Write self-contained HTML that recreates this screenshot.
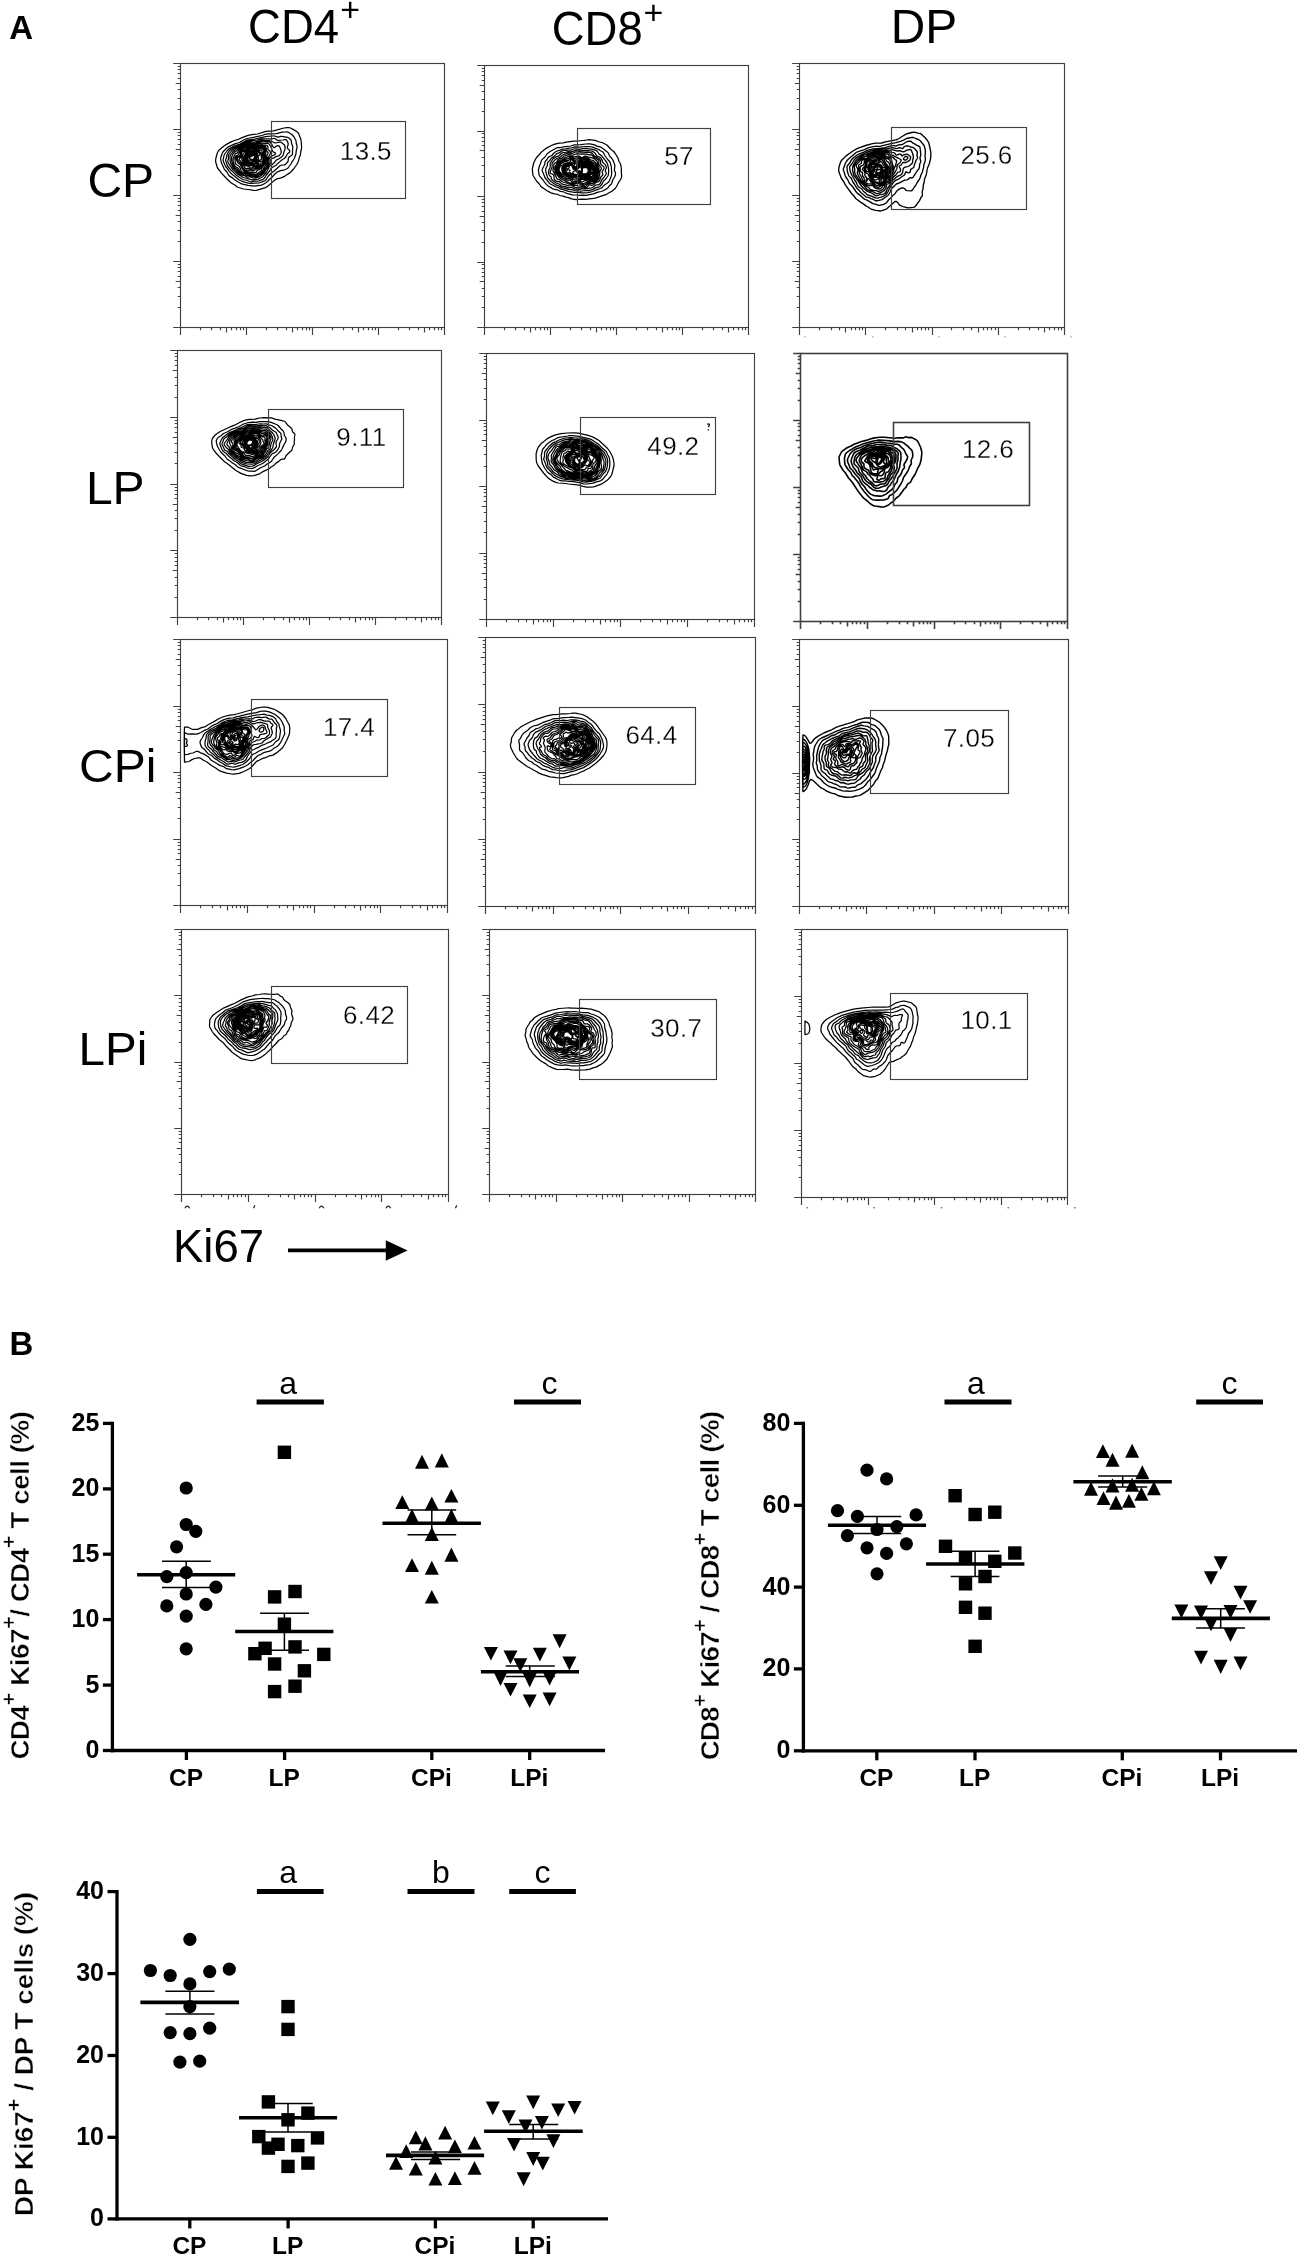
<!DOCTYPE html>
<html><head><meta charset="utf-8"><title>Figure</title>
<style>html,body{margin:0;padding:0;background:#fff}svg{display:block;filter:grayscale(1)}text{font-family:"Liberation Sans",sans-serif;fill:#000}</style>
</head><body>
<svg width="1299" height="2257" viewBox="0 0 1299 2257">
<rect width="1299" height="2257" fill="#fff"/>
<path d="M283.9 128l3.1-0.4 2 0 1.5 0.4 3 1.6 3.5 2.2 1 0.9 0.9 1.3 0.6 2 1.3 3 0.5 4 0.3 4.5 -0.2 1.5 -0.6 2.5 -0.4 3.5 -1.1 2.5 -0.5 2.5 -0.5 1.5 -1.5 3 -3.2 4.5 -2.6 2.8 -2 1.6 -2.6 1.6 -2.4 1.7 -3.5 1.4 -3 0.6 -1 0.4 -3 2 -6.1 5.4 -1.9 1.1 -8.5 2.6 -1.5 0.3 -2-0.1 -5-0.9 -5-0.5 -5-1.5 -1.5-0.7 -2.2-1.8 -3.5-2 -4.8-4.5 -5-5.4 -4-5.1 -0.4-1 -0.6-2.5 -0.7-2 -0.2-1.5 0.2-2.5 1.5-5.5 1.1-2 1.1-1.3 2.5-2.2 3.5-2.6 5.5-3 5-1.9 2.5-0.7 3-1.4 6.5-2.5 4-0.8 5.3-0.6 8.7-2.6 7.5-0.6zM285.2 132l1.8-0.1 1 0.2 4.4 2.9 1.3 1.5 2 3.5 0.3 1 0.3 2.5 0.7 2.5 0.1 1.5 -0.8 3 -0.4 3.5 -1.2 3.5 -0.7 1.5 -1.5 2.1 -1.6 2.9 -2.9 4 -1 0.7 -3.5 1.5 -3 0.5 -3.5 1.4 -2.1 1.9 -3.1 3.5 -2.5 2 -1.8 2.1 -1.5 1.1 -3.5 2 -1 0.4 -7 1 -6.5-0.7 -5.5-1.3 -2-0.8 -2-1.1 -3.5-2.2 -2.5-2.1 -3-1.8 -0.9-1.1 -2.1-3.5 -2-2 -3.2-7 -0.6-3 0-2 1.4-4 0.8-1.5 3.4-3.5 1.7-1.4 4.5-2.3 3-1.2 4-1.1 3.5-2.2 2.5-1.3 1.5-0.5 12-2.3 3-0.7 2.5-1 1.5-0.4 2.5-0.3 8-0.2 5.5-1.4zM272.1 136l1.4-0.1 1 0.1 3.5 1.1 0.5 0 2-0.8 1 0 6 1 1.5 0.7 2 2 0.3 1 0.4 3 0.9 2 0.2 1 -0.2 2 -0.1 5 -0.5 1 -0.5 0.5 -2 1.3 -0.7 0.7 -0.5 1 -0.1 2 -0.2 1 -2.5 2.9 -1 0.5 -3 0.1 -1.9 1 -5.1 4.7 -2.5 1.8 -2.7 2.5 -0.8 1 -2.5 3.7 -0.8 0.8 -1.2 0.7 -3.5 1.3 -1.5 0.4 -8.5 0.5 -2-0.3 -5-1.2 -3.3-1.4 -1.7-1.1 -2-1.7 -4.3-3.2 -3.2-3.4 -1.5-2.3 -1.8-2.3 -2.2-4.8 -0.4-1.7 0.9-4.5 0.4-1 2.9-4 1.4-1.5 3.8-2.3 7.5-2.7 7-3.9 7.7-1.1 10.8-2.4zM273.3 138.5l0.7-0.1 1 0.2 2 1.5 1 0.3 5-0.4 2-0.5 0.6 0 0.9 0.4 1.2 2.1 0.5 1.5 -0.1 1.5 -0.8 2 0.1 1 0.6 0.9 1.5 1.3 0.3 1.3 -0.3 0.7 -2 1.6 -1.5 2.7 -1.5 1.8 -2.7 1.7 -3.3 2.9 -2.5 2.4 -4.7 2.7 -1.3 2.5 -3.6 4.5 -1.5 2.5 -0.9 1.1 -1 0.7 -4 1.5 -2.5 0.3 -2.5 0.1 -3 0.6 -1.5-0.3 -3-1.5 -2.5-0.2 -1-0.3 -1.5-0.7 -5.5-3.8 -3-3.1 -2.5-2.2 -2.9-3.7 -2-5.5 0.1-1 0.6-1.5 0.5-2.5 1-2.5 1.3-2 1.5-1.5 2.2-1.5 7.7-3 6-3.3 1.5-0.6 9-1 4.5-1.2 7-0.1 3 0.3zM260.3 140.5l1.7-0.3 3.5 0.4 3.5 0 4.1 1.4 1.9 1 4.5-0.8 1 0 1 0.3 3 2.4 0.5 1.6 0 3 -1 2.2 -0.8 3.3 -0.6 1 -1.6 1.4 -2.5 1.7 -2.1 0.9 -1.5 2 -2.4 2.4 -3 1.8 -0.5 0.8 -0.7 2 -2.3 4 -3.5 3.8 -1 0.7 -3.5 1.6 -6 0.7 -5.5-1.6 -3.5-0.7 -2-1.5 -3-1.6 -1-0.8 -2.3-2.6 -2.2-1.8 -1.5-2.4 -1.5-1.8 -1.3-2.5 -0.4-1 0.1-1 0.5-1.5 0-3 0.4-1.5 2.6-3.5 2.6-2.2 3.7-1.8 4.3-1.5 5.5-3 1.5-0.4 6.5-0.3 2.5-0.5zM259.1 142l1.4-0.4 1-0.1 3 0.4 3.5-0.1 1.3 0.2 0.9 0.5 1.1 1 1.7 3.2 1 0.9 0.5 0 0.5-0.3 1-0.9 1-0.6 1-0.1 1 0.2 0.5 0.6 1 2 0.8 3.5 -0.2 1 -1.6 2.4 -0.5 0.4 -2.5 0.5 -2.5 1.6 -2 0.6 -1 0.7 -0.3 0.8 0.3 2 -0.2 1 -2.5 2.5 -1 2.5 -1.7 2 -1.1 2.5 -3 2.8 -1.5 1 -3.5 1.4 -1.5 0.2 -2-0.1 -2.7-0.8 -2.3 0 -1-0.2 -2-0.9 -3.5-1.1 -2-1 -1.6-1.3 -1.9-2.4 -2.5-1.9 -2.7-4.7 -0.6-2 -0.2-5 0.5-1.5 2.6-3.5 2.4-2 3-1.8 3.5-1.1 6.5-3.2 7-0.1zM259.1 143l1.4-0.2 3.5 0.7 3.5-0.2 1 0.3 1 0.9 1.3 2 1.1 3 1 2 0.6 0.6 1.5 0.6 0.3 0.3 0.1 0.5 -0.1 0.5 -1 1 -1.8 0.6 -1 0.5 -1.9 1.9 -0.6 1.5 0.1 2.5 -0.2 1 -1.8 2 -0.9 2.5 -1.7 1.8 -0.6 1.7 -0.6 1 -1.8 1.8 -1.5 1 -3.5 1.6 -1.5 0.2 -4.5-0.8 -2.5-0.1 -1-0.3 -2-1.2 -3-0.3 -1.5-0.6 -1.1-0.8 -0.9-1 -1-1.9 -0.5-0.6 -2-1 -1-1 -1.9-4 -0.4-2 -0.1-3.5 0.4-1.5 1.3-2.5 1.2-1.4 2-1.1 2-2 1-0.5 2.5-0.8 2.5-1.3 2.5-0.8 2.5-1.2 2.5-0.1 4 0.2zM258.7 144.5l0.8-0.3 1-0.1 2.5 0.7 3 0.4 1 0.3 0.9 1 0 2.5 0.2 0.5 1.9 1.7 0.5 1.3 -0.4 2 -1.3 2 -0.5 1 -0.7 5 -1.7 2 -1.2 2.5 -1.4 1.5 -0.4 2 -0.4 1 -1 1 -1 0.7 -4 2 -1 0.3 -2.5-0.5 -4.5-0.4 -2.5-1.3 -3.9-0.3 -1.1-0.4 -0.7-0.6 -0.8-1 -0.7-2 -0.7-1 -2.1-1 -1-0.8 -1.5-3.2 -0.4-2 0.1-2.5 0.5-1.5 1.3-2.8 0.5-0.6 2-0.8 1.4-2.3 0.6-0.6 5-2.3 2.5-0.8 3-1.4 2.5-0.1 4 0.2 1-0.3zM259.9 145.5l1.1 0.1 3.5 0.6 1 0.4 0.6 0.9 0.4 3 1.5 2 0.1 0.5 -0.1 0.5 -1 2 0.1 3 -0.7 3 -0.5 1 -2.2 3 -1.8 2 -0.4 1 0 1.5 -0.3 1 -0.7 0.6 -1.5 0.8 -2 1.4 -1.5 0.5 -2-0.5 -2.5 0 -1.5-0.1 -2.5-1.3 -4.3-0.4 -1.1-0.5 -0.6-1 -0.5-2 -1-1.7 -1-1.1 -2-0.9 -1-1.3 -0.3-1 -0.1-2 -0.3-2 0.2-1 0.5-1.1 1-0.9 1.5-0.5 0.6-0.5 0.9-3 0.5-0.6 1-0.6 2-0.8 2.5-0.7 3.5-2 1-0.4 2-0.2 4.5 0.1zM260 146.5l1.5 0.1 2.5 0.7 0.5 0.3 0.6 0.9 0.7 4 -0.2 3 0.5 3 -0.3 1.5 -1.1 2.5 -3.6 4.5 -1.1 2.1 -0.5 0.5 -2 0.6 -0.5 0.5 -0.5 1.3 -0.5 0.4 -0.5 0.1 -2-0.3 -3 0.4 -1-0.3 -1.5-0.8 -3.5-0.4 -1-0.5 -1.9-3.1 -1.1-2.6 -0.8-0.9 -1.7-1.1 -0.7-0.9 -1.3-3.5 0.2-1 0.3-0.5 1-0.6 1.7-0.4 0.7-0.5 0.5-1 0-2 0.6-1.1 1.5-0.7 2.5-0.3 1-0.3 3.5-2.6 2-0.5 5 0zM259.6 147.5l1.5 0 1.9 0.5 1 0.7 0.4 0.8 0.2 2 -0.3 3 0.9 4 -0.5 2 -1 2 -1.9 2 -2.3 3.5 -0.5 0.4 -2.3 0.6 -1.7 1.1 -4 0.8 -1-0.2 -2-0.7 -2.5 0.1 -1-0.5 -1.5-2.1 -0.8-2 -0.7-1.3 -3-2.8 -1.1-2.4 -0.1-1 0.7-0.6 2-0.6 1-0.8 0.6-1.5 0.1-2 0.8-0.8 1-0.2 2-0.1 1.2-0.4 0.8-0.5 1.9-2 1.1-0.5zM255.1 148.5l1.9-0.1 4.5 0.4 1.5 0.5 0.5 0.6 0.2 1.1 -0.5 2.5 0 1 1 4 -0.3 1.5 -0.4 1.3 -1 1.2 -1 0.4 -1.2 0.1 -0.3 0.3 0.3 1.7 -0.3 1 -0.6 1 -0.9 0.6 -5 1.2 -2.5 0.7 -1-0.2 -2-1.2 -1.5 0.6 -1-0.2 -0.5-0.5 -0.7-1.5 -2.2-3.5 -2.3-2.5 -0.5-1 0-0.5 0.3-0.5 2.2-2 1.7-3 0.5-0.5 4-1.6 0.6-0.4 1.3-1.5 0.7-0.5 0.9-0.3 2 0zM254.5 149.5l2-0.2 4.9 1.2 0.6 0.4 0.4 4.6 0.6 3 -0.1 1.5 -0.4 0.8 -0.5 0.4 -2.5 0.2 -0.5 0.1 -0.6 0.5 -0.1 0.5 0 1 0.8 2 -0.1 0.5 -0.5 0.7 -0.7 0.3 -1.3 0.2 -3-0.1 -0.5 0.1 -1.5 0.9 -1 0.1 -0.5-0.4 -1-1.4 -0.5-0.3 -2.5-0.2 -1.5-1 -0.7-0.9 -0.8-2.1 -1.1-1.9 -0.2-1 0.1-0.5 0.6-1 2.1-2.1 1.3-1.9 0.6-0.5 3-1.5 2.1-1.4zM254.1 150.5l1.9-0.3 3 1 1.5 1.2 0.8 1.6 0 3 0.2 1.5 -0.3 1 -0.7 0.4 -2.5 0.8 -0.5 0.3 -0.3 0.5 0 1 0.7 2.5 0 0.5 -0.3 0.5 -1.6 0.4 -1-0.1 -2-0.7 -2 0.4 -2-1 -2.5-0.1 -1-0.4 -0.9-1 -1.3-3.5 -0.2-1 0.4-1 2-2.4 0.9-1.6 0.6-0.6 1-0.6zM253.5 151.5l1.5-0.4 1.5 0.2 2.2 1.2 1.3 1.5 0 0.5 -0.2 0.5 -1.3 1 -0.3 0.5 -0.1 1 0.4 1 -0.1 0.5 -1.4 1 -0.8 1 -0.1 1 0.7 2 -0.1 1 -0.7 0.5 -0.5 0 -2.5-1 -2 0.1 -2.5-0.6 -2-0.2 -0.5-0.2 -0.9-1.1 -0.7-2.5 -0.1-1 0.6-1.5 2-3 0.6-0.7 1-0.5 3-1zM254.2 152l0.8-0.1 1 0.2 1.1 0.9 0.6 1 0 1 -0.7 2 -0.3 1.5 -1.7 3 0 1 0.4 1 -0.1 0.5 -0.3 0.1 -1.5-0.5 -3 0.1 -4-1 -0.9-1.2 -0.4-1.5 0-1 0.5-1.5 1.5-2.5 0.4-0.5 0.9-0.6 3-0.8zM253.6 153l0.9-0.3 1.2 0.3 0.9 1 0.3 1 -0.3 1 -1.2 3 -1.9 3 -1 0.8 -1.5 0.3 -4-1.3 -0.7-0.8 -0.4-2 0.4-1.5 1.2-1.9 1-0.9 3-0.8zM253.2 154l0.8-0.3 1 0 0.6 0.3 0.5 1 -0.1 1 -1 2.5 -1 1.6 -1.5 1.5 -1 0.6 -1 0 -3-1.2 -0.6-1 -0.2-1.5 0.3-1 1-1.5 1-0.7 2.5-0.5zM252.9 155l1.6-0.5 0.5 0.2 0.4 0.8 -1 3 -0.9 1.2 -1.5 0.7 -3-0.2 -0.5 0 -0.5-0.4 -0.3-1.3 0.3-1 0.5-0.7 0.5-0.4 2.5-0.7zM253.1 155.5l0.9-0.3 0.5 0.2 0.2 0.6 -0.5 2 -0.7 1.1 -0.5 0.4 -1 0.1 -2.5-1.1 -0.3-0.5 0.3-0.5z" fill="none" stroke="#000" stroke-width="1.25" stroke-linejoin="round"/>
<rect x="180.5" y="63.5" width="264" height="264" fill="none" stroke="#404040" stroke-width="1.15"/>
<rect x="271.5" y="121.5" width="134" height="77" fill="none" stroke="#404040" stroke-width="1.15"/>
<path d="M180.5 327.5v7.5M200.5 327.5v2.8M211.5 327.5v2.8M220.5 327.5v2.8M226.5 327.5v5M231.5 327.5v2.8M236.5 327.5v2.8M240.5 327.5v2.8M243.5 327.5v2.8M180.5 327.5h-7.3M180.5 307.5h-2.8M180.5 296.5h-2.8M180.5 287.5h-2.8M180.5 281.5h-4.8M180.5 276.5h-2.8M180.5 271.5h-2.8M180.5 267.5h-2.8M180.5 264.5h-2.8M246.5 327.5v7.5M266.5 327.5v2.8M277.5 327.5v2.8M286.5 327.5v2.8M292.5 327.5v5M297.5 327.5v2.8M302.5 327.5v2.8M306.5 327.5v2.8M309.5 327.5v2.8M180.5 261.5h-7.3M180.5 241.5h-2.8M180.5 230.5h-2.8M180.5 221.5h-2.8M180.5 215.5h-4.8M180.5 210.5h-2.8M180.5 205.5h-2.8M180.5 201.5h-2.8M180.5 198.5h-2.8M312.5 327.5v7.5M332.5 327.5v2.8M343.5 327.5v2.8M352.5 327.5v2.8M358.5 327.5v5M363.5 327.5v2.8M368.5 327.5v2.8M372.5 327.5v2.8M375.5 327.5v2.8M180.5 195.5h-7.3M180.5 175.5h-2.8M180.5 164.5h-2.8M180.5 155.5h-2.8M180.5 149.5h-4.8M180.5 144.5h-2.8M180.5 139.5h-2.8M180.5 135.5h-2.8M180.5 132.5h-2.8M378.5 327.5v7.5M398.5 327.5v2.8M409.5 327.5v2.8M418.5 327.5v2.8M424.5 327.5v5M429.5 327.5v2.8M434.5 327.5v2.8M438.5 327.5v2.8M441.5 327.5v2.8M180.5 129.5h-7.3M180.5 109.5h-2.8M180.5 98.5h-2.8M180.5 89.5h-2.8M180.5 83.5h-4.8M180.5 78.5h-2.8M180.5 73.5h-2.8M180.5 69.5h-2.8M180.5 66.5h-2.8M444.5 327.5v7.5M180.5 63.5h-7.3" stroke="#404040" stroke-width="1.15" fill="none"/>
<text x="365.9" y="159.7" font-size="26" font-weight="normal" text-anchor="middle" fill="#111" stroke="#fff" stroke-width="0.3" letter-spacing="0.4">13.5</text>
<path d="M586.6 140l2.4-0.3 6 0.7 4.5 1.6 3 0.7 3.6 1.8 1.3 1 3.2 3.5 3.1 2.5 1.2 1.5 2.6 4.2 0.7 1.3 0.8 3 1.3 2 0.4 1 0.7 4.5 -0.1 3 0.4 4 -0.3 1.5 -0.5 1.5 -2.4 3.7 -2.3 4.3 -1.1 1.5 -2.9 2.5 -5.7 3.3 -10.5 3.5 -2.5 0.6 -4.5 0.4 -3 0.5 -4-0.1 -6 0.5 -4.5-0.8 -3-1.2 -2.5-0.5 -3-1.1 -3-0.6 -3-1.3 -2.5-0.3 -3.5-1 -4-2.2 -2.4-1.7 -2.6-1.6 -1-0.8 -1.7-2.6 -2.8-3 -3.4-5.5 -0.3-1 -0.1-2 -0.4-2.5 0.2-2 1.2-5 2.3-4.7 0.9-1.3 3-3 1.6-2.1 5-3.8 4.9-2.6 2.6-1.1 5-1.3 4.5-0.2 2.5-0.8 8-0.9 4.5-0.2 3.5-0.5 2.5-0.1zM585.7 144l2.8-0.2 1.5 0.1 4.5 1 2.5 1.2 3 0.7 1 0.5 2.5 1.7 4.4 3.5 0.7 1 0.7 2 0.6 1 2 2 1.1 1.8 1.8 4.7 0.1 1 -0.5 3.5 0.1 1 1 2.5 0 1.5 -0.7 2 -2 3.5 -1.2 3.5 -0.6 0.8 -1.8 1.7 -1.2 1.8 -1 0.8 -4.5 2.4 -1.5 0.5 -3 0.6 -4.5 1.8 -5 0.9 -2.5 0.6 -3-0.2 -3 0.1 -2.5-0.3 -5-0.1 -5-1.2 -3.5-1.7 -3.5-0.6 -3.5-1.6 -3.5-0.6 -2-1.3 -2.7-1.4 -1.3-0.9 -3-3.4 -1.9-2.7 -3.1-3.7 -0.5-1.3 -0.6-4.5 1-4 1.1-2.5 1-3.1 1-1.3 2.1-1.6 2.4-3.5 3.2-2.5 6.8-3.8 1-0.2 2.5 0 3-0.6 7-0.9 4-1.2 6.5-0.1zM585.1 146.5l3.9 0 3.5 0.6 6.3 2.4 1.7 1.2 2 1.1 0.8 0.7 1.5 3 2.9 4 1.9 2 0.5 1 1.2 4 0.4 7 -0.4 2.5 -1.8 4.6 -0.9 1.4 -1.8 1.5 -2.8 1.8 -2 2.3 -1.4 0.9 -3.6 1.1 -4.5 1.9 -2.5 0.7 -2 0.4 -4.5 0.2 -2.5 0 -4-0.6 -2.5 0.1 -6-0.9 -3.5-1.3 -4-0.9 -2.5-1.5 -3.5-1.2 -2-1.3 -2.5-1.1 -1-0.7 -4.6-5.9 -1.4-3.8 -1-2.2 -0.3-1 0.2-1.5 2.3-4.5 0.2-2 0.3-1 1.7-2 1.6-2.4 3.3-1.6 2.2-2.5 2.5-1.7 1-0.5 2.5-0.6 2.5-1 3.5-0.4 2.5-0.6 2.5-0.2 4-1.1 4.5 0.3zM573.8 149l1.7-0.2 4 0.6 3-0.8 4.5 0 5.5 0.7 3.5 1.1 1 0.6 0.4 0.5 1.6 2.5 0.5 0.4 1.5 0.9 1 0.9 4.8 6.3 0.9 2 0.9 4.5 0 3.5 -0.4 3 -2.4 3.5 -2.3 1.9 -1.5 3.1 -1.2 1.5 -1 1 -1.3 0.6 -2.5 0.5 -3.5 2 -4 1 -3-0.1 -3.7 0.5 -1.8 0 -5-0.5 -3.5-0.9 -3-0.1 -3-1.1 -4-0.8 -2.5-1.6 -3-1.1 -5-3.4 -3.1-3.5 -0.5-1 -1.4-4.5 -0.3-2 0-1.5 0.6-1.5 1-1.5 0.1-2.5 0.3-1 2.3-2.3 1.5-2.2 3-1.9 2-2.3 2.5-0.9 3.5-2.1 1-0.3 2.5-0.1 2-0.4 3 0.1zM582.9 150.5l2.1 0.2 3-0.2 3.3 0.5 1.2 0.4 1.9 1.1 0.6 0.5 1.1 2 1 1 0.9 0.5 2 0.7 1 0.8 0.8 1.5 1.1 3 2.1 1.9 0.8 1.1 0.5 1.5 0 1 -1 2.5 0 0.5 1 2 -0.1 1 -2.3 3.5 -2 2 -1.5 3.5 -0.9 1.2 -1 0.6 -1.5 0 -1 0.2 -3.4 2.5 -1.1 0.4 -2 0.3 -2.5 0.6 -5-0.2 -2.5 0.8 -1.5 0 -3.5-0.5 -3.5-1.6 -2.5 0.5 -3.5-1.2 -3-0.5 -1-0.5 -2-1.6 -2.8-1 -4-3 -0.9-1.5 -0.1-1.5 -1.2-0.9 -0.8-1.1 -0.6-1.5 -0.1-1.5 0.5-2.5 1-2 0.3-1 -0.2-2 0.1-1 2.8-4.7 3.5-2.1 2.5-0.9 2.5-2.5 1.5-0.8 2 0 3-0.9 3.5 0.2 3.5-1.2 1.5 0 3.5 0.3zM575.5 152l1.5-0.2 3 0.4 2.5-0.2 2.5 0.3 3-0.2 3 0.5 1.4 0.9 1.1 1.6 0.9 0.9 4.5 2.5 1.1 1 0.6 1.5 -0.1 2 0.3 1 0.7 0.9 2.1 1.6 0.4 0.8 0 0.7 -0.3 1 -1.6 3 0.1 0.5 0.7 1.5 -0.2 1 -2.2 2.5 -0.7 2.5 -0.8 1.3 -0.5 0.4 -2.5 0.7 -2 2 -1.5 0.8 -1 0.1 -1.5-0.6 -1 0.2 -1.5 2.1 -1 0.5 -1.5 0.1 -2.5-0.6 -1 0 -2.5 0.8 -1 0.1 -3-0.5 -3.5-1.9 -3 0.3 -3-1 -3-0.6 -1-0.6 -1.5-1.5 -1-0.4 -1.5-0.1 -1-0.4 -1.1-0.7 -1-1 -0.3-1 0-2 -0.5-1.5 -0.6-0.6 -2.4-0.9 -0.5-1 0.3-1.5 1.6-3.5 0.2-1.5 -0.2-2 0.4-1 0.6-0.9 1.5-1.8 1-0.8 1.5-1 3.5-1.5 2-2 5.5-1.8 1-0.1 2.5 0.3 1-0.1zM575.7 154l1.3-0.3 3 0.4 2.5-0.3 4 0.3 2.5 0.8 2-0.2 0.5 0.2 2 1.9 2.1 1.2 2.8 2 0.4 0.5 0.2 1 -0.3 2 0.2 1 2.2 3 0.4 1 -0.4 1 -0.9 1 -0.3 0.5 -0.1 3 -0.6 2 -0.3 2 -0.4 1.1 -0.7 0.9 -4.8 3.3 -1 0.1 -2-0.3 -1.4 0.4 -1.2 1 -1.1 1.5 -0.8 0.4 -0.5 0 -3-0.6 -3.5 0.2 -2-0.5 -2-0.1 -3-1.1 -2.5-0.1 -2.5-1.2 -3.6-1 -0.9-0.5 -2-1.6 -2.5-0.8 -0.5-0.3 -0.5-0.8 -2-4.7 -1.5-2.3 0-1 0.8-3.5 0-2 0.5-1 2.4-1.5 1.1-2 0.5-0.5 1.2-0.6 2.5-0.8 0.5-0.3 1.1-1.3 0.8-0.5 4.1-1.3 1 0 2.5 0.4 1 0zM568 156.5l1.5-0.4 4.5 0.8 5-0.8 1 0.4 1 0.8 1 0.2 2.5-1.2 1-0.2 3 1.1 3 0.4 2 0.7 1.2 0.7 2.1 2 0.4 0.5 0.5 3 1.4 3 -0.4 4.5 -0.7 2.7 -0.2 2.8 -0.7 1.5 -1.1 1 -2 1.2 -1 0.4 -2 0 -1.5 0.3 -2 1.1 -2 1.6 -1 0.3 -4-0.4 -2.5-1.2 -1 0 -2.5 0.9 -1-0.2 -2-0.8 -2-0.3 -7-3.3 -2.6-1.6 -1.1-1 -2.3-2.8 -1.3-2.2 -0.3-1 -0.1-1.5 0.1-1.5 0.3-1 1-2.5 3.2-4 3.1-1 2.5-1.8 2-0.6zM570.3 157.5l1.7 0.2 2.5 0.9 0.5 0.1 3-1.2 1 0 1.5 0.8 1 0.3 1-0.2 2-0.8 1-0.1 3 1.1 2.5 1.4 2 0.4 0.5 0.3 2.5 2.6 0.5 0.9 1.1 3.3 0.3 4 -0.9 3 -0.3 3 -0.5 1 -1.1 1 -1.1 0.6 -1 0.2 -3.5 0.3 -2.5 1.2 -2.5 1.5 -2 0.3 -1.5-0.3 -2-1.1 -1-0.3 -1.5 0.2 -2 0.8 -1-0.1 -1.5-0.8 -1.5-1.6 -0.5-0.2 -2 0 -1.5-0.3 -2.5-1.4 -2-0.8 -1.5-0.9 -3.5-3.6 -0.8-1.2 -0.2-1 -0.1-2 0.5-2 2.4-4 1.2-1.2 5-2.6 3-0.6 1.5-0.9zM584.9 158.5l1.1 0.1 1 0.4 3.1 2 2.2 1 2.7 2.3 0.6 0.7 1.5 5.5 0.1 1 -1.1 2.5 -0.5 3.5 -0.8 1 -0.8 0.6 -2 0.4 -3-0.2 -2.5 1 -2.5 0.7 -1.5 1 -0.5 0.1 -2.5-0.9 -1.5-0.3 -1.5 0.1 -2.5 0.5 -1-0.5 -1.1-1.5 -0.9-0.6 -1.5-0.4 -2 0.1 -1-0.1 -2.5-1.8 -2-0.4 -1-0.5 -3-2.8 -0.8-1 -0.3-1.5 0.2-2.5 1.9-3.6 1-1.2 4-2.5 1-0.4 1-0.2 2.5 0.2 0.5-0.2 1.1-1.1 0.9-0.4 1.5 0.2 1.5 1.1 1 0.4 1-0.1 2-1.3 1 0 2 0.6 1 0zM570.9 160l0.6-0.3 0.5 0.1 2 1.4 2.5 0.9 0.5-0.2 1-1 1-0.6 1-0.1 3 0.3 1.5-0.7 1-0.2 2 0.7 4.3 2.7 3 3.5 1.5 4 0.1 1 -1.2 2.5 -0.4 2.5 -0.4 1 -0.5 0.5 -0.9 0.5 -1 0.1 -2.5-0.4 -2.5 1.1 -1.5 0.3 -3-0.3 -2 0.9 -5.5-0.3 -1-0.4 -1.6-1 -1.9-0.9 -3.5-0.7 -2.5-1.7 -2.5-0.1 -1-0.4 -2.5-2.5 -0.6-1.2 0.1-2.6 1.5-3 1-1.1 4-2.8 1.5-0.2 2 1 1 0.1 0.5-0.2 0.8-0.7zM585.1 161l0.9-0.3 1.5 0.4 3.4 2.4 0.9 1 0.9 1.5 1.5 1.5 0.6 1 0.7 2 0 1 -1.3 3 -0.5 2 -0.3 0.5 -0.7 0.5 -0.7 0.1 -2.5-0.2 -2.5 1.2 -1.5 0.3 -3-0.6 -2.5 0.8 -2.5-0.2 -1.4-0.4 -1.1-0.7 -2.5-0.4 -2.5-1 -2.5-0.8 -3-1.4 -2-0.2 -1-0.3 -1.3-1.2 -0.9-1.5 -0.2-1 0.1-1.5 0.7-1.5 0.6-1 0.5-0.3 2-0.7 1.4-1.5 0.6-0.3 4.5 0.1 1.1-0.3 1.4-0.8 1-0.1 1.5 0.4 0.6 0.5 0.9 1.2 0.5 0 1-0.7 2-2.1 1.5-0.2 2 0.7 0.5 0zM586 161.5l0.5 0 1 0.2 2.3 1.8 0.9 1 1 2 1.8 1.5 1 1.7 0.3 1.3 -0.2 1 -1.5 2.5 -0.6 1.4 -0.5 0.4 -2.5 0.3 -2.5 1.4 -1 0.3 -1 0 -2-0.7 -2.5 0.3 -2.5-0.2 -3-1.2 -2.5-0.3 -2.5-1 -3-0.8 -4-1.7 -0.7-0.7 -0.5-3.5 0.1-1 0.8-1 3.3-2.1 1-0.2 3.5-0.3 3-0.6 0.5 0.2 0.4 0.5 -0.2 2 0.3 0.8 0.5 0.2 1-0.4 1.5-1.9 2.5-2.2 1-0.1 1.5 0.4 1 0.1zM585.4 162.5l0.6-0.3 1 0 1 0.5 0.8 0.8 0.9 1 1.6 3 1.7 1.3 0.5 0.6 0.5 1.6 -0.2 1 -0.8 1.1 -3.1 2.4 -2.4 1.7 -1 0.5 -1 0.1 -2.5-0.8 -2-0.1 -2-0.6 -2 0 -4-1 -3-1.2 -3-0.4 -3-1.8 -0.5-0.5 -0.5-0.9 -0.4-2 0.3-1 1.1-0.9 3-1.7 3-0.3 2.5 0.1 0.5 0.6 0.7 2.2 0.3 0.3 0.5 0.2 1-0.3 1-0.7 1.5-1.9 1-0.7 2-0.7 2.5 0 1-0.5zM585.8 163l0.7-0.2 0.5 0 1.5 1.2 0.6 1 1.5 3 0.4 0.6 1.5 1.2 0.5 1.2 0 0.5 -0.5 0.7 -2 1.1 -1.7 2.2 -1.3 1.1 -1 0.6 -1 0.1 -2-0.8 -2-0.3 -2.5-1.3 -2 0.6 -2.6-0.5 -1.2-0.5 -3.2-2 -2 0.4 -1-0.1 -3-2.1 -0.7-1.2 -0.1-1 0.2-0.5 0.6-0.7 3-1.6 2-0.4 2 0.2 1 0.5 1 2.7 0.5 0.6 0.5 0 2.5-1.6 1.5-1.8 1-0.8 2-0.5 3-0.2zM569.5 169.8l-0.3 0.7 0.3 0.5 0.5-0.5 -0.2-0.5zM585.7 164l0.8-0.4 0.5 0.1 1 0.8 1.2 2 2.1 4.5 -0.2 0.5 -1.1 1.2 -1.5 2.3 -1.5 1.4 -0.5 0.2 -1 0.1 -2-0.7 -2-0.5 -0.8-0.5 -1.7-1.8 -0.5-0.1 -0.5 0.3 -1 1.1 -1 0.1 -2-0.6 -1-1 -0.2-0.5 0.2-0.5 1.4-1 1.2-2 1.4-1.1 1.7-1.9 1.3-0.5 4-0.4 1-0.5zM567 166.5l1.5-0.2 0.7 0.2 0.3 0.5 -2 3 -0.5 0.6 -0.5 0.2 -1-0.2 -1-0.5 -0.7-1.1 0.2-1 1-0.7zM585.3 165.5l1.2-0.5 0.5 0.1 1 0.8 1 1.7 0.8 2.9 0 1 -0.5 1 -1.1 2 -1.2 1.2 -0.5 0.3 -1 0.1 -1.6-0.6 -1.9-0.4 -1-0.6 -1.5-2.4 -1-0.2 -2 0 -0.5-0.2 -0.2-1.2 0.3-1 2.9-2.9 1-0.3 4-0.5zM565.2 168l1.3-0.2 0.5 0.2 0 0.5 -0.5 0.6 -1 0.4 -0.8-0.5 -0.1-0.5zM584.1 166.5l2.4-0.2 1 0.4 1 1.2 0.6 2.1 0 1.5 -0.9 2 -1.2 1.5 -1 0.5 -4-1 -0.5-0.3 -0.5-0.7 -0.5-2.2 -0.5-0.4 -1.5 0 -1-0.2 -0.5-0.7 0.6-1 1.9-1.6 2.5-0.7zM582.4 167.5l1.6-0.4 2-0.1 1 0.3 1 0.9 0.6 1.8 0 1.5 -1.1 2 -1 0.9 -1 0.2 -2.5-0.5 -0.6-0.1 -0.7-0.5 -0.2-1 0.3-2 -0.5-2 0.3-0.5zM584.3 167.5l1.7 0 1 0.3 0.7 0.7 0.5 1.5 0.1 1 -0.3 0.9 -1 1.5 -1 0.5 -3-0.3 -0.5-0.2 -0.4-0.4 -0.1-0.5 0.4-1.5 0-2.5 0.6-0.6z" fill="none" stroke="#000" stroke-width="1.25" stroke-linejoin="round"/>
<rect x="484.5" y="65.5" width="264" height="262" fill="none" stroke="#404040" stroke-width="1.15"/>
<rect x="577.5" y="128.5" width="133" height="76" fill="none" stroke="#404040" stroke-width="1.15"/>
<path d="M484.5 327.5v7.5M504.5 327.5v2.8M515.5 327.5v2.8M524.5 327.5v2.8M530.5 327.5v5M535.5 327.5v2.8M540.5 327.5v2.8M544.5 327.5v2.8M547.5 327.5v2.8M484.5 327.5h-7.3M484.5 307.5h-2.8M484.5 296.5h-2.8M484.5 288.5h-2.8M484.5 281.5h-4.8M484.5 276.5h-2.8M484.5 272.5h-2.8M484.5 268.5h-2.8M484.5 264.5h-2.8M550.5 327.5v7.5M570.5 327.5v2.8M581.5 327.5v2.8M590.5 327.5v2.8M596.5 327.5v5M601.5 327.5v2.8M606.5 327.5v2.8M610.5 327.5v2.8M613.5 327.5v2.8M484.5 262.5h-7.3M484.5 242.5h-2.8M484.5 230.5h-2.8M484.5 222.5h-2.8M484.5 216.5h-4.8M484.5 211.5h-2.8M484.5 206.5h-2.8M484.5 202.5h-2.8M484.5 199.5h-2.8M616.5 327.5v7.5M636.5 327.5v2.8M647.5 327.5v2.8M656.5 327.5v2.8M662.5 327.5v5M667.5 327.5v2.8M672.5 327.5v2.8M676.5 327.5v2.8M679.5 327.5v2.8M484.5 196.5h-7.3M484.5 176.5h-2.8M484.5 165.5h-2.8M484.5 157.5h-2.8M484.5 150.5h-4.8M484.5 145.5h-2.8M484.5 141.5h-2.8M484.5 137.5h-2.8M484.5 133.5h-2.8M682.5 327.5v7.5M702.5 327.5v2.8M713.5 327.5v2.8M722.5 327.5v2.8M728.5 327.5v5M733.5 327.5v2.8M738.5 327.5v2.8M742.5 327.5v2.8M745.5 327.5v2.8M484.5 131.5h-7.3M484.5 111.5h-2.8M484.5 99.5h-2.8M484.5 91.5h-2.8M484.5 85.5h-4.8M484.5 80.5h-2.8M484.5 75.5h-2.8M484.5 71.5h-2.8M484.5 68.5h-2.8M748.5 327.5v7.5M484.5 65.5h-7.3" stroke="#404040" stroke-width="1.15" fill="none"/>
<text x="679.1" y="164.5" font-size="26" font-weight="normal" text-anchor="middle" fill="#111" stroke="#fff" stroke-width="0.3" letter-spacing="0.4">57</text>
<path d="M912 132.5l2-0.3 1 0.1 3 0.9 2.5 0.5 1 0.5 1.7 1.8 1.8 1.5 2.4 3 1.2 2 0.7 2.5 1.3 6 0.3 3 -0.3 4.5 -1.4 5.5 -1.7 4 -1.3 7 -1.5 3.5 -0.6 4 -0.9 3 -0.1 3 -1 3.5 0.4 2.5 -0.3 1.5 -1.2 1.5 -1.5 3.1 -3.9 5.4 -1.1 0.9 -1 0.4 -5.5 0.6 -5-1.2 -3-1.3 -0.9-0.9 -1.1-1.7 -2-1.5 -0.5 0 -1 0.6 -2.5 2.1 -1.5 1.5 -3.5 3.1 -1.5 0.8 -3.5 1.3 -2 0.3 -2-0.4 -2.5-0.2 -5-1.6 -2.5-1.8 -2-1.1 -3-2.3 -2.5-1.5 -4.7-3.6 -1.9-2.5 -2.7-3 -5.7-7.9 -1.9-3.6 -2.4-3.5 -2.4-6.5 -0.1-1.5 0.2-2.5 0.7-2.5 1.2-3.5 1.2-1.6 4.5-4.3 6.4-4.6 4.1-2.3 8.7-3.2 5.8-1.7 4-0.7 4 0.1 2-0.2 5-1.3 9.5-1.8 1.1-0.4 2.7-1.5 3.1-2 3.1-1.8 3.5-1.2zM911.4 137.5l1.1-0.2 1 0.2 2 1 2.5 0.9 1.5 0.8 1 0.8 3.6 4.5 1.1 4 0.2 1.5 -0.1 2.5 -0.3 2.5 0.4 2.5 -0.1 1.5 -0.3 1.5 -1.1 3 -0.3 3 -1 3 -0.3 2 -1.3 2.1 -0.8 2.9 -0.9 2 -2.1 3 -1.6 3 -1.6 2.1 -1.5 2.4 -0.5 0.5 -1 0.4 -4-0.3 -1-0.3 -1.5-1.8 -1-0.5 -1.5-0.1 -1.5 0.5 -1 0.5 -3 2.4 -1.7 2.7 -2.3 1.7 -1.3 1.8 -2.3 2 -2.4 3.2 -1 0.7 -2 0.9 -4 1 -1.5-0.1 -2-0.9 -3-0.7 -5.5-3.2 -3-1.2 -1-0.8 -2-2 -4-3 -1.2-1.4 -3.8-5.5 -2-1.9 -1.5-2.1 -1.4-3 -1.8-2.5 -0.5-1 -1-3.5 -0.8-2 -0.2-1 0.2-1 1.8-5 1.2-2.3 1.4-1.7 8.2-7 1.4-0.7 4.5-1.5 2.5-0.6 3-1.5 4-1.3 3.5-0.6 1-0.1 2 0.3 1.5-0.1 12.5-3.1 4-0.7 4.5-1.3 3-1.2 3-1.6zM907.3 141.5l2.7-0.3 1.3 0.3 1.7 1.7 2 0.9 2 1.4 2 0.6 0.8 0.9 0.3 1 0.7 6.5 -0.1 1 -0.6 2 -0.1 1 0.8 3 -0.3 1 -0.8 1.5 -0.3 3.5 -0.6 1.5 -1.8 2.1 -4 6.2 -1 0.7 -1.5-0.4 -0.5 0 -2 1.8 -1 0.4 -2.5 0.3 -5 2.8 -3.2 1.1 -1.8 1.9 -1.5 1.2 -1.2 1.4 -0.6 1 -0.7 2 -2.1 3.5 -0.9 0.8 -5.5 3.8 -5 1.2 -1.5 0 -2-1.3 -2.5-0.8 -2-1.2 -2.5-0.4 -1-0.5 -1.6-1.6 -2.6-2 -2.1-2.5 -2.7-2.8 -2.1-3.7 -1.5-2 -1.5-3.5 -0.8-1 -1.3-1 -0.6-1 -1.3-4 -0.4-4 0-1 0.5-1 2-2.2 2-3.6 2.2-2.2 3.3-2.5 2.5-1.2 5-2 3-1.4 5.5-1.6 6.5-0.3 5.5-0.9 4-1.2 3.5-0.7 1.5-0.1 2 0.5 2.5-1.3 4-0.3 3.7-2.5zM905.7 146l2.3-0.2 2.5 1.2 3 0.7 1.1 0.8 2.4 3 0.4 1.5 -0.5 2 0.6 2 0 1 -0.5 1 -1 1.5 -0.6 2 -1 2 -0.4 2.5 -0.3 0.5 -2.2 1.3 -0.8 0.7 -0.6 2.5 -0.6 0.7 -1 0.2 -1-0.3 -1-0.7 -0.5-0.1 -0.3 0.2 -1 2.5 -0.7 0.8 -5 3.5 -3 1.3 -2 1.6 -2.4 3.3 -2.1 3.5 -1.4 3 -0.9 1.5 -1.7 2 -2 1.2 -2.5 1 -3.5 0.9 -1 0 -1-0.2 -5.5-2.3 -2.3-0.6 -0.7-0.4 -1.5-1.7 -2-1.4 -1.6-2.5 -2.5-1.5 -1.1-1 -1-1.5 -0.9-2.5 -1.5-2 -1.2-2.5 -2-3 -1.6-4 -0.5-3.5 0.2-1 0.3-0.5 1.3-1.5 2.7-4.5 1.9-2.1 2-1.4 4.5-2.2 3-1.1 2.5-1.3 5-1.5 14.5-1.7 4.5-1 1.5 0.1 3 0.8 1-0.2 2-0.8 3 1 0.5-0.3 0.9-1.3 0.6-0.5zM890.7 150l1.3-0.3 1 0.1 3.5 1.1 1 0.1 2-0.3 2.5 0.8 1.5 0.3 1-0.3 2-1.1 2.5-0.7 1-0.2 1 0.4 0.4 0.6 1.2 3 0.8 3 0 1 -0.6 2 -0.2 3 -0.6 1 -2.9 2.5 -1.6 0.7 -2.5 0.4 -1.3 0.9 -0.5 1 -0.6 3.5 -0.4 1 -1.7 1.6 -3 1.2 -5 4.3 -3.2 5.4 -1.9 2.5 -1.1 3 -1.6 2 -1.2 0.7 -3.5 0.3 -2.5 1.2 -1.5 0.2 -1-0.5 -2-1.5 -2.6-1.4 -2.4-0.8 -1-0.6 -2-1.6 -3.6-3.5 -1.8-2.5 -1.1-2.1 -1.7-1.9 -1.2-2 -1.9-2.5 -1.1-4.5 0.1-3.5 0.3-1 0.6-1.5 1.9-3.4 1-1.3 2.5-2.1 4.5-2.3 2.5-0.8 2.5-1.3 6-1.9 6-0.7 3-0.1 2.5-0.4zM885.1 151.5l1.4-0.2 1.5 0.1 3.5 1 2.5 0.3 1 0.8 1 1.4 0.5 0.2 1-0.2 1.5-0.8 1.3-0.1 0.9 0.5 0.3 1.2 0.5 0.3 1.3-1 3.2-0.9 1 0.1 2.9 2.3 0.2 0.5 0 1 -0.6 1.8 -0.5 0.6 -3.5 2.1 -2.5 0 -0.5 0.1 -0.5 0.4 -1.3 2 -1.9 1 -0.1 0.5 0.1 0.5 0.9 1.5 0.4 1 -0.2 1.5 -0.4 0.6 -0.5 0.3 -1.5 0.3 -0.5 0.3 -1.6 2.5 -2.4 1.9 -2.2 3.1 -1.8 3 -1 0.8 -1.5 0.3 -0.3 0.4 -0.5 2.5 -1.1 2.5 -0.6 0.9 -2 1.4 -5 1.8 -1 0.1 -2-1.3 -6-2.3 -1-0.5 -1.5-1.3 -2-2.6 -3.5-3.5 -5-7.6 -0.5-1.1 -0.4-1.5 0.2-2.5 -0.5-2.5 0-1 0.7-1.5 2-3 3-2.8 3-1.6 1-0.3 2-0.3 1.8-1.5 0.9-0.5 6.3-1.9 2-0.4 4-0.4 2.5 0zM886.8 152.5l1.2 0.2 1 0.4 2 2.1 2.5 0.3 2.5 1.7 2 0.8 2.7 1.5 0.4 0.5 0 0.5 -0.3 1 -1 1.5 -1.8 1.3 -0.6 0.7 -0.5 1.5 0.1 2 -0.2 0.5 -0.6 1 -1.3 2.5 -2.3 3 -3.1 5.5 -1 1.1 -2 0.5 -1 0.8 -1 3.6 -0.9 1.5 -0.9 1 -1.7 1.1 -2.5 0.8 -0.5 0 -1.5-0.8 -3-0.2 -2-0.4 -1.7-1 -1-1.5 -1.8-0.9 -1-0.7 -2.5-2.7 -2.5-2.3 -1-2.4 -1.5-2.5 -1.1-2.5 -0.1-1 0.6-2 0-1 -0.4-1.2 -1.4-2.3 0.2-1 1-1.5 1.7-1.6 2-2.5 1-0.6 1.5-0.5 2.5 0.3 0.6-0.1 0.6-0.5 1.1-2 0.7-0.5 3.5-0.9 4.5-1.3 2.5-0.1 2.5-0.4 2.5 0.1zM905.5 156.5l1-0.1 0.5 0.2 0.5 0.4 0.3 0.5 0.1 0.5 -0.4 0.7 -1 0.9 -1 0.4 -1 0 -0.8-0.5 -0.2-0.5 0.1-0.5 0.6-1zM880.6 154l1.4-0.2 2.5 0.4 2-0.2 1 0.1 0.6 0.4 1.1 1.5 0.8 0.5 3.4 1 1.1 1.6 0.5 0.5 1.5 0.8 0.2 0.6 -1.2 4.6 -1.6 3.4 -0.5 2.5 -2.9 5.5 -2.5 3.5 -2 1.1 -1 0.8 -1.5 3 -2.5 3 -0.5 0.4 -1 0.2 -4-0.7 -1-0.8 -1.5-1.8 -1-0.4 -3 0.2 -1.5-0.3 -1-0.5 -1.9-1.7 -2-2.5 -1-3 -2-3.5 -0.4-2 -0.1-2.5 -0.5-3.5 0.2-1 0.4-0.5 2-1 0.2-0.5 0-1.5 0.2-0.5 1-1 1.4-0.4 2-0.1 1-0.2 1.1-0.8 0.9-1.5 1-0.7 2-0.3 5.5-1.6zM880.5 155l1.5-0.3 1.3 0.3 2.5 1 1.5 1 2.6 1 1.1 0.7 0.6 0.8 0.8 4.5 1 2.5 -1.9 6 -2.6 4.5 -4.5 4.5 -1.9 3.1 -3.5 2.5 -1.5 0.3 -1.5-0.5 -3-2.6 -1.5-0.4 -4-0.3 -1.5-0.6 -1-1 -0.7-1.5 -0.2-2.5 -1.4-2 -0.3-1 0-1 0.3-1 -0.2-0.3 -1.5-0.8 -0.6-0.9 -0.2-1 0-2.5 0.2-1 0.5-0.5 2.1-0.8 0.8-0.7 0.3-1 0.2-2 0.7-0.8 3-1.1 2-1.7 2-0.5 2.5-1 4-0.8zM881 156l1-0.2 1.5 0.4 3 2 2 0.8 1 0.7 0.5 0.8 0.9 2.5 1 3.5 0 1 -1.1 4 -0.8 1.3 -1.5 1.4 -0.5 1.8 -0.6 1 -4 3.5 -1.1 2.5 -0.8 0.9 -1 0.6 -2.5 1 -1 0 -1-0.5 -2.2-1.5 -2.3-1 -0.5-0.3 -2-3 -1-0.7 -0.6 0.5 -0.3 2 -0.6 0.3 -0.3-0.3 -0.2-0.5 0.7-2 0-0.5 -1.8-2.5 0-2.5 -0.2-1 -0.7-1.1 -1.3-0.9 -0.4-0.5 0.4-1 2.6-3 0.3-1 -0.1-2 0.5-1 4-2.2 3-0.7 2.5-1.1 3.5-0.5zM880.6 157.5l1.4-0.5 1.6 0.5 1.8 1.5 1.6 2.4 1.5 1 1 1.5 0.4 1.6 0.6 1.6 0.1 1.4 -0.7 2.5 -0.8 1 -1.6 1 -0.4 1 -0.3 1.5 -0.3 0.7 -3 2.3 -2 0.5 -0.5 0.3 -0.2 0.7 0.5 1.5 -0.2 1 -1.1 0.9 -1 0.3 -1 0 -4-1.3 -1-0.4 -1-0.8 -2.7-4.2 -1.3-3 -1.5-0.8 -1.9-3.2 -0.3-1 0.4-1 2.1-2.5 0.2-1 -0.2-1.5 0.1-0.5 0.4-0.5 2.7-1.4 3.5-0.5 2.5-1 3-0.9zM880.8 158.5l0.7-0.2 1 0 1.2 0.7 2.3 4.7 2.8 3.3 0.4 1 0.1 1 -0.2 1 -0.4 0.5 -1.7 1.3 -0.5 0.6 -0.5 2.1 -0.5 1 -2 1.5 -2.5 0.7 -1.2 0.8 -0.7 1 0 0.5 0.5 1.5 -0.1 0.5 -0.5 0.4 -1 0 -3.5-0.8 -1.5-1.1 -3.1-4.5 -0.3-1 -0.1-2 -0.2-0.5 -0.8-0.7 -1.5-0.5 -0.5-0.3 -0.8-1 -0.2-1 0.6-1 2.5-2.5 0.7-2.5 0.7-0.7 1-0.5 2.5-0.4 4-1.2zM880.2 160l1.3-0.3 1 0.5 2.5 4.4 2.5 2.4 0.4 1 -0.1 1 -0.3 0.6 -1.8 1.9 -0.4 1 -0.4 2 -0.9 1 -1 0.6 -2.5 0.8 -2.5 1.9 -2.2 1.2 -0.8 0.1 -1-0.6 -1.2-1.5 -1.9-2 -0.5-1 0.1-2.5 -0.2-0.5 -2.1-2 -0.4-1 0.4-1 1.4-2 0.9-2.2 0.7-0.8 0.8-0.4 3.5-0.7 2-0.1 0.7-0.3zM879.9 162l1.1-0.4 0.7 0.4 2 3.5 2 1 0.8 0.7 0.3 0.8 -0.2 1 -2.2 2.5 -0.6 1 -0.5 1.5 -0.8 1 -2.5 1.1 -2 1.2 -0.5 0.1 -1.5-0.4 -1.5 0.3 -1-0.2 -1.5-1 -0.7-1.1 -0.1-1 0.2-2 -0.4-0.9 -1-0.8 -0.6-0.8 -0.1-0.5 0.3-1 1.6-3.5 0.8-0.9 1.5-0.3 4.5-0.2 1-0.3zM872.7 164.5l0.8 0 1 0.3 2.5-0.5 3 0.1 1 0.6 1.6 2 0.9 0.4 1.5 0.1 0.5 0.5 0 0.5 -3.5 4.9 -1 0.9 -2.5 1.2 -2.5-0.1 -1.5 0.6 -1 0 -1-0.6 -0.5-0.9 0.1-1 0.3-1.5 -0.2-1 -1.5-1.5 -0.2-0.5 0.1-1 0.9-2.2 0.5-0.9zM876.2 165.5l1.8-0.2 2 0.5 0.9 0.7 2 2.5 0.1 1 -0.4 1 -1 1.5 -0.6 0.7 -1 0.6 -2 0.7 -2.5-0.3 -1.5 0.5 -0.5-0.1 -0.3-0.6 0.3-2.5 -0.5-1.3 -1-1.7 0.1-1 0.4-0.6 0.5-0.3 1.5-0.4zM875.6 166.5l1.4-0.4 1.5 0.2 1.1 0.7 1.9 2 0.3 0.5 0.1 1 -0.4 1 -1 1.2 -1 0.6 -1.5 0.4 -1.5-0.4 -1.1-0.8 -1.4-2.4 -0.5-1.6 0.4-1zM876.4 167l1.1 0.1 0.3 0.4 0 0.5 -0.3 0.5 -1 1 -0.5 0.2 -0.5 0 -0.5-0.3 -0.3-0.4 -0.1-0.5 0.2-0.5 0.5-0.5zM879.3 169.5l0.7 0 0.8 0.5 0.2 0.5 -0.3 1 -0.7 0.7 -1 0.5 -1 0.1 -1-0.3 -0.5-1 0-0.5 0.4-0.5 1.1-0.6z" fill="none" stroke="#000" stroke-width="1.35" stroke-linejoin="round"/>
<rect x="799.5" y="63.5" width="265" height="264" fill="none" stroke="#404040" stroke-width="1.15"/>
<rect x="891.5" y="127.5" width="135" height="82" fill="none" stroke="#404040" stroke-width="1.15"/>
<path d="M799.5 327.5v7.5M819.5 327.5v2.8M831.5 327.5v2.8M839.5 327.5v2.8M845.5 327.5v5M851.5 327.5v2.8M855.5 327.5v2.8M859.5 327.5v2.8M862.5 327.5v2.8M799.5 327.5h-7.3M799.5 307.5h-2.8M799.5 296.5h-2.8M799.5 287.5h-2.8M799.5 281.5h-4.8M799.5 276.5h-2.8M799.5 271.5h-2.8M799.5 267.5h-2.8M799.5 264.5h-2.8M865.5 327.5v7.5M885.5 327.5v2.8M897.5 327.5v2.8M905.5 327.5v2.8M912.5 327.5v5M917.5 327.5v2.8M921.5 327.5v2.8M925.5 327.5v2.8M928.5 327.5v2.8M799.5 261.5h-7.3M799.5 241.5h-2.8M799.5 230.5h-2.8M799.5 221.5h-2.8M799.5 215.5h-4.8M799.5 210.5h-2.8M799.5 205.5h-2.8M799.5 201.5h-2.8M799.5 198.5h-2.8M932.5 327.5v7.5M951.5 327.5v2.8M963.5 327.5v2.8M971.5 327.5v2.8M978.5 327.5v5M983.5 327.5v2.8M987.5 327.5v2.8M991.5 327.5v2.8M995.5 327.5v2.8M799.5 195.5h-7.3M799.5 175.5h-2.8M799.5 164.5h-2.8M799.5 155.5h-2.8M799.5 149.5h-4.8M799.5 144.5h-2.8M799.5 139.5h-2.8M799.5 135.5h-2.8M799.5 132.5h-2.8M998.5 327.5v7.5M1018.5 327.5v2.8M1029.5 327.5v2.8M1038.5 327.5v2.8M1044.5 327.5v5M1049.5 327.5v2.8M1054.5 327.5v2.8M1058.5 327.5v2.8M1061.5 327.5v2.8M799.5 129.5h-7.3M799.5 109.5h-2.8M799.5 98.5h-2.8M799.5 89.5h-2.8M799.5 83.5h-4.8M799.5 78.5h-2.8M799.5 73.5h-2.8M799.5 69.5h-2.8M799.5 66.5h-2.8M1064.5 327.5v7.5M799.5 63.5h-7.3" stroke="#404040" stroke-width="1.15" fill="none"/>
<text x="986.5" y="164" font-size="26" font-weight="normal" text-anchor="middle" fill="#111" stroke="#fff" stroke-width="0.3" letter-spacing="0.4">25.6</text>
<path d="M260 418l4-0.4 7.5 0.3 3.5 1.2 6 1.2 4 1.2 2.5 3.4 2.5 2 1.6 1.6 0.4 0.8 0.3 1.7 0.4 1 1.8 1.5 0.3 0.5 0.1 1 -0.5 2.5 0.1 2.5 -0.4 2 0.2 1.5 -0.1 1 -1.6 2.5 -0.5 2.5 -0.5 1 -2.1 1.7 -3.3 3.3 -1.2 2.7 -0.5 0.6 -0.5 0.3 -2 0.1 -1 0.3 -2.5 2.1 -2.5 1.5 -2 2.2 -2.9 1.7 -2.1 1.7 -6 2.9 -3 2 -4.5 1.6 -2 0.4 -3.5 0.3 -3.5-0.6 -5.5-1.9 -5.1-2.9 -7.4-6 -3.5-2.4 -3.8-3.6 -5.2-5.5 -2-2.6 -1.2-1.9 -0.5-1.5 -0.6-4.5 0.2-2.5 0.8-2 2.8-3.3 1-0.8 3.7-2.4 9.3-4.3 5-2 6.5-3.4 4-1.6 1.5-0.3 3.5-0.6 5-0.2 3-0.8zM260.8 421.5l3.2 0.2 2.5-0.1 4 0.5 6 2.4 1.7 1 2.9 3.5 1.9 1.8 0.8 1.2 0.6 3.5 1.4 2 0.3 1 0.1 1.5 -0.2 1 -0.5 1.2 -1.2 1.8 -2.3 5 -0.9 1.5 -3.1 3.4 -3.6 3.1 -1.2 1.5 -1.6 2.5 -1.1 1.1 -1.3 0.9 -2.2 1 -2.3 2 -3.7 1.5 -6 3.7 -1 0.1 -2-0.2 -3 0.1 -1-0.2 -9-3.3 -1.5-1 -2.4-2.2 -2.6-1.5 -2.5-2 -3-2 -2.1-3 -2.4-2.2 -1.7-1.8 -1.6-2.5 -1.9-3.5 -1-4 0-1.5 0.7-1.5 1.1-1.5 2.9-1.8 2.5-2.2 3.5-1.5 4-2.3 8.3-3.2 4.2-2.5 5-1.5 4.5-0.3 3 0.2 3.5-0.8zM258.8 424l1.7-0.2 3 0.2 3-0.1 2.5 1 2.5 0.6 3.5 2.1 1.5 1.3 2 2.4 2 1.6 0.4 0.6 0.3 3 0.6 2.5 -2 4 -0.6 4 -1.6 3 -2.1 2.3 -1 0.6 -2 0.8 -1 0.6 -2.4 3.7 -1.6 1.8 -4.5 3.4 -2.5 1.3 -3 1.3 -3 1.9 -2 0.6 -1.5 0.2 -3-0.3 -3.5-1.5 -2.5-0.6 -1.5-0.6 -3.2-3 -3.3-1.8 -1.8-1.7 -2.1-1.5 -2.1-2 -1.7-2 -2.8-2 -0.9-1 -0.8-1.5 -1.8-4.5 -0.1-1.5 1.5-3.5 1.1-1.7 5.5-4.2 2-1.2 3.5-1.4 3.5-1.8 5-1.9 3.2-1.8 1.8-0.8 2.5-0.4 5.5 0.3zM258.9 425.5l1.6-0.1 3 0.3 2 0 1.5 0.4 3 1.6 2.5 2.5 3 1.8 0.6 0.5 1.9 4 0.2 1 -0.6 2 -1.1 1.5 -0.4 1 -0.1 1.5 0.5 2.5 -0.2 1 -2.6 3 -3.7 3 -2 3.5 -1.5 1.7 -4.5 3 -5.7 2.8 -2.3 1.7 -1.5 0.5 -4 0.1 -6.5-2.1 -1.5-1 -2.5-2.2 -2.5-1.6 -3.5-2.9 -3-2.7 -1.5-2.3 -0.5-0.4 -1.6-0.6 -0.9-0.8 -1.1-2.7 -1.1-2 -0.3-1 0.2-1 1-2 0.4-1.5 0.9-1.2 2-1.4 2.1-1.9 1.4-1.1 7.5-3.4 5-1.8 4.5-2.5 2-0.5 5 0.4zM248.7 427l1.3 0 3 0.4 7-0.7 3 0.6 2.5 0.1 1.5 0.4 1.5 1 1.5 1.9 2.1 1.8 0.9 1 1 1.5 1.2 3 -0.1 1 -1.8 5.5 -0.4 2.5 -0.4 1 -1.5 2.3 -2.3 2.2 -2.2 3.5 -1.6 1.5 -3.4 2.3 -3 1.4 -5 2.8 -1 0.2 -5.5-0.2 -3.5-1 -2-1 -3-2.7 -3-1.9 -5-4.1 -1-1.3 -1-2.6 -2.3-1.9 -1.5-2 -0.5-1 -0.1-0.5 0.5-1 2.9-3.9 1.3-2.6 1.2-1.2 1.4-0.8 6.6-2.9 4-1.1 5-2.9zM254.2 428.5l5.3-0.5 1 0.2 2 0.8 3 0.1 1 0.4 1.9 2 1.9 1.5 1 1.5 0.9 2 0.5 2 0.1 1 -0.1 1 -1.6 3 -0.8 4.5 -0.3 1 -0.5 0.5 -1.7 1 -1.3 2.8 -2.1 2.7 -1 1 -1.9 1.2 -2.5 1 -3 1.8 -3 1.4 -1 0.1 -6-0.2 -3-1.2 -1.5-0.8 -2.2-2.3 -2.9-1.5 -2.4-2.2 -2.5-1.8 -1.1-1.5 -0.9-3.5 -2.3-2.5 -0.2-0.5 0-1 3.2-6.5 1.3-1.2 6.5-3.1 4.5-1.1 2.5-1.7 2.5-1 1.5-0.4 3.5 0.2zM256.2 429.5l2.3-0.1 1 0.2 2.5 0.9 3 0.1 0.8 0.4 1.2 1.2 1.9 1.3 0.6 0.7 1.1 2.3 0.3 1 0 1.5 -1.1 3 -1.1 5 -0.3 0.5 -1.4 0.9 -0.5 0.6 -0.9 2.5 -1.6 2 -0.8 2 -0.7 0.8 -1 0.6 -3 0.9 -5.5 3.3 -1.5 0.3 -5-0.7 -4-1.3 -1-0.8 -1.5-1.9 -3-1.3 -2-1.7 -2-1.4 -1.2-1.3 -0.6-1.5 0.2-2 -0.2-1 -1.2-2.5 -0.3-1 0-1.5 0.3-1 1.5-2.5 0.9-1 1.4-1 4.7-2.6 4.5-1 3-1.7 3-0.7zM249.8 431l1.2-0.2 7-0.2 1.5 0.3 2.5 1 2.5 0.3 3 1.9 1 0.9 0.9 1.5 0.1 1 -0.2 1 -0.8 2 -0.1 2.5 -0.7 2 -1.9 2.5 -1.3 3.1 -1.6 1.9 -0.5 2 -0.4 0.8 -1 0.7 -3 0.7 -5.5 3.2 -1 0.3 -1-0.1 -3-0.9 -3.5-0.7 -1-0.3 -0.8-0.7 -1.7-2 -6.6-4 -0.9-1.2 -0.4-1.3 0-2.5 0.4-2.5 -0.1-0.5 -1.3-1.5 -0.1-0.5 0-0.5 0.5-1 1.8-2.5 1.2-1 3.2-2 1.8-0.7 4-0.8 2.5-1.1zM250.5 432l4.5-0.5 3 0.2 1 0.2 2.5 1.5 2.5 0.2 1.5 0.7 2.2 1.7 0.3 0.5 0.3 1 -1 3 0.1 2 -0.3 1.5 -3.6 5.5 -1.5 2 -1 3.1 -1 0.6 -2.5 0.4 -4 2.3 -1.5 0.4 -1.5 0.1 -5.5-0.7 -1.5-0.6 -2-2.2 -2-1.4 -2-1.9 -1-0.7 -2-1 -0.6-0.9 -0.3-1.5 0.1-1 0.8-2 0.2-1 -0.1-1 -0.5-1.5 -0.1-1 0.5-1.5 0.9-1 5.1-3 4.5-0.6zM254 432.5l2-0.2 2 0.4 1 0.6 1.5 1.6 0.5 0.3 0.5 0.1 2.5-0.3 1 0.5 1 0.7 0.7 0.8 0.2 1 -0.8 2.5 0.4 2 -0.1 1 -1.2 2 -2.7 3 -1.5 2.5 -1 2.4 -0.5 0.5 -2.5 0.6 -4 2 -2 0 -2 0.5 -4-0.4 -1.1-0.6 -1.4-1.8 -2.5-1.4 -2.5-2.8 -2-1.1 -0.5-0.5 -0.3-0.9 0-0.5 0.9-3.5 -0.2-3 0.2-1 0.9-1.2 2.5-1.1 2-1.8 1.5-0.3 2 0.1 2-0.2 2.5-1.3 1.5-0.5zM253.8 433.5l1.7-0.3 1.5 0.3 1 0.6 3 2.6 1 0.2 1.5-0.2 1 0.4 0.6 0.9 -0.3 2.5 0.6 2 -0.2 1.5 -1.2 1.7 -2.3 1.8 -1.7 2.5 -0.8 2 -0.3 0.5 -0.7 0.5 -2.2 0.9 -2.5 0.2 -4 1.2 -3.5 0.1 -0.7-0.4 -1-1.5 -0.8-0.4 -2-0.5 -1-0.5 -2.5-3.1 -1.8-1.5 -0.2-0.5 0-1 0.6-5.5 0.7-1 2.2-1.1 1.5-1.4 1-0.6 3 0 1.5-0.3 3-1.7zM250.1 435l2.4-0.3 2.5 0.4 1.5-0.1 1 0.3 1.5 1 2 2.1 1.5 1 0.4 0.6 0.2 1.5 0.8 1.5 0.1 0.5 -0.2 0.5 -0.3 0.5 -2.5 2 -1.9 2 -0.6 1 -0.5 2.1 -0.9 0.9 -1.1 0.5 -1 0.2 -3-0.4 -2.5 0.6 -1.5 0 -1-0.2 -2-1.1 -3.3-0.6 -1.2-1 -3.5-5 0-1 0.5-3 0.5-1.1 2-1.1 2-1.6 1-0.3 2-0.1 1.5-0.3 1-0.5 1.5-1.1zM249.3 436l1.2-0.4 1.5 0 1 0.2 2 1.3 0.5 0.1 1.5-0.3 1 0.1 1 0.8 1.6 2.7 0.2 1.5 -0.1 2 -0.3 0.5 -1.6 2 -1.7 1.5 -0.2 0.5 0.2 2.5 -0.2 0.5 -0.9 0.7 -1 0.2 -2.5-0.5 -1 0 -3 0.5 -1.4-0.4 -2.6-2 -0.4-1.5 -0.6-0.5 -2-0.5 -0.3-0.5 -0.2-2.1 -0.5-0.7 -1.5-1.2 -0.2-1 0.2-0.6 3-2.5 1-0.5 4-0.9zM249.7 436.5l1.3-0.3 1 0.2 1 0.4 2 1.5 0.5 0.1 2 0 0.7 0.6 0.9 1.5 0.3 1.5 -0.3 1 -0.6 0.8 -1.1 2.2 -1.7 1.5 -0.1 1 0.4 2 -0.1 0.5 -0.6 0.5 -0.8 0.1 -2.5-0.5 -3.5 0.4 -1-0.4 -2.1-3.1 -0.9-0.8 -1.8-1.2 -1.1-2 -1.1-1.5 -0.1-0.5 0.2-0.5 2.3-2 1.1-0.5 3-0.9zM250.2 437l1.3 0 1 0.3 2.5 2 1.5 0.7 0.5 0.5 0.5 1 -0.1 1.5 -0.7 2 -1.4 1.5 -0.6 1 0.1 2.5 -0.4 0.5 -4.9 0.2 -1-0.2 -0.6-0.5 -1.3-2 -3.1-2.5 -1-2 -0.2-1 1.9-2.5zM249.3 438l1.7-0.5 1.5 0.5 3.3 3 0.5 1 0 1 -0.3 1.2 -1.7 2.3 -0.8 2.5 -0.5 0.5 -2.5 0.4 -1.5-0.2 -1.5-2 -3-2.2 -0.7-1 0-1 1.4-3 0.5-0.5zM249.4 438.5l1.6-0.4 1.5 0.5 1.4 1.4 1.3 2 0 0.5 -0.2 1 -1.4 2 -0.8 2.5 -0.8 0.9 -1 0.3 -1-0.1 -0.5-0.2 -1.1-1.4 -2.9-1.9 -0.7-1.1 0.1-1 1-2.5 0.4-0.5zM249.6 439l1.4-0.3 1 0.2 0.5 0.4 1 1.2 0.6 1.5 -0.2 1 -1.6 2.5 -0.5 2 -0.3 0.4 -0.5 0.3 -0.8-0.2 -1.2-1.3 -2.5-1.2 -0.8-1 0-1 1-2.5 1.3-1.1zM250 439.5l1.5 0 1 0.7 0.7 1.3 0 0.5 -0.3 1 -1.4 1.9 -1 0.7 -1.5 0.1 -1.5-0.4 -1-0.8 -0.1-0.5 0.4-2 0.6-1 0.6-0.5 1-0.6zM250 440l1 0 1 0.5 0.6 1 0 0.5 -0.2 1 -0.9 1.2 -1 0.7 -1.5 0.3 -1-0.2 -0.8-0.5 -0.3-0.5 0-1 0.3-1 0.7-1 0.6-0.5z" fill="none" stroke="#000" stroke-width="1.25" stroke-linejoin="round"/>
<rect x="177.5" y="350.5" width="264" height="267" fill="none" stroke="#404040" stroke-width="1.15"/>
<rect x="268.5" y="409.5" width="135" height="78" fill="none" stroke="#404040" stroke-width="1.15"/>
<path d="M177.5 617.5v7.5M197.5 617.5v2.8M208.5 617.5v2.8M217.5 617.5v2.8M223.5 617.5v5M228.5 617.5v2.8M233.5 617.5v2.8M237.5 617.5v2.8M240.5 617.5v2.8M177.5 617.5h-7.3M177.5 597.5h-2.8M177.5 585.5h-2.8M177.5 577.5h-2.8M177.5 570.5h-4.8M177.5 565.5h-2.8M177.5 561.5h-2.8M177.5 557.5h-2.8M177.5 553.5h-2.8M243.5 617.5v7.5M263.5 617.5v2.8M274.5 617.5v2.8M283.5 617.5v2.8M289.5 617.5v5M294.5 617.5v2.8M299.5 617.5v2.8M303.5 617.5v2.8M306.5 617.5v2.8M177.5 550.5h-7.3M177.5 530.5h-2.8M177.5 518.5h-2.8M177.5 510.5h-2.8M177.5 504.5h-4.8M177.5 498.5h-2.8M177.5 494.5h-2.8M177.5 490.5h-2.8M177.5 487.5h-2.8M309.5 617.5v7.5M329.5 617.5v2.8M340.5 617.5v2.8M349.5 617.5v2.8M355.5 617.5v5M360.5 617.5v2.8M365.5 617.5v2.8M369.5 617.5v2.8M372.5 617.5v2.8M177.5 484.5h-7.3M177.5 463.5h-2.8M177.5 452.5h-2.8M177.5 443.5h-2.8M177.5 437.5h-4.8M177.5 432.5h-2.8M177.5 427.5h-2.8M177.5 423.5h-2.8M177.5 420.5h-2.8M375.5 617.5v7.5M395.5 617.5v2.8M406.5 617.5v2.8M415.5 617.5v2.8M421.5 617.5v5M426.5 617.5v2.8M431.5 617.5v2.8M435.5 617.5v2.8M438.5 617.5v2.8M177.5 417.5h-7.3M177.5 397.5h-2.8M177.5 385.5h-2.8M177.5 377.5h-2.8M177.5 370.5h-4.8M177.5 365.5h-2.8M177.5 360.5h-2.8M177.5 356.5h-2.8M177.5 353.5h-2.8M441.5 617.5v7.5M177.5 350.5h-7.3" stroke="#404040" stroke-width="1.15" fill="none"/>
<text x="361.5" y="445.6" font-size="26" font-weight="normal" text-anchor="middle" fill="#111" stroke="#fff" stroke-width="0.3" letter-spacing="0.4">9.11</text>
<path d="M567.6 433l6.4-0.2 4.5 0.4 9.5 2.1 3 1 3 1.3 5 2.9 8.6 8 2.2 3 2.4 4.5 1.2 3.5 0.7 4.5 -0.2 2 -1.2 5 -1.1 4 -1.3 2 -2.8 3.1 -5.5 3.7 -7 2.6 -1.5 0.4 -3.5 0.4 -3.5 0 -3.5-0.8 -4-1.2 -10-1.2 -3.5-0.5 -7-0.5 -2.5-0.6 -3-1.2 -4.5-2.8 -4.9-5.4 -5.3-7 -1.3-2.5 -0.6-2 -0.2-2 -0.1-5.5 0.6-2.5 1.1-3.5 0.6-1 3.1-3.8 2.5-1.8 2.8-2.4 2.2-1.4 5-2.2 2.5-0.8 4.5-1zM567.8 436l1.7-0.3 3 0 6.5 0.6 11.5 2.8 1.7 0.9 2.8 2 3.5 2.1 3.5 3.6 4.2 3.8 1.4 3 1.4 2.5 0.5 1.5 0.4 4 -0.3 5 -0.7 2.5 -1.9 4 -1 1.4 -1.6 1.6 -1.5 2 -0.9 0.9 -1.5 0.9 -4 1 -3.5 1.4 -5.5 0.8 -4-0.2 -4-1.2 -6-0.9 -4-0.2 -4.5-0.7 -3.5 0 -3-1 -4.5-2.4 -1.2-0.9 -1.8-2.1 -2.5-1.3 -1.1-1.1 -2.8-4 -2-4 -0.5-1.5 -0.4-2.5 -0.5-4.5 1.1-5 0.6-1.5 2.1-2.4 1.5-2 5.5-4.1 3-1.2 2.5-1.5 1.5-0.5zM565.1 438l5.9-0.4 3.5 0.3 4 0.1 6.5 1.4 4.5 1.3 1 0.5 3.5 2.6 2.5 1.3 1.5 1.1 5.7 5.8 0.8 1 1.9 3.5 1 2.5 0.3 2 -0.3 4.5 -0.7 3.5 -0.7 1.7 -0.5 0.8 -2 2 -3.2 4.5 -0.8 0.5 -2 0.7 -4 1.7 -7 1.3 -3.5-0.3 -4.5-1.4 -8-0.6 -8-1 -3.5-1.2 -4-2.1 -4.3-4.1 -1.2-1.5 -2-1.7 -1.1-1.8 -0.9-2.9 -1.7-4.1 0-1 0.7-2.5 0-3 0.7-2 2.2-2.5 1.4-2 4.2-3.7 3-1.2 3-1.6zM567.2 439.5l3.3-0.4 3.5 0.5 3.5-0.3 8 1.5 4 1.5 4 2.8 3 1.6 2.1 1.8 5 6.5 1.1 2.5 1.1 3 0.2 1 -0.9 6 -0.6 2 -2 2.5 -2 3 -1.4 1.5 -3.1 2 -2 0.9 -2 0.5 -5.5 0.9 -3.5-0.4 -4-1.2 -6.5-0.3 -4-0.7 -2.5-0.1 -5.5-1.7 -4.4-2.4 -3.2-2.5 -0.9-1 -1.2-2 -2.3-1.8 -0.7-1.2 -0.4-3.5 -1.1-3.5 0.6-5.5 0.9-2 1.7-2.3 3-3.2 1.5-1.2 3.5-1.4 2.7-1.4 2.8-1.1 2.5-0.7zM567.3 441l2.7-0.4 3 0.5 4-0.5 8.5 1.3 2.5 1.1 4 2.4 4.1 2.6 1.4 1.2 1.8 2.8 2.4 3 0.6 1 0.8 3.5 0.8 1.5 0.2 1 -0.4 4.5 -0.7 2.5 -1.5 1.9 -2 2.1 -1.3 2 -1.4 1.5 -1.3 0.9 -1.3 0.6 -3.4 1 -2.3 0.3 -5.5-0.3 -3-0.8 -2-0.3 -4 0 -2.5-0.2 -3.5-0.8 -2.5-0.3 -3.7-1.1 -2.8-1.7 -2.2-2.3 -2.3-1.3 -0.8-0.7 -1.7-2.8 -2-1.7 -0.4-1 -0.6-3 -1.1-3 0.1-1.5 1-3 1-1.4 2-2.1 1.8-3 1.6-1.5 1.6-0.6 2.5-0.3 2.5-2 1-0.5zM568.2 442l1.3 0 2.5 0.5 3-0.7 1.5-0.2 2.5 0.6 3 0.2 4 0.9 5 2.7 2.4 2 2.1 1.2 0.9 0.8 1.6 2.8 2.1 2.2 0.8 1.5 0.3 4.5 -0.2 2.5 0.4 2 0.1 1 -0.1 1.5 -0.4 1 -0.8 1 -1.8 1.5 -1.5 2.5 -0.9 1 -5 2.8 -2 0.6 -1 0 -2.5-0.5 -2.5 0 -6-1.3 -3 0.2 -2.5-0.2 -4-1.3 -3-0.1 -2-0.6 -7.1-6.1 -0.6-1 -0.9-2.5 -2-2 -0.8-1.5 0-1 0.4-2 -0.3-2.5 0.7-2 2.2-3.5 1.2-2.5 0.8-1 0.9-0.5 2-0.2 1-0.3 3-2.3 1-0.6zM575.9 442.5l1.1 0.2 2 0.9 2.5-0.1 2 0.8 2.5 0.3 4.5 2.4 2 1.8 2.5 1.6 0.5 0.5 1.5 3.1 2 1.7 0.5 0.8 0.4 1.5 0 2.5 -0.5 6 -0.5 2 -1.4 1.9 -1 2.1 -0.8 1 -0.7 0.4 -2 0.6 -2.2 2 -1.3 0.7 -1 0.2 -2.5-0.5 -3 0 -6-1.5 -5 0.2 -1.5-0.3 -3-1.2 -2.5 0.1 -1.5-0.3 -0.7-0.4 -1.4-1.5 -1.9-1.4 -3-3 -0.6-1.1 -0.8-2.5 -1.5-1.5 -0.7-1 -0.1-1 0.3-3.5 0.4-1.6 1.9-3.9 2.4-3 2.7-1.5 3-2.2 1.5-0.8 3-0.7 1 0 1.5 0.5 1-0.1 3-1zM574.8 443.5l1.3 0 1.9 1.4 1 0.4 2.5-0.1 2 0.4 2 0.1 1.5 0.6 3 1.8 2.3 1.9 2.2 1.5 1.5 3 2.1 2 0.7 1 0.2 1 0.1 1.5 -0.5 4.5 -0.6 2.5 -1.4 2.5 -0.7 2 -0.9 1.2 -3 1 -1.8 1.8 -0.7 0.5 -1 0.2 -2.5-0.3 -2.5 0.1 -4-0.8 -2.5-0.7 -1.5-0.2 -3 0.3 -5-1.5 -2.5 0 -1-0.2 -2-1.8 -2-1.4 -1-1.7 -1.6-1.5 -0.9-2.5 -2.1-2.5 -0.3-1.5 0.4-2.5 1.5-2.8 0.8-2.2 2.3-3 3.9-3.1 2-1.1 2.5-0.6 3 0.4zM573.6 445l0.9-0.3 1-0.1 2.5 1.6 2 0.6 4.5-0.2 1.5 0.3 1 0.6 1.8 2 2.2 0.9 2 1.2 1 0.9 1 2 2.7 3 0.4 1 0.1 1 -0.1 3 -0.4 1.5 -1.1 3 -1.2 2 -0.5 2 -0.8 1 -2.6 0.9 -2.5 2 -1 0.2 -4-0.2 -4-0.5 -4-0.9 -3.5 0 -5-1.4 -2.5-0.2 -0.8-0.4 -1.2-1.1 -1.5-0.9 -0.4-0.5 -0.4-2 -0.2-0.4 -1.5-1.3 -3.5-4.5 -0.2-0.8 0.1-1 1-2.5 2.3-4.5 0.8-1 4.5-3.9 1.5-0.8 1.5-0.3 1 0 1.5 0.4 1-0.1zM574 446l1.5-0.1 3 1.4 2 0.5 4-0.3 1 0.2 1 0.9 1 2.4 0.5 0.5 1 0.2 1.5-0.1 1 0.3 1 0.6 0.5 0.5 1.4 2 2.2 2.5 0.5 1 0.2 1 -0.3 3 -0.5 1 -1.6 2 -1.4 5 -0.3 0.5 -2.2 1.1 -2 1.5 -1.5 0.3 -2.5-0.1 -2-0.4 -3 0.1 -3-0.5 -4-0.4 -3-0.7 -4.5-1.8 -1-1.5 -1-0.8 -1.3-1.8 -3-3 -2.2-3.4 -0.1-1.1 0.4-1.5 1.8-2 0.7-2 0.7-1.1 4.4-3.9 0.9-0.5 1.2-0.3 3 0.3zM574.3 447l0.7-0.1 1 0.1 2.5 1 2 0.5 3.5 0 1 0.2 0.8 0.8 0.6 1.5 0.6 1 1.5 0.9 2 0 1 0.4 3.2 3.2 1.1 1.5 0.3 1.5 -0.5 2 -0.6 0.8 -1.5 1.1 -0.6 1.1 -0.2 1 0.1 2 -0.3 1.5 -0.7 1 -1.8 1.1 -1.5 1.2 -1 0.4 -1 0 -3.5-0.7 -3 0.5 -4-0.4 -2-0.4 -1.2-0.7 -0.8-1.2 -0.5-0.2 -1 0.1 -0.5-0.2 -1.5-1.1 -4-2.2 -2.6-2.2 -1.3-1.5 -0.5-1.5 0.3-2 -0.1-1.5 0.8-2 0.3-2 0.5-1 1.1-0.9 2-1 1.5-1.6 1-0.2 2 0.4 3-1.5zM574.5 448l1.5-0.1 4.5 1.4 3.5 0.3 0.7 0.4 1.3 2 1.5 1.4 1.5 0.9 3 1.1 1 0.7 0.9 0.9 0.3 1 -0.1 0.5 -1.2 1 -0.4 2.5 -1.4 2.5 -0.1 1 0.4 1.5 -0.2 1 -0.7 0.5 -2-0.1 -0.5 0.2 -0.2 1.9 -0.3 0.5 -0.5 0.3 -1 0 -2.5-0.5 -1.5-0.1 -5 0.7 -1.5-0.2 -1.1-0.7 -0.8-1.5 -0.6-0.6 -2.5-0.7 -2.5-1.5 -2.5-1.1 -1.5-1 -1-1.1 -0.2-1 0.5-2 -0.5-2.5 0.9-2 0-1.5 0.3-0.5 2-0.6 1.5-1.8 0.5 0 1.5 0.6 1-0.2 0.5-0.5 0.7-1.5 0.5-0.5zM575.4 449l1.6 0.1 3.5 1.4 2.5 0 1 0.5 3.9 4 1.2 2 0.5 2 1.6 2 0.1 1 -1.1 2 -0.7 2.2 -0.5 0.4 -1.8 0.4 -0.7 0.4 -1 1.4 -0.5 0.5 -1 0.2 -3.5-0.2 -3 1 -1.5 0 -0.6-0.3 -1.1-1.5 -0.8-0.7 -2.5-0.8 -1-0.6 -2.2-1.9 -1.9-2.5 -0.5-2 -0.8-2 0.1-1 0.8-1.4 2.5-2.4 2.5-0.7 1-0.8 1.5-1.8zM575 450.5l2 0 3 1.4 3-0.1 1 0.5 2.1 1.7 0.7 1 0.7 1.5 0 2.5 0.3 1 0.7 0.7 1 0.5 0.5 0.7 -0.1 0.6 -1.4 2.8 -1 0.3 -2-0.6 -0.5 0.1 -3 2.3 -2.5 0.7 -1.5 0.9 -1 0.3 -1-0.3 -2.5-2 -2.5-1 -2.2-2 -1.1-1.5 -0.8-1.5 -1-3 0.1-1 0.7-1 1.8-1.9 2.5-1.1 2.5-2.1zM573.2 452l0.8-0.3 1 0.2 1.5 1.3 0.5 0.1 1.5-0.4 4.5-0.1 2 1.2 0.9 1 0.5 1.5 0 2 0.3 2 -0.1 1 -0.7 1 -4.4 3.9 -4 1.4 -1 0.1 -2.5-1.4 -2.5-2.2 -2-1 -1-1.1 -0.8-1.2 -0.8-2.5 0-1 0.2-0.5 1.9-2.2 2.5-1.3zM573.2 453l0.8-0.3 0.5 0.2 1.1 1.1 0.9 0.4 2.5-0.6 3-0.2 1 0.1 1 0.5 0.9 0.8 0.4 1 0.1 2 0.5 2 -0.1 1 -0.3 0.5 -3.5 3.4 -1.5 1 -1.5 0.4 -1.5 0.1 -2-0.2 -1-0.4 -0.7-0.8 -1.8-2.8 -0.5-0.2 -1.5 0 -1-0.5 -1-1.4 -0.4-1.6 0.1-1 1.3-1.7 1-0.8 2-1zM572.4 455l1.1-0.5 0.5 0 1.1 0.5 1.4 0.2 3-0.6 3.5 0.2 0.5 0.3 0.6 0.9 1 4 -0.2 1 -1.9 2 -2.5 2 -0.9 0.5 -1.6 0.2 -2.5-0.5 -0.9-0.7 -0.7-1 -1.4-3.4 -0.5-0.1 -1.5 0.8 -0.5 0.1 -1-0.4 -0.6-1 -0.1-1.5 0.7-1.2 1.5-1.2zM575.8 456l3.7-0.4 2 0.5 1 0.4 0.5 0.6 1.2 2.4 0 1 -0.2 0.5 -1.5 1.3 -1.5 0.8 -1.2 1.4 -0.8 0.5 -1.5 0.1 -2-0.8 -0.8-0.8 -0.6-1 -0.7-3 -0.9-1.8 -0.5-0.1 -0.5 0.4 -1 1.4 -0.5 0.3 -0.6-0.2 -0.3-1 0.4-0.8 1-0.7 1-0.2 1.5 0.1zM575.5 457l1-0.2 3 0 1.1 0.2 0.7 0.5 0.2 0.5 -0.1 0.5 -0.5 0.5 -1.2 0.5 -0.4 0.5 0.2 0.5 0.7 1 0 0.5 -1.1 2 -0.6 0.4 -1 0.1 -1.5-0.6 -1-0.9 -0.5-1 -0.3-1.5 -0.1-2 0.4-0.8zM575.1 458l0.9-0.4 0.5 0 1 0.6 0.5 1.8 1.3 2 -0.2 1 -0.6 0.8 -0.5 0.2 -1-0.1 -1-0.5 -0.9-0.9 -0.4-1 -0.2-2 0.2-1z" fill="none" stroke="#000" stroke-width="1.25" stroke-linejoin="round"/>
<rect x="486.5" y="353.5" width="268" height="266" fill="none" stroke="#404040" stroke-width="1.15"/>
<rect x="580.5" y="417.5" width="135" height="77" fill="none" stroke="#404040" stroke-width="1.15"/>
<path d="M486.5 619.5v7.5M506.5 619.5v2.8M518.5 619.5v2.8M526.5 619.5v2.8M533.5 619.5v5M538.5 619.5v2.8M543.5 619.5v2.8M547.5 619.5v2.8M550.5 619.5v2.8M486.5 619.5h-7.3M486.5 599.5h-2.8M486.5 587.5h-2.8M486.5 579.5h-2.8M486.5 573.5h-4.8M486.5 567.5h-2.8M486.5 563.5h-2.8M486.5 559.5h-2.8M486.5 556.5h-2.8M553.5 619.5v7.5M573.5 619.5v2.8M585.5 619.5v2.8M593.5 619.5v2.8M600.5 619.5v5M605.5 619.5v2.8M610.5 619.5v2.8M614.5 619.5v2.8M617.5 619.5v2.8M486.5 553.5h-7.3M486.5 532.5h-2.8M486.5 521.5h-2.8M486.5 512.5h-2.8M486.5 506.5h-4.8M486.5 501.5h-2.8M486.5 496.5h-2.8M486.5 492.5h-2.8M486.5 489.5h-2.8M620.5 619.5v7.5M640.5 619.5v2.8M652.5 619.5v2.8M660.5 619.5v2.8M667.5 619.5v5M672.5 619.5v2.8M677.5 619.5v2.8M681.5 619.5v2.8M684.5 619.5v2.8M486.5 486.5h-7.3M486.5 466.5h-2.8M486.5 454.5h-2.8M486.5 446.5h-2.8M486.5 440.5h-4.8M486.5 434.5h-2.8M486.5 430.5h-2.8M486.5 426.5h-2.8M486.5 423.5h-2.8M687.5 619.5v7.5M707.5 619.5v2.8M719.5 619.5v2.8M727.5 619.5v2.8M734.5 619.5v5M739.5 619.5v2.8M744.5 619.5v2.8M748.5 619.5v2.8M751.5 619.5v2.8M486.5 420.5h-7.3M486.5 399.5h-2.8M486.5 388.5h-2.8M486.5 379.5h-2.8M486.5 373.5h-4.8M486.5 368.5h-2.8M486.5 363.5h-2.8M486.5 359.5h-2.8M486.5 356.5h-2.8M754.5 619.5v7.5M486.5 353.5h-7.3" stroke="#404040" stroke-width="1.15" fill="none"/>
<text x="673.4" y="455" font-size="26" font-weight="normal" text-anchor="middle" fill="#111" stroke="#fff" stroke-width="0.3" letter-spacing="0.4">49.2</text>
<path d="M905.4 437l1.1-0.1 2 0.7 2.5-0.2 1 0.2 4 2.1 1 0.8 1.1 1.5 2.6 5.5 1.2 5 -0.8 7.5 -1.3 4.5 -2.3 4.2 -2.2 5.3 -3.3 5 -1.3 3 -0.7 0.6 -2.5 1.6 -1.5 3.2 -2 1.8 -4.6 6.3 -1 1 -2.2 1.5 -2.9 3.5 -2.3 1.4 -2.5 2.1 -3.3 1.5 -1.7 0.5 -2.5-0.1 -6.3-0.9 -1.7-0.5 -3.1-2 -2.6-2.5 -3.3-2.6 -1-1 -4.7-5.9 -5.9-9 -1.6-2 -2.3-2.5 -3-5 -2.3-2.5 -3-5 -0.4-1 -0.4-2.5 -0.3-4 0-1 0.6-1.5 1.5-3 0.8-1.1 3.9-2.9 1.6-1 3.5-1.4 3-1.8 3.5-1.3 4-1.5 4.5-1.1 5-1.7 2.5-0.6 6-0.9 5 0 10 1 3.5-0.5 5.5 0.2zM876.6 440.5l2.4-0.5 4 0.2 7 0.7 4 0.7 4.5-0.2 2.5 0.3 3 1.4 2 1.8 2.3 1.6 1.1 1.5 1.6 1.4 0.9 1.1 0.4 1 0.3 1.5 0.2 2 -0.2 2 -1.6 3.5 0.4 2.5 -0.2 1 -1.6 2.5 -0.8 2.5 -1.2 2.5 -4.1 6 -0.9 3 -1.6 3.2 -4 6.2 -1 1.2 -3.9 3.4 -2.4 1 -0.4 0.5 -0.8 1.9 -0.5 0.6 -1.5 0.8 -3 0.6 -6.5 0.2 -4-0.3 -1.5-0.7 -3-2.6 -4.4-5 -3.6-4.9 -1.5-3 -0.7-1.1 -3.8-4.8 -2.3-2.2 -1.4-3 -2.7-3 -2.9-4.5 -0.4-1.5 -0.4-5 0.9-4 0.5-1 0.5-0.5 2.7-2.2 3-1.6 3-2 5-1.9 2.5-1.2 11-3.1zM876.7 442.5l2.8-0.4 3 0.1 3.7 0.8 4.3 0.2 3.5 0.9 3 0.2 1.5 0.4 1.2 0.8 1.3 1.6 2.5 2 1.1 1.9 1.4 3 1.3 2 0.3 1 -0.2 1.5 -1.9 3.5 -1.3 2 -0.2 1 0.5 2.5 -0.2 0.5 -1.8 2 -0.8 2.5 -1.6 3 -2.2 2.5 -0.8 4 -2.2 2.5 -1.3 3 -1.8 2 -5.8 4.6 -3.5 1.7 -1 0.3 -2 0 -5-0.5 -2-0.5 -2-1 -3-3 -1.3-1.6 -1.5-2.5 -2.7-2.9 -1.6-2.6 -1.2-3 -0.7-1 -3-3 -2.9-4 -2.5-2.5 -1.3-3.5 -0.9-2 -0.4-1.5 0-1.4 0.3-1.1 2.2-4.5 1.2-1.5 3.3-2.7 1-0.5 5-1.7 3-1.6 3.5-1.3 3-0.8zM879.3 444.5l2.7-0.3 4.5 0.9 3 0.1 1.6 0.3 2.9 1.9 3 1.4 2 1.5 1.1 1.2 0.5 1 0.2 1 0.2 4.5 -0.1 1.5 -0.7 3 -0.5 4.5 -1.6 4.5 -1.9 3 -0.9 2.5 -1.8 3.5 -2.2 2.5 -1 2 -2.3 2.3 -1.5 2.8 -1.2 0.9 -1.8 0.5 -1.5-0.1 -2-0.6 -3 0.2 -4-1.2 -1.6-1.3 -1.9-1.2 -1.6-1.8 -2.9-2.1 -1.9-1.9 -0.6-0.9 -0.9-3.1 -0.6-1 -3.5-3.2 -2-3.3 -2.4-3 -1.4-3.5 -0.6-2.5 0.2-1.5 2.2-5.5 0.7-1 1.3-1 1.5-0.7 3-1 3.5-2.1 5-2.2 4.3-0.5 3.2-0.7zM879.1 446.5l1.4-0.3 1 0 7.5 1 1.5 0.5 3.5 1.8 3 2 1 1 0.3 1 -0.4 2.5 0.2 2.5 -0.2 1.5 -1 3.5 0.3 3.5 -0.5 2 -0.9 2 -1.6 2.5 -1.2 2.4 -2 3.1 -1.8 2 -1.4 3 -1 1 -1.3 0.7 -3.5 1.1 -3 1.2 -2.5 0.4 -1-0.2 -1.5-0.8 -1.5-1.4 -1.5-1.8 -3-1.7 -1.5-1.2 -1.2-1.3 -1-1.5 -1.2-2.5 -2.5-2.5 -1.2-1.5 -0.4-1 -0.6-2.5 -0.4-0.7 -3.4-3.3 -0.6-1.5 0-1.5 0.8-4 0.6-1.5 0.6-0.8 2-1.7 2.5-1.3 3.5-2.5 2-0.8 4.5-1.4 5-0.8zM875.2 448l5.8-0.2 4 0.6 3.5 0.1 1.5 0.4 3.5 2.3 1.9 1.8 0.5 1.5 0.1 3.5 -0.2 2 -0.6 2 -0.7 1.2 -1.1 1.3 0 0.5 1 2.5 -0.1 1 -0.7 2.5 -0.6 1.2 -2.5 2.7 -1.5 3.6 -1.9 2 -1.4 2.5 -0.7 0.6 -1 0.4 -3 0 -4 1.7 -1 0.2 -1-0.3 -1-0.6 -1.7-2 -2.1-1.5 -3.2-3 -1.6-3 -2.2-2 -0.7-1 -2-5.4 -2.3-2.6 -0.7-1.5 -1.1-1.5 -0.3-1 0.2-1.5 0.5-1 2.9-3.5 4.3-3.2 1.5-0.7 3-0.6zM874.1 449.5l1.9-0.4 4 0 5.5 0.8 2.5-0.2 1 0.2 0.9 0.6 1.1 1.8 2.1 1.2 0.9 1 0.4 4 -0.1 1.5 -0.5 1.5 -1.8 2 -0.5 1 0 0.5 0.7 1.5 0.2 1 -1.2 3.5 -2.9 4 -1 3 -3.8 3.5 -2 0.3 -2 0.5 -2.5-0.4 -2 0.1 -1-0.4 -0.5-0.6 -0.5-1.5 -0.5-0.9 -1.2-1.1 -1.6-2 -1.7-1.5 -1.3-2 -0.7-0.6 -2-1 -0.5-0.4 -0.8-1.5 -1.2-3.5 -1.5-2.3 -0.6-1.2 -0.1-1 0.3-1.5 1.6-3.5 0.9-1 4.3-2.5 5.1-1.2zM876.7 450.5l2.8-0.2 6 0.9 2.5 0.1 0.5 0.3 1 1.5 2.1 1.9 1.2 4 -0.2 1.5 -1.8 3 -0.6 1.5 0.1 1 0.3 1 -0.1 1 -2 3.6 -0.7 0.4 -1.3 0.3 -0.7 0.7 -0.5 1.5 0 2 -0.3 1 -0.5 0.6 -1 0.5 -2 0 -0.5 0.2 -1.4 1.2 -0.6 0.2 -1-0.1 -1-0.6 -0.1-0.5 0-0.5 0.7-1.5 0-0.5 -0.2-0.5 -0.4-0.4 -0.5-0.1 -2 0.1 -3.5-1.4 -1.4-1.2 -0.9-2.5 -0.4-0.5 -2.3-1 -1.4-1 -0.7-1.5 0.1-2.5 -0.4-0.5 -1.9-1.5 -0.5-1 0.3-1.8 1-1.7 2-1.7 2-1.1 1.5-1.5 1.5-0.6 3-0.1 2-1.4zM877.5 452l1-0.4 1 0 4.5 0.7 3 1 1 0.6 1.9 1.6 1.1 3 0 1 -0.7 3 -1.4 2.5 -0.8 2 -0.6 0.5 -1.6 0.5 -0.9 0.6 -0.4 0.9 -0.4 2.5 -0.8 2 -0.9 1.1 -1.5 0.7 -1 0 -0.5-0.2 -1.3-1.1 -1.2-0.5 -1-0.2 -1.5 0.1 -1-0.2 -1.5-0.7 -0.5-0.4 -0.4-0.6 -1-5.5 -0.7-2 -0.9-1.2 -2-1 -1.2-0.8 -0.5-0.5 -0.1-0.5 0.8-0.8 2.3-3.7 1.2-1.4 1-0.4 2.5-0.2 2-0.8 1.5-0.3zM878.3 453.5l1.2-0.4 3 0.2 1.5 0.4 1.4 0.8 2.6 3 0.2 0.5 0.2 2 0.7 2 -0.3 1 -1.8 3 -3 2 -1.8 3 -1.7 0.8 -0.9 1.2 -0.6 0.1 -1-0.3 -0.5-0.6 0.2-0.7 0.6-1 0-0.5 -0.4-0.5 -0.9-0.4 -1 0 -2.5 0.9 -0.4-0.5 -2.3-5.5 -0.8-1 -2-1.6 -0.3-0.4 -0.3-1 0.4-1.5 0.8-1.5 0.7-1 0.6-0.5 2.6-0.3 2-0.6 2-0.2zM879.2 454.5l1.8-0.2 1.5 0 1 0.3 1 0.7 1.8 2.7 0.2 1 -0.3 1.5 0.7 2 -0.7 2.5 -0.7 0.9 -3.5 2.5 -1.5 0.5 -5.3-1.4 -1.2-0.7 -1-1.3 -0.7-2 -0.9-1 -1.9-1.6 -0.5-0.7 -0.1-0.7 0.5-2 0.6-0.7 0.5-0.4 4-0.1 1.5-0.4zM879.2 455.5l2.8-0.1 1 0.2 1 0.9 0.5 1.5 0 1 -1 2 -0.2 1 0.2 0.5 1.4 1 0.2 0.5 -0.1 0.7 -0.5 0.8 -0.5 0.3 -3 1.3 -1.2-0.1 -2.1-1 -2.2-3.2 -2.5-1.5 -2-2.3 -0.1-0.5 0.2-0.5 0.4-0.2 1 0.1 1.5 0.5 1-0.1 2-1.8 1-0.6zM878.7 456.5l1.3-0.2 2 0.5 0.7 0.7 0.3 1 -0.3 1.5 -1 1.5 -0.7 1.5 -1.1 1 -1.4 0.4 -0.8-0.4 -0.7-0.8 -0.8-1.7 -0.2-1 0.2-1 0.7-1.5 0.9-1zM878.8 457.5l1.2-0.1 1 0.3 0.5 0.5 0.2 0.8 -0.2 0.8 -1 1.2 -0.6 1.5 -0.4 0.5 -1 0.3 -0.5-0.2 -0.4-0.6 -0.3-1 0.6-3 0.3-0.5z" fill="none" stroke="#000" stroke-width="1.6" stroke-linejoin="round"/>
<rect x="800.5" y="353.5" width="267" height="268" fill="none" stroke="#404040" stroke-width="1.6"/>
<rect x="893.5" y="422.5" width="136" height="83" fill="none" stroke="#404040" stroke-width="1.6"/>
<path d="M800.5 621.5v7.5M820.5 621.5v2.8M832.5 621.5v2.8M840.5 621.5v2.8M847.5 621.5v5M852.5 621.5v2.8M856.5 621.5v2.8M860.5 621.5v2.8M864.5 621.5v2.8M800.5 621.5h-7.3M800.5 601.5h-2.8M800.5 589.5h-2.8M800.5 581.5h-2.8M800.5 574.5h-4.8M800.5 569.5h-2.8M800.5 564.5h-2.8M800.5 560.5h-2.8M800.5 557.5h-2.8M867.5 621.5v7.5M887.5 621.5v2.8M899.5 621.5v2.8M907.5 621.5v2.8M913.5 621.5v5M919.5 621.5v2.8M923.5 621.5v2.8M927.5 621.5v2.8M930.5 621.5v2.8M800.5 554.5h-7.3M800.5 534.5h-2.8M800.5 522.5h-2.8M800.5 514.5h-2.8M800.5 507.5h-4.8M800.5 502.5h-2.8M800.5 497.5h-2.8M800.5 493.5h-2.8M800.5 490.5h-2.8M934.5 621.5v7.5M954.5 621.5v2.8M965.5 621.5v2.8M974.5 621.5v2.8M980.5 621.5v5M985.5 621.5v2.8M990.5 621.5v2.8M994.5 621.5v2.8M997.5 621.5v2.8M800.5 487.5h-7.3M800.5 467.5h-2.8M800.5 455.5h-2.8M800.5 447.5h-2.8M800.5 440.5h-4.8M800.5 435.5h-2.8M800.5 430.5h-2.8M800.5 426.5h-2.8M800.5 423.5h-2.8M1000.5 621.5v7.5M1020.5 621.5v2.8M1032.5 621.5v2.8M1040.5 621.5v2.8M1047.5 621.5v5M1052.5 621.5v2.8M1057.5 621.5v2.8M1061.5 621.5v2.8M1064.5 621.5v2.8M800.5 420.5h-7.3M800.5 400.5h-2.8M800.5 388.5h-2.8M800.5 380.5h-2.8M800.5 373.5h-4.8M800.5 368.5h-2.8M800.5 363.5h-2.8M800.5 359.5h-2.8M800.5 356.5h-2.8M1067.5 621.5v7.5M800.5 353.5h-7.3" stroke="#404040" stroke-width="1.6" fill="none"/>
<text x="988.1" y="457.5" font-size="26" font-weight="normal" text-anchor="middle" fill="#111" stroke="#fff" stroke-width="0.3" letter-spacing="0.4">12.6</text>
<path d="M263.2 707l1.8 0 2.5 0.4 5.5 1.4 2.7 1.2 5.3 3.4 2 1.6 2.8 3.5 1.5 3 1.5 2.5 0.6 1.5 0.4 3 -0.4 5.5 -2.7 6.5 -2.4 4.5 -1.6 2.5 -1.2 1.2 -5 4.2 -3.5 2.2 -4.5 1.1 -3 1.4 -3.5 1.1 -3 1.6 -2 0.8 -1 0.8 -1.5 1.9 -3 3.2 -1.8 1.5 -4.2 2.2 -4.5 2 -2 0.7 -1.5 0.2 -4.5 0.5 -1.5-0.1 -5-0.8 -6-2.1 -1.5-0.7 -3-2.2 -4.5-2.7 -4.6-3.5 -3.4-1.8 -3-2 -1-0.4 -1.5 0 -3.5 0.7 -3 1.4 -2.5 1.6 -4.5 0.7 -0.3-18.7 0.1-11.5 0.2-4.9 2.5-0.1 1 0.2 3.7 1.8 1.3 0.4 4.5-0.1 4-1.6 4-1.1 3-2.1 5.5-2.9 5.1-3.1 4.9-2 6-1.4 4-0.5 3-0.6 12-3.5 3.5-0.7 2.5-1.2 1.5-0.5zM262 711l3.5 0.1 4.5 1 5.5 2.6 3.9 3.3 2.5 3.5 2.1 5 0.3 1 -0.1 2.5 0.5 3 0 1 -4.2 8.7 -1.5 2 -1.3 1.3 -1.4 1 -2.3 1.1 -2 1.8 -1.5 0.9 -7 1.9 -2.5 1.6 -3 1.2 -2.7 2.5 -2.3 2.7 -2 1.4 -3.5 2.9 -3.5 1.8 -5 1.8 -5 1.2 -2.5-0.1 -5-1 -3-2.1 -3-1 -3-1.5 -2.3-1.6 -2.2-1.2 -1.9-1.3 -1-1 -1.1-1.5 -1.1-1 -4.4-2.6 -3-1.1 -2.5-1.4 -1.5-0.1 -3.5 1.7 -3 0.5 -2 0.8 -3.5 0.3 -0.2-11.1 0.2-11 2 1.1 2 0.5 3.5-0.2 3.5 0.3 1.5-0.1 3.9-1.6 3.6-2.2 3.3-1.3 4.7-3.4 4.6-2.1 3.4-2.1 4-2 5-1.2 3.5-0.2 3-1.1 3-0.5 3.5-1.1 7.5-1.6 6.5-1.1 3-1zM261.2 714.5l2.8-0.3 3 0.9 2.5 0.3 4 1.5 2 1.8 1.7 3.3 1.3 1.6 0.5 0.9 0.6 3 0.8 2.5 0.1 1 -1 7 -0.5 1 -1 1.3 -2.7 1.7 -1.7 2.5 -1.1 0.8 -7.5 3.4 -2 0.6 -4 1.7 -3.5 2.2 -2.5 1.1 -2.2 2.2 -1.1 2 -0.9 1 -2.8 2.8 -3.3 2.2 -5.7 1.9 -3.5 0.7 -1.5-0.1 -5.5-1.1 -1-0.5 -2.6-1.9 -3-1.5 -2.9-2.2 -2.5-1.4 -2.8-2.9 -3.7-1.8 -4-4.7 -2-1.6 -0.7-0.9 -1.2-3.5 0-1.5 0.7-1.5 1.8-2.5 0.9-2.5 1.5-2 1-0.9 2.1-1.1 2.4-1.7 8.8-4.8 3.7-2.3 1.5-0.7 4.5-1.4 3.5-0.3 3.5-1 3-0.5 2.5-0.7 6.5-0.8 5.5-1.3zM184.5 738.5l1 0.1 0.7 0.4 0.5 0.5 0.4 1 -0.6 2.5 0.3 1 0.6 1 0 0.5 -0.4 0.5 -1 0.5 -1.5-0.3zM255.2 717.5l3.8-0.3 3 0.4 3-0.6 1.5 0.4 2.5 1.5 2.5 0.2 1 0.7 2.5 3.5 1.5 1.5 0.4 0.7 0 1 -0.6 2 0.2 2.5 -0.4 2.5 0.1 2.5 -0.1 1 -0.5 1 -0.6 0.7 -2.8 1.8 -1.7 1.4 -2.5 0.8 -2.5 1.3 -5 1.9 -1.5 1.2 -3 1.2 -2 1.2 -2 0.6 -4.3 5.9 -1.7 3.5 -1.5 1.6 -3 1.3 -3 0.5 -3 1.3 -1 0 -1.8-0.7 -1.2-0.2 -3 0.8 -1.5 0 -1-0.6 -2-1.7 -2.5-1.3 -5.5-3.4 -2.5-2.7 -3.3-2.4 -0.9-1.5 -2.3-2.1 -1-1.4 -0.8-1.5 -0.3-1.5 0.3-3 0.9-3 0.3-3 0.9-1.5 3.9-3 4.8-2.2 2.3-1.8 2.2-1.1 3-2.1 1-0.4 2.5-0.5 2.5-1 6-1.1 3-0.2 3-1 3 0.1 3-0.3 5 0 0.5-0.1 1.5-1.1zM257.8 720l1.7-0.5 1 0.1 4 1.6 4-0.1 1 0.3 0.5 0.5 1 1.3 1.5 1.1 0.4 0.7 -0.1 0.5 -0.3 0.5 -1.1 1 -0.3 1 1 3 0.2 1.5 -0.1 1 -1.7 3.5 -2 0.8 -2 1.5 -2.2 1.2 -2.5 2.5 -1.3 0.5 -4.5 0.9 -2 0.2 -1 0.4 -0.7 1 -1.8 1.8 -1.2 3.2 -1.3 2 -3.5 4 -1.3 2 -0.7 0.5 -4 1 -3.5 1.3 -1 0.1 -3-0.4 -2.5 0.4 -1-0.1 -6.5-4.2 -2.5-0.9 -1.2-0.7 -2.5-3 -1.8-1.7 -1.5-2.1 -3-2.5 -0.6-0.7 -0.3-1.5 0.6-5 -0.1-3.5 0.7-1.5 3.5-3 1.7-0.9 2.7-1.1 2.3-2 2.5-1.2 2.5-1.9 1-0.3 2-0.3 3.4-1.3 3.6-0.8 1.5-0.2 3.5 0.1 2.5-1.1 1-0.1 2.5 0.6 3-0.5 1.5 0 1.5 0.3 2.5 0.9 1-0.2zM241.1 722l1.4-0.1 2 0.7 1 0.1 1-0.1 1.5-0.6 1.5-0.1 1.4 0.6 1.6 1.2 1 0.2 1-0.1 1.8-0.8 1.2-0.3 3.5-0.3 5.8 1.6 0.5 0.5 0.3 0.5 0.1 2 0.3 1 1.4 2.5 0.2 2 -0.2 1.5 -0.7 1 -3.3 3 -0.9 0.3 -2.5 0.2 -2 1.3 -3.5 0.4 -2 1.3 -2.6 1 -0.5 0.5 -2.2 4 -0.9 2.5 -0.6 1 -5.5 6.5 -1.2 0.9 -2.5 1.2 -4.5 1.2 -1.5 0 -2.5-0.6 -3-0.1 -1-0.5 -4.5-3 -3-1.6 -0.5-0.5 -1.3-2.5 -2.1-1 -0.6-0.5 -1-2.1 -2.5-2.9 -0.7-1.5 -0.2-1.5 0.6-3.5 -0.2-2.5 0.7-1 3.7-3 3.1-1.8 2.2-1.7 2.8-1.5 2-1.5 2.5-0.5 3-1.2 3.5-1 2.5-0.2 3 0zM236.2 723.5l4.8-0.2 2.5 0.7 2.5 0.3 1-0.1 1.5-0.6 1 0.1 3.1 2.3 2.9 3.6 0.5 0.1 1-0.5 2.5-3.1 2-0.9 2 0 0.7 0.3 0.7 1 0.7 2.5 1.2 2.5 0.1 1 -0.3 0.5 -0.6 0.3 -3 0.8 -2.6 0.4 -0.6 0.5 -0.8 2 -1 0.6 -1.3-0.1 -1.7-1 -0.5 0 -0.5 0.4 -0.3 0.6 -0.3 1.5 -0.4 0.7 -2.5 0.7 -0.5 0.3 -0.3 0.8 -0.1 2 -0.3 1 -2.3 4.3 -3.5 4.3 -1.9 2.9 -1.1 1 -1.5 0.6 -3 0.5 -2.5 0.7 -1-0.1 -2.5-1 -2 0.6 -1 0 -1-0.5 -5.5-3.8 -1-1 -0.9-2 -0.6-0.9 -2.7-1.6 -1.3-2.3 -1.5-1.7 -0.9-1.5 -0.3-1 0.2-1.3 2.1-5.2 2.3-3 1.2-1 3.4-2.3 2.5-1.2 2.1-1.5 4.9-1.7zM236.1 724.5l1.9-0.3 2 0.1 3 1.3 5.5 0.1 1 0.3 0.5 0.3 0.6 0.7 0.6 2 0.1 1 -0.3 3 0.1 0.5 0.8 1.5 0 1 -0.9 1.4 -2 1.5 -1.1 1.1 -0.2 1 0.6 2.5 -0.3 1.5 -3 4.5 -2.5 2.9 -1.5 2.6 -0.5 0.6 -0.9 0.4 -0.6 0.1 -1.5-0.6 -1 0 -2 1.5 -1 0.3 -1-0.2 -1.5-1.1 -1-0.4 -0.5 0.1 -1.5 1.2 -1 0.1 -4.5-2.9 -3.3-4.6 -2.7-1.8 -0.9-1.2 -1.4-2.5 -0.6-2 0.5-2 0.4-3 2.5-4 3.5-2.6 3-1 2.3-1.9 3.2-1.5 1.5-0.4 3.5-0.4zM261.4 727.5l1.1-0.4 0.5 0 0.5 0.4 0.3 1 0 1 -0.2 1 -0.4 0.5 -1.2 0.9 -1 0.3 -0.8-0.2 -0.7-0.5 -0.4-1 0.3-1 0.3-0.5zM236.8 725.5l1.2-0.2 1.5 0.2 3.5 1.5 3 0 1.5 0.3 1 0.6 1.1 1.6 0.4 1.5 -0.2 1.5 -1.4 4.5 -2 3.5 0 1 0.8 2 -0.1 1 -0.5 1 -1.6 1.8 -1.3 2.2 -3.2 3.3 -0.5 0.3 -1.5-0.2 -1 0.3 -2.5 1.2 -1.5 1.2 -0.5-0.1 -0.6-0.5 -0.9-2 -0.5 0 -2 0.4 -2 1.1 -0.5 0 -2.5-1 -0.5-0.4 -1.1-1.6 -2.1-2.5 -2.8-2 -0.5-0.5 -0.5-1.5 0.4-2 -1.3-4.5 0.2-1.5 2.2-2.9 2.5-2.1 1-0.5 1.5-0.3 1-0.5 4.8-3.7 1.7-0.6 3.5-0.2zM233.6 727l2.4-0.3 3.5 0.1 3.5 1.3 3.5 0.3 1 0.4 0.7 0.7 0.7 1 0.1 1 -0.4 1.5 -1.2 2 -0.7 2.5 -1.3 3 -0.1 1.5 0.5 2 -0.4 1 -1.4 1.7 -1 1.9 -1 1 -2 1.1 -2 0.8 -2 1.2 -1 0.2 -0.5-0.2 -1.5-1.2 -1-0.4 -3.5 0.3 -0.9-0.4 -1.6-1.3 -0.5-0.2 -1.5 0.3 -1-0.1 -2.1-1.7 -1.6-1 -0.8-1 0.2-3 -1.3-4.5 0.1-0.6 0.4-0.4 1.1-0.7 0.8-1.8 0.7-0.9 1-0.6 1.8-0.5 0.7-0.4 2-2 2-1 1-1.5 0.5-0.5 1.5-0.5zM231 728l4.5-0.5 4.5 0.4 3.5 1.6 3 0.3 1 0.7 0.4 1 -0.3 1 -1.1 1.5 -0.4 1 -0.7 3.5 -1.3 3.5 -0.4 3 -1.2 2.7 -0.6 0.8 -0.9 0.6 -3 1.1 -1.9 1.3 -0.6 0.2 -0.7-0.2 -1.3-1 -1-0.4 -3-0.1 -1-0.3 -2.5-1.6 -2.5-1 -2-0.4 -1-0.4 -0.5-0.5 -0.3-0.8 -0.2-4.5 1.3-2 0.4-3 0.3-0.5 0.8-0.5 2.7-1 1.5-1.9 2.3-1.1 1.2-2zM234.1 728.5l1.4-0.1 2 0.4 2-0.1 1.5 0.5 1.4 1.3 0.3 2.5 0.4 0.5 1.4 0.8 0.3 0.7 -0.3 4 -1.8 4 -0.1 2.5 -0.6 1.5 -0.7 1 -0.8 0.5 -5 1.4 -2-0.7 -4-0.5 -1.5-0.5 -1.7-1.2 -1.8-2 -0.5-0.3 -0.5-0.1 -2 0.3 -0.5-0.3 -0.3-0.6 -0.1-1 0.1-1.5 1.2-2.5 0.1-2.5 0.5-1 0.7-0.5 2.9-1 1.1-1.5 2.4-1.5 1.4-1.7 0.8-0.3zM233.9 729.5l1.6-0.1 2.5 0.8 2-0.3 1 0.5 0.5 1.1 -0.2 2 0.2 1.2 0.5 0.7 1 0.7 0.7 1.4 0.1 1 -0.1 1 -2 3 -0.2 1 0.2 2 -0.3 1 -0.7 1 -1.2 0.6 -2 0.3 -3-0.5 -2.5 0 -3.5-0.4 -1.5-1 -2-2.5 -1-0.7 -1.7-0.8 -0.1-0.5 0.7-3 0-2 0.4-1 0.7-0.5 2.8-1 0.6-0.5 0.8-1 2.2-1.5 1.1-1 1-0.6zM232.7 731l1.3-0.5 1 0 2.5 1 2 0.3 0.4 0.2 0.2 1 0.1 2.5 0.2 1 0.6 0.6 1.5 0.7 0.4 0.7 0 0.5 -0.4 0.9 -1.3 1.1 -0.3 0.5 -0.4 4.6 -0.7 0.9 -0.8 0.5 -1.5 0.1 -3-0.8 -3.5-0.1 -1.5 0.2 -1-0.2 -1-0.7 -1.1-2 -1.7-1.5 -0.7-1 -0.3-1 0-3 0.3-1 1-0.6 2.5-0.6 0.6 0.2 0.9 1.5 0.5 0.3 0.5-0.1 0.5-1.2 -0.6-2 0.1-0.5 0.3-0.5zM233.3 732l1.2-0.3 1.5 0.3 2.5 1 0.7 1 0.3 3 0.9 2 -0.4 1.5 -0.1 2.5 -0.2 1.5 -0.7 1.5 -0.7 0.5 -1.3 0 -2-0.6 -4-0.2 -2 0.2 -0.6-0.4 -0.8-2 -1.6-1.5 -0.9-1.5 -0.4-2.5 0.3-1.1 1-0.5 1-0.1 0.5 0.3 1 1.9 1 0.3 1-0.3 0.5-0.5 0.2-0.5 0.8-3.4 0.8-1.6zM235.4 733.5l1.1-0.1 1 0.2 0.7 0.4 0.3 0.5 0.2 5.5 0.4 2 -0.1 1.5 -0.5 0.8 -1 0.5 -1.5-0.7 -0.5 0.1 -1.5 0.6 -1 0.1 -2-0.3 -1-0.3 -2.2-2.8 -0.1-1 1-0.5 2.8-0.6 0.5-0.5 0.2-1.9 0.3-0.8 2.2-2.2zM236.3 735l0.7-0.2 0.4 0.2 0.2 0.5 -0.2 2.5 -0.3 1.5 -0.6 1 -0.5 0.3 -1 0.2 -0.5-0.1 -0.6-0.4 -0.4-0.7 -0.4-1.3 -0.1-1 0.7-1zM230 741l1-0.1 1.1 0.6 0.9 1 0.1 0.5 -0.1 0.5 -1 0.2 -1.3-0.7 -0.8-1 -0.2-0.5zM234.3 737.5l0.7-0.4 0.5 0.1 0.4 0.3 0.1 1.3 -0.5 0.8 -0.5 0 -0.5-0.3 -0.4-1.3z" fill="none" stroke="#000" stroke-width="1.25" stroke-linejoin="round"/>
<rect x="180.5" y="639.5" width="267" height="266" fill="none" stroke="#404040" stroke-width="1.15"/>
<rect x="251.5" y="699.5" width="136" height="77" fill="none" stroke="#404040" stroke-width="1.15"/>
<path d="M180.5 905.5v7.5M200.5 905.5v2.8M212.5 905.5v2.8M220.5 905.5v2.8M227.5 905.5v5M232.5 905.5v2.8M236.5 905.5v2.8M240.5 905.5v2.8M244.5 905.5v2.8M180.5 905.5h-7.3M180.5 885.5h-2.8M180.5 873.5h-2.8M180.5 865.5h-2.8M180.5 859.5h-4.8M180.5 853.5h-2.8M180.5 849.5h-2.8M180.5 845.5h-2.8M180.5 842.5h-2.8M247.5 905.5v7.5M267.5 905.5v2.8M279.5 905.5v2.8M287.5 905.5v2.8M293.5 905.5v5M299.5 905.5v2.8M303.5 905.5v2.8M307.5 905.5v2.8M310.5 905.5v2.8M180.5 839.5h-7.3M180.5 818.5h-2.8M180.5 807.5h-2.8M180.5 798.5h-2.8M180.5 792.5h-4.8M180.5 787.5h-2.8M180.5 782.5h-2.8M180.5 778.5h-2.8M180.5 775.5h-2.8M314.5 905.5v7.5M334.5 905.5v2.8M345.5 905.5v2.8M354.5 905.5v2.8M360.5 905.5v5M365.5 905.5v2.8M370.5 905.5v2.8M374.5 905.5v2.8M377.5 905.5v2.8M180.5 772.5h-7.3M180.5 752.5h-2.8M180.5 740.5h-2.8M180.5 732.5h-2.8M180.5 726.5h-4.8M180.5 720.5h-2.8M180.5 716.5h-2.8M180.5 712.5h-2.8M180.5 709.5h-2.8M380.5 905.5v7.5M400.5 905.5v2.8M412.5 905.5v2.8M420.5 905.5v2.8M427.5 905.5v5M432.5 905.5v2.8M437.5 905.5v2.8M441.5 905.5v2.8M444.5 905.5v2.8M180.5 706.5h-7.3M180.5 685.5h-2.8M180.5 674.5h-2.8M180.5 665.5h-2.8M180.5 659.5h-4.8M180.5 654.5h-2.8M180.5 649.5h-2.8M180.5 645.5h-2.8M180.5 642.5h-2.8M447.5 905.5v7.5M180.5 639.5h-7.3" stroke="#404040" stroke-width="1.15" fill="none"/>
<text x="349.1" y="736.1" font-size="26" font-weight="normal" text-anchor="middle" fill="#111" stroke="#fff" stroke-width="0.3" letter-spacing="0.4">17.4</text>
<path d="M570.6 713.5l1.9-0.3 3 0 6.5 1.3 2 0.7 4 2.2 5 3.8 3 2.9 9.6 13.4 1.1 3 0.3 2.5 -0.2 4 -0.4 2.5 -0.4 1.5 -1.2 2.5 -1.3 2 -3.6 4 -4.4 4.1 -6.5 4.6 -2.8 1.3 -2.2 1.3 -3.1 1.2 -4.1 2 -2.3 0.6 -3 0.5 -3 1.2 -5.5 1.3 -1.5 0.2 -5.5-0.2 -3-0.5 -3-0.2 -3-1.1 -5-1.4 -3-1.3 -3-1.9 -2.6-1.2 -2.4-1.5 -3.5-1.8 -4.5-3.1 -5.3-4.1 -1-1 -3.6-6 -1.9-4 -0.5-1.5 -0.3-2 0.1-1 0.8-2 0.1-3 0.4-1.5 2.9-5 2.1-2.5 1.7-1.1 2.5-2.2 9-4.7 7-2.9 10-3.2 6-1.3 5-0.2 4-0.6 3.5 0.1zM568.6 717.5l2.9-0.4 9.5 1.3 1.5 0.4 3.5 1.5 2.5 2.1 2.3 1.6 1.2 1.2 2 3 2.5 3 3.1 2.8 2.2 4.5 1.1 3.5 0.7 4 -0.2 1.5 -1.2 3 -2.8 4.5 -3.5 4 -1.4 1.3 -5 3.6 -6 3.7 -9 3.3 -10.5 2.8 -1.5 0 -7-0.7 -4-1.2 -3-0.5 -3-1.4 -3-0.7 -1-0.4 -5.4-3.8 -2.1-1 -2.2-2 -2.4-1 -1.4-1 -2.4-2.5 -1.1-2 -2.2-3 -2.3-1.8 -0.3-0.7 -0.2-1 0-4.5 -0.7-3 0.2-1.5 1.5-1.7 1.3-2.8 1.4-2 4.8-3.5 2.5-2.5 3-1.5 4-0.9 5-2.4 7.5-2.5 3-1.4 1.5-0.2 3.5 0 5.5-1zM569.4 720l1.6-0.2 4 0.1 3 0.4 2.5 0.8 3 0.5 1.5 0.7 6 5.1 3.5 5.1 4 4.4 1 1.6 0.9 2.5 0.3 2 -0.6 6.5 -0.5 1.5 -1.3 2 -4 5 -5.3 4.2 -6 3.1 -9 3.6 -3.5 1 -4 0.3 -2.5 0.9 -1 0.1 -3.5-0.7 -6.5-0.8 -1.5-0.5 -3-1.9 -3.5-1 -1.5-0.6 -1.5-0.9 -2-1.9 -3.6-1.4 -2.4-2.2 -2.1-1.3 -1.3-1.5 -1.6-1.4 -1.5-2.3 -1.8-1.8 -0.5-1 -0.2-3 -0.9-2.5 0-1 2.9-5.5 2-2.5 1-2.5 1-1 2-1.1 2.5-2 3.5-0.9 5.5-3.3 3.5-0.9 3.3-1.3 3.2-1.6 1.5-0.3 4.5-0.1 3-0.4 4 0.4zM571 721.5l3-0.3 2 0.2 1.5 0.6 1.5 1 0.5 0.2 3-0.1 2.5 1.1 1.5 1.2 1.5 1.7 3 2.7 1.3 1.7 1.4 2.5 1.8 2.5 2.5 2.5 0.5 1.5 0.1 2 -0.5 5 0 2.5 -0.6 1.5 -2.6 3.5 -3.4 3.3 -4.5 3.2 -4 1.9 -3 1.1 -2 1 -2.8 1 -2.2 1.2 -3 0.5 -1 0 -4.5-0.7 -1 0 -2 0.8 -6-0.2 -2-0.4 -6.5-3.5 -3.1-1.2 -2.4-1.7 -2.6-1.3 -1.9-1.2 -1.8-2.3 -1.5-1.5 -3.9-5 -0.5-1 -1.2-4 0.1-1 1.3-3.5 2.5-2.5 0.6-1 0.6-2 1.3-1.8 1-0.8 5-2.5 5.1-3.4 5.9-1.8 3-1.8 1-0.3 2 0.1 7-0.6 3 0.2zM571.5 723l1.5-0.3 1.5 0 1.5 0.5 1.5 1.4 1 0.5 1 0 2-0.4 1 0.1 1.5 0.5 1.5 0.9 2 2.5 2.2 1.8 1 1 0.8 1.5 1.6 4 0.9 1 1.8 1.5 0.4 0.5 0.3 1 0.3 4 -0.3 3.5 -0.6 2 -1.9 3.5 -2.2 1.5 -1.8 1.7 -2.5 1.9 -1.5 0.9 -2.1 1 -1.9 1.2 -4.5 2 -3 0.7 -2.5 1.3 -2 0.3 -5-0.4 -3-0.6 -4.5 0.7 -2 0 -1-0.6 -1.5-1.4 -3-0.7 -6-3.8 -3-1.2 -1-0.6 -1.3-1.4 -1.9-3 -0.2-0.5 -0.2-1.5 -0.4-0.9 -1.8-1.1 -0.6-2 -0.2-1.5 0.1-4.5 0.7-2 0.8-1.4 2.5-1.5 1.5-2.6 1.5-1.4 4-3 4.4-2.1 7.6-2.8 2-0.2 2.5 0.1 4-0.7 3.5 0 1-0.2zM571.5 724.5l1-0.4 1 0 1 0.3 1.5 1.4 1 0.6 2 0.2 2-0.4 1 0.1 1.5 0.4 1 0.5 2.1 2.3 2.8 2.5 0.9 1.5 1.7 4.4 1.7 1.6 0.8 1 1 4 0 2 -0.3 1.5 -1 2 -5 6 -3.7 2.8 -2.5 1.3 -2.5 1.7 -3 1.1 -2.6 0.6 -3.4 1.4 -2 0.3 -4.5-0.2 -3-0.8 -3.5 0.3 -1.5-0.1 -0.8-0.4 -1.7-1.5 -3.5-0.6 -1.5-0.6 -1.8-1.3 -2.2-2.3 -2-1 -2.5-1.9 -0.6-0.8 -0.7-2.5 -2-3 -1.3-3.5 -0.3-1.5 0.3-1.5 0.5-1 1.6-1.8 2-3.7 1.3-1.5 2.7-2 3-0.8 3-2.6 2-1 3-0.4 2.5-1 3-0.2 3.5-0.8 5 0 1-0.2zM572.1 725.5l0.9-0.2 0.5 0.1 2 1.6 1.5 0.7 2 0.2 2.5-0.4 1.5 0.5 1 0.6 4.6 3.9 1.1 2 1.2 3.5 2.2 2.5 0.9 2.5 0.4 1.5 0 1.5 -0.2 1.5 -1 2 -2.6 2.5 -1.2 2 -1.4 1.6 -3 2.3 -2.5 1.3 -1.6 1.3 -1.4 0.7 -4 1 -4.5 1.6 -1 0.1 -2-0.3 -2.5 0.3 -3-0.7 -4-0.2 -1-0.4 -2.5-1.8 -1-0.3 -2 0.1 -1-0.3 -2.5-1.5 -2.5-2.8 -2-1 -1.3-1 -1.2-2.5 -1.5-2 -0.4-1 -0.1-0.5 0.2-0.5 0.3-0.2 1.1-0.3 0.4-0.5 -0.5-0.9 -1.5-1.6 -0.2-1 1.1-1.5 0.2-2.5 0.4-1.1 2.5-3.4 1.5-1 2 0 1-0.3 3.5-3.2 1.9-1 3.1-0.2 2.5-1.3 5-1.2 6 0 1-0.2zM567.4 727l3.1 0.4 2.5-0.7 0.5 0.1 2 1.4 3 1.3 0.5 0.1 1.5-0.4 1 0 2.5 1.1 2 1.2 1.5 1.2 1 1.3 1.5 4.5 2.1 2.5 1.2 3 0.2 2 -0.3 1.5 -0.7 1.2 -1 1 -2 1.5 -1.2 2.3 -0.7 1 -1.4 1.5 -1.2 0.9 -1 0.5 -2 0.6 -2 1.8 -1.7 0.7 -5.3 1.3 -1.5 0.1 -2.5-0.3 -2.5 0.8 -1 0.1 -2.5-0.4 -2.5-0.2 -1.5-0.4 -1.5-0.8 -3-1.9 -1-0.1 -1 0.1 -1-0.2 -3-2 -1.5-2.2 -1.5-1.5 -0.5-0.8 -0.2-1.6 0.4-2.5 -0.1-1 -1.6-3.5 0.1-1 0.7-1.5 0.2-1 -0.3-0.5 -1-1 0.4-1 1-1 0.9-0.3 2 0.1 1-0.3 1-0.7 2.5-2.8 1-0.5 4-1.2 3-2.3 4-1.4zM563.9 728l1.1-0.2 2.5 0 1 0.1 2 0.6 2-0.3 1 0.1 2.5 1.3 2.5 1.7 0.5 0.1 2.5-0.4 2.5 0.4 1.8 1.1 1.6 1.5 0.5 1 1.3 4 1.5 2 1.7 3.5 0.2 1.5 -0.3 1 -0.8 1.2 -1 0.9 -1.8 0.9 -0.5 0.5 -1 2.5 -1 1.5 -0.9 1 -1.3 0.7 -3 0.3 -0.7 0.5 -1.4 1.5 -2.4 1.1 -1 0.1 -2-0.2 -3.5 0.5 -4 1 -3.5-0.3 -1-0.3 -2-1.1 -2.4-0.8 -0.6-0.5 -0.8-1.5 -2.5-3 -1.2-0.8 -3-1.2 -1.2-1 -0.4-1 -0.2-3 0.1-0.5 0.2-0.2 0.5 0.1 1 0.6 1-0.2 0.7-0.8 0.2-1 -0.4-0.6 -1.9-0.9 -0.9-1 -0.7-1.5 0.2-1 0.8-0.8 2.5-1.1 1.1-2.1 1-1 0.9-0.5 2.9-1 1.9-1 2.7-2.4zM563.9 729l1.1-0.4 2 0 1.5 0.3 2.5 0.8 3 0.1 1.5 0.7 2.5 2.1 1 0 2.5-0.5 2 0.2 1.3 0.7 1.5 1.5 0.7 1.2 1.5 3.8 1.3 2 1.6 3.5 0.1 1 -0.4 1 -0.4 0.5 -2.7 1.8 -0.5 0.5 -1.3 2.7 -1.6 2 -0.6 0.3 -3.5 0.7 -3 1.1 -3 0.6 -3 1.6 -4.5 0.8 -1 0.1 -2.5-0.6 -1-0.5 -2-1.3 -1.5-1.3 -2.9-1.5 -1.9-2 -2.2-1.2 -1.8-1.3 -0.4-0.5 0-0.5 1.7-2.6 0.4-1.4 0-1 -0.4-1 -1.7-1 -0.5-0.5 -0.3-0.5 0.1-0.5 0.6-0.5 1.3-0.5 0.8-0.5 0.7-1 0.7-1.5 0.9-1 0.9-0.5 2-0.7 2.5-1.4zM564.8 730l0.7-0.3 1.5 0 5 1.6 2.5 0.2 1 0.6 1.2 1.4 0.8 0.6 1-0.1 2-0.8 1.5-0.2 1.5 0.4 1.2 1.1 1.3 1.8 2.8 5.2 1.3 4 -0.2 1 -2.9 2.8 -1.2 2.2 -1.3 1.5 -1.5 0.9 -5 1.6 -4.5 0.7 -1.5 1.3 -1 0.4 -2 0.2 -2 0.4 -1 0 -2.5-0.9 -1.6-1.1 -1.9-1.7 -2.5-0.8 -1-1 -0.5-1.5 -0.5-0.8 -2.5-0.7 -0.4-0.5 -0.2-1 0.4-4.5 -0.2-2.5 0.1-0.5 1.3-1.3 2.5-0.6 1.5-0.9 0.5-0.1 1.5 0.3 1-0.3 0.5-0.8 0.1-0.8 -0.6-1 -0.8-0.5 0-0.5 1.3-1.6 2.2-1.4zM565.5 732.5l0.5-0.3 0.5 0 1 0.8 0.5 0.2 2-0.8 4 0.7 1 0.6 1.5 1.3 1 0.2 1 0 2.5-1.2 1 0 1 0.5 0.8 1 0.6 2 2.1 1.7 0.9 1.3 0.5 1 0.4 1.5 0 2.5 -0.3 1 -2.8 4.5 -0.7 0.8 -2 1.4 -5 1.6 -1.5 0.3 -3-0.1 -2 0.8 -1.5-0.3 -2 1.4 -1 0.3 -1.5-0.2 -1.5-0.7 -1-0.8 -1.5-1.8 -0.5-0.3 -2-0.2 -0.5-0.2 -0.5-0.7 -1-2.4 -0.5-0.6 -1.5-0.8 -0.7-1 -0.2-1.5 0.4-2.6 0.5-1.1 1-0.8 2-0.6 2.5-0.4 1.5-0.7 0.7-0.8 1.1-2 0.1-1 -0.3-1.5 0.2-0.5zM570.4 734.5l1.1-0.5 2 0.2 2.5 1.5 1.5 0.3 1.5 0 2-0.9 1 0.3 0.4 0.6 0.5 2 0.6 0.8 0.9 0.7 1.6 0.6 0.8 0.9 0.4 1 0 1 -1.3 5 -1.3 2.5 -1.6 1.6 -1.5 0.6 -1.5 0.2 -1.3-0.4 -0.9-1 -0.8 0 -0.1 0.5 0.6 1 -0.2 0.5 -0.8 0.4 -7 0.6 -2.5 1.4 -1 0.1 -2.2-1 -1.8-2 -1-0.8 -2-0.2 -0.5-0.2 -0.6-0.8 -0.9-2.3 -1.5-1.5 -0.2-0.7 0.2-0.7 1.1-0.8 0.4-1.5 0.5-0.8 1-0.4 2-0.3 2-1 0.5-0.5 1.5-2.3 0.5-0.3 2-0.4 1.2-0.5 0.6-0.5zM571.3 735.5l0.7-0.4 1-0.1 1 0.4 2 1.1 2.5 0.4 2 0 0.5 0.2 2.3 2.9 2.5 1.5 0.2 0.5 -0.6 2 -0.2 3 -1.3 3 -0.8 1 -1.1 0.7 -1.5 0.1 -0.5-0.1 -1.6-1.2 -0.9-0.2 -1 0 -0.5 0.2 -0.4 0.5 -0.5 1.5 -0.6 0.6 -2.5 0.5 -2.5 0.3 -2 0.7 -1 0.1 -0.5-0.4 -0.9-1.3 -2.1-0.9 -1.5-1.7 -0.5-0.2 -1.5 0.4 -0.5-0.1 -0.5-0.5 -0.3-1.5 1-2 -0.4-2 0.1-0.5 0.6-0.5 4.5-1.4 1.5-2.7 3.6-1.9zM571.6 736.5l0.9-0.4 0.5 0 2 1.1 5.2 1.3 0.8 0.6 2.5 2.9 0.2 0.5 0.5 2 0.1 1.5 -0.2 1 -1 2.5 -0.8 1 -1.3 0.5 -0.5-0.1 -2-1.1 -1-0.2 -1.5 0.1 -1 0.4 -0.8 1.9 -0.7 0.6 -1.5 0.4 -4.5 0.6 -0.5-0.1 -1.5-1.6 -1.9-0.9 -0.3-0.5 -0.2-2 -1.8-1 -0.4-0.5 -0.4-1.5 0.3-1 1.2-0.6 2-0.2 1-1.2 0.6-1.5 0.6-1 3.5-2zM571.9 737.5l0.6-0.2 0.5 0.1 1.5 0.8 1.5 0.4 1.5 1 1.5 0.3 1 0.5 1.5 1.3 0.9 1.3 0.7 2 0.1 1 -1.2 3 -0.5 0.7 -0.5 0.2 -0.5-0.1 -1.5-0.7 -1-0.1 -3 0.1 -1.1 0.4 -0.4 0.5 0 1 -0.2 0.5 -0.5 0.5 -1.8 0.5 -3 0.3 -0.7-0.3 -1.3-1.4 -0.9-0.6 -0.3-0.5 0.1-0.5 1.1-1.2 0.3-0.8 -0.2-0.5 -1.3-1 -0.2-0.5 0.1-0.5 1.5-3.5 0.7-1 1.4-1zM570 746.5l-0.4 0.5 0.4 0.4 0.4-0.4zM570.7 739l1.3-0.3 0.5 0.1 2.5 0.9 1.5 1.2 2.5 0.2 1.4 0.9 0.9 1 0.4 1.5 -0.2 1.4 -1 1.4 -0.5 0.5 -3 0.5 -3.5 0 -0.7-0.3 -0.6-0.5 -0.8-2 -0.9-0.6 -1 0.1 -2 1.2 -1-0.3 -0.5-0.4 -0.3-0.5 0.1-1 1.2-2.4 2-1.7zM567.6 748.5l0.9-0.3 1 0.6 1.4 1.7 0.2 0.5 -0.1 0.5 -1 0.5 -1 0.1 -0.7-0.1 -0.8-0.5 -0.7-1 -0.1-0.5 0.3-0.8zM570.7 740l0.8 0 1.5 0.9 1.5 0.4 1.5 0.9 2-0.2 1 0.1 1.1 0.9 0.3 1 -0.2 0.5 -2.3 2.5 -0.9 0.5 -1.5 0.1 -1.5-0.4 -0.3-0.2 -0.1-0.5 1-1.5 -0.1-1.3 -0.5-0.7 -0.5-0.3 -0.5 0.1 -1.5 0.6 -1-0.3 -0.5-0.4 -0.4-0.7 -0.1-1 0.5-0.6zM567.1 743l0.4-0.3 0.5 0 0.6 0.3 0.2 0.5 -0.4 1 -0.9 0.6 -0.5 0 -0.5-0.6 0.1-0.5zM568.1 750l0.4-0.4 0.5 0.2 0.5 0.7 -0.2 0.5 -0.8 0 -0.4-0.5zM577.4 743.5l0.6 0.1 0.3 0.4 -0.1 0.5 -1.2 1.7 -0.5 0.3 -0.5-0.1 -0.3-0.4 0.3-1.3 0.5-0.7z" fill="none" stroke="#000" stroke-width="1.25" stroke-linejoin="round"/>
<rect x="485.5" y="637.5" width="270" height="269" fill="none" stroke="#404040" stroke-width="1.15"/>
<rect x="559.5" y="707.5" width="136" height="77" fill="none" stroke="#404040" stroke-width="1.15"/>
<path d="M485.5 906.5v7.5M505.5 906.5v2.8M517.5 906.5v2.8M526.5 906.5v2.8M532.5 906.5v5M538.5 906.5v2.8M542.5 906.5v2.8M546.5 906.5v2.8M549.5 906.5v2.8M485.5 906.5h-7.3M485.5 886.5h-2.8M485.5 874.5h-2.8M485.5 866.5h-2.8M485.5 859.5h-4.8M485.5 854.5h-2.8M485.5 849.5h-2.8M485.5 845.5h-2.8M485.5 842.5h-2.8M553.5 906.5v7.5M573.5 906.5v2.8M585.5 906.5v2.8M593.5 906.5v2.8M600.5 906.5v5M605.5 906.5v2.8M610.5 906.5v2.8M613.5 906.5v2.8M617.5 906.5v2.8M485.5 839.5h-7.3M485.5 819.5h-2.8M485.5 807.5h-2.8M485.5 798.5h-2.8M485.5 792.5h-4.8M485.5 786.5h-2.8M485.5 782.5h-2.8M485.5 778.5h-2.8M485.5 775.5h-2.8M620.5 906.5v7.5M640.5 906.5v2.8M652.5 906.5v2.8M661.5 906.5v2.8M667.5 906.5v5M673.5 906.5v2.8M677.5 906.5v2.8M681.5 906.5v2.8M684.5 906.5v2.8M485.5 772.5h-7.3M485.5 751.5h-2.8M485.5 739.5h-2.8M485.5 731.5h-2.8M485.5 724.5h-4.8M485.5 719.5h-2.8M485.5 715.5h-2.8M485.5 711.5h-2.8M485.5 707.5h-2.8M688.5 906.5v7.5M708.5 906.5v2.8M720.5 906.5v2.8M728.5 906.5v2.8M735.5 906.5v5M740.5 906.5v2.8M745.5 906.5v2.8M748.5 906.5v2.8M752.5 906.5v2.8M485.5 704.5h-7.3M485.5 684.5h-2.8M485.5 672.5h-2.8M485.5 664.5h-2.8M485.5 657.5h-4.8M485.5 652.5h-2.8M485.5 647.5h-2.8M485.5 644.5h-2.8M485.5 640.5h-2.8M755.5 906.5v7.5M485.5 637.5h-7.3" stroke="#404040" stroke-width="1.15" fill="none"/>
<text x="651.5" y="743.7" font-size="26" font-weight="normal" text-anchor="middle" fill="#111" stroke="#fff" stroke-width="0.3" letter-spacing="0.4">64.4</text>
<path d="M865.2 718l1.8-0.1 3.5 0.1 2 0.3 1.5 0.7 4 2.3 2.3 1.7 3.7 3.8 2.2 3.2 1.8 3.7 0.7 2.3 0.1 8.5 -0.7 2.5 -0.7 3.5 -1.7 5.5 -1.1 5 -1.4 3.5 -0.7 3 -1.6 3 -2.9 7.5 -0.7 1 -1.9 2 -1.4 2.6 -1 1.4 -5 5.3 -7 4.6 -2 0.7 -3.1 0.4 -3.4 1 -7 0.2 -7-1.4 -3.1-1.8 -3.9-0.9 -5.1-2.1 -2.4-1.8 -2-0.8 -1.5-1 -7.5-6.9 -1-0.7 -1-0.3 -0.5 0.2 -0.5 0.5 -0.5 0.9 -1.4 3.9 -1.9 4 -1.7 1.9 -1.5 0.7 -0.3-7.6 -0.2-21 0.2-21 0.3-7 1.5 0.4 1 0.8 2.5 3.8 1.5 2.7 0.5 0.5 0.5 0.1 1-0.7 2.8-3.6 1.2-1.1 3.5-2.3 4.8-2.6 8.2-3.4 4-2.2 3.5-1.3 11.5-3.4 3.5-1.3 3-1.5 5-1.3zM861.7 722.5l1.8-0.4 5 0.4 1.1 0.5 1.9 1.6 2.5 0.5 1.5 0.8 3.2 3.1 1.2 1.5 0.6 1.5 0.8 3 1.7 3.5 -0.3 8 -0.8 4 -0.4 3.5 -1.5 3.2 -0.5 3.8 -3.2 7.5 -0.9 3 -0.8 2 -4.3 6 -2.8 2.6 -2 2.9 -1.5 1.5 -1 0.8 -3.5 1.9 -4.5 1.4 -5 0.8 -2.5-0.4 -2.5 0.1 -2.5-0.2 -5-1.7 -2.5-1.2 -3.5-0.8 -3.5-1.4 -4-2.8 -3-3.5 -3-2.1 -1-0.9 -0.8-1.5 -2.8-7 -0.4-1.6 -0.2-2.4 0.7-4 0.1-2 -0.4-4 0.5-2 0.4-3.5 1-3 3.1-5 1.7-1.5 1.6-1 7-3 2.5-1.4 2.5-0.9 3-1.6 3-1 3-1.4 2.5-0.8 3-0.5 5.5-2 3.2-0.9zM803 739l0.5 0.1 1 0.7 1.5 1.7 0.9 1.5 0.9 2.5 0.9 3 0.5 3.5 0.5 7 -0.4 9 0.2 3.5 -1.1 7 -1.6 5 -0.8 1.7 -1.5 1.5 -1.5 0.6 -0.4-12.3 0-12 0.1-16zM860.1 725.5l0.9-0.2 1 0 2 0.6 3.5 0.5 6.5 3.5 1 0.8 1 1.3 0.6 1.5 0.7 2.5 1.2 2 0.2 1.5 -0.3 6.5 0.7 3.5 0 1 -0.4 1 -2.1 3.5 -0.6 1.5 -0.3 1.5 0.1 3 -1.4 3.5 -1 3 -3.2 5 -1.8 3.5 -2.7 3.5 -4.7 4.1 -3 1.2 -1 0.7 -1.5 1.4 -1 0.4 -3 0.1 -2.5 0.6 -1 0.1 -1-0.2 -2-0.9 -4.5-0.1 -1-0.4 -3-2 -3-0.9 -2-0.9 -3-0.9 -1.1-0.8 -1.8-2 -4.1-3.5 -1.5-2.4 -1.8-2.1 -0.8-2 -0.2-3.5 -1-2.5 0.7-3 -0.3-4 1.3-6.5 1.4-4 2-3.5 1.2-1.3 2.5-1.6 3.5-1.5 3-1.9 3.5-0.9 2.9-1.8 4.6-1.9 7-1.5 4.5-2zM803 742.5l0-0.2 1 0.4 1 0.9 1 1.5 1.1 2.4 1.1 5 0.3 6.5 -0.3 8.5 0.1 5 -0.8 5 -1 2.8 -1.5 2.8 -1 1 -1 0.2 -0.3-10.3 -0.1-11zM858.6 728.5l1.9-0.2 4.5 0.7 1 0.3 3 1.9 2.7 2.8 1.4 2.5 1.6 2 0.7 1.5 0.3 1.5 -0.1 3.5 0.6 3.5 0 1.5 -0.9 2 -2.4 3.5 -0.6 3.5 0.1 2.5 -0.2 1 -2.7 6 -1 1.3 -2.1 1.7 -1.9 3.2 -3 2.3 -1.8 2.5 -2.2 1.2 -2 1.9 -1.5 0.6 -3 0.3 -2.5 0.7 -1-0.1 -2-0.6 -2.5-1 -2.5 0.2 -2.7-1.7 -3.3-0.8 -2-1.1 -1.5-0.1 -1-0.4 -1.4-1.6 -1.9-1.5 -1.5-2 -2.2-1.4 -1-0.9 -0.5-0.7 -0.5-1 0.1-4 -1.6-4.5 -0.4-6 1.3-4.5 1-2 0.6-2 0.8-1.5 1.2-1.5 1.6-1 1.9-1.7 2-0.9 2.5-1.4 4-1.6 3.2-0.9 2.3-2 1-0.6 7.5-1.8 5.5-2.3zM803 746.5l0-0.5 1 0.2 0.5 0.3 0.9 1 0.6 1.2 1 2.8 0.3 1.5 0.4 5.5 -0.3 14 -0.1 1.5 -0.9 3 -0.9 1.5 -1 0.7 -1.5 0.2 -0.3-15.9zM857 731l2-0.1 2.4 0.6 1.6 0.8 3 0 1.5 0.4 1 1 2 3.6 2 2.2 0.3 1 -0.8 2.5 0.2 2.5 0 2.5 0.4 2.5 -0.3 1 -2.1 4 -0.3 1 -0.3 2 0.4 3 -0.2 1.5 -2.3 5 -2.5 2.2 -2 2.4 -3 1.7 -1.4 1.2 -1 1 -1.1 2 -1 0.9 -1.5 0.5 -3 0 -3 0.8 -1-0.1 -2.5-0.7 -2.5 0.2 -1.5-0.2 -1.7-0.9 -2.3-2.5 -1.1-0.5 -3.4-0.7 -2.5-1.3 -0.8-1 -1-2 -0.7-0.9 -2-0.7 -0.6-0.4 -0.3-0.5 -0.3-5 -0.3-0.8 -1.3-1.7 -0.4-1.5 0.5-4 0.5-2 0.2-2 1.3-2.5 -0.1-2 0.3-1 0.3-0.5 0.7-0.4 2.5-0.5 1.2-0.6 1.4-1 1.6-2 0.8-0.6 4-2 3-0.9 4-2.7 7-1.5zM803 749.5l0-0.5 0.5 0.1 1 0.5 1 1.2 0.7 1.2 0.3 1 0.4 2 0.3 4 -0.3 9 -0.3 5.5 -0.4 1 -0.7 1 -1 0.8 -1.5 0.4 -0.3-13.2zM856.4 733.5l1.6-0.3 1 0.1 1 0.4 3 2 1 0.2 2-0.3 0.5 0.2 0.5 0.6 0.9 3.6 0.3 3 0.9 2.5 0 2 0.7 2.5 -0.3 1.5 -1.8 2.5 -0.4 1 0 1 0.5 4 -0.1 1.5 -1.4 2.5 -1 3 -1 1 -2.3 1.3 -1 1.7 -3.5 3.5 -1.5 0.7 -2 0.7 -2 1.2 -3 0.8 -1.5 0 -2.5-0.6 -1 0.2 -1.5 0.6 -1.5 0 -0.5-0.3 -1.6-1.8 -1.9-1.7 -1-0.4 -2-0.1 -1.6-0.8 -1.4-1.5 -1.1-2.5 -0.4-0.5 -2.3-1.5 -0.7-1 -0.2-1 0.1-2 -1.2-3 -0.2-3 0.3-1.5 1.2-2 -0.3-3 0.7-3 0.4-0.5 4.2-2.5 2.5-2.8 2.5-1 7-4 1.5-0.5 3.5-0.9 3-0.4 2.5-0.8zM803 751.5l0.5 0 1 0.6 1 1.1 0.4 0.8 0.6 2.3 0.2 3.2 -0.2 8 -0.7 5.5 -0.3 0.8 -0.5 0.6 -1 0.5 -1 0.2 -0.2-12.1zM858 735.5l1.5-0.1 1 0.3 1 0.7 3.1 2.6 0.6 1 0.5 1.5 0.2 1 -0.2 1.5 1.2 2.5 0.9 3.5 -0.1 1 -1.5 2.5 -0.5 1.5 -0.2 2 0.2 3 -0.3 1 -2.1 2.5 -0.6 2.5 -0.7 0.5 -2 0.9 -0.6 0.6 -0.7 3 -1 1.5 -0.7 0.6 -1 0.2 -2-0.5 -0.5 0 -0.5 0.3 -1.7 1.9 -1.3 0.5 -5-0.8 -2.5 0.4 -1-0.2 -2-1.2 -2-1.9 -1-0.4 -2-0.3 -1.4-1.6 -4.1-3 -0.5-0.6 -0.2-0.9 0.5-2.5 -1.1-2 -0.3-1 0.5-2 0.1-1.5 0.4-2 -0.2-3 1.1-3 0.7-1 0.7-0.5 6.4-4.5 2.9-1.6 2.5-1.7 3-0.4 3.5-1.3 5.5-0.7zM803 754.5l0-0.4 1.5 0.2 0.5 0.3 0.5 0.7 0.5 1.7 0.2 2.5 -0.1 2.5 0.1 3 -0.2 3 -0.8 2.5 -0.4 2 -0.3 0.6 -0.5 0.4 -0.5 0.1 -0.5-0.2 0-0.4 -0.2-10zM859.7 738l0.8 0 0.5 0.3 2.6 2.2 0.4 1 -0.1 0.5 -0.8 1.5 0 1 2.3 2.5 0.3 1 0.2 1.5 -0.3 1 -0.6 1 -0.5 2.7 -2.2 4.3 -0.7 3 -1.5 2 -0.8 2 -1.5 1.5 -1.1 2 -0.2 0.2 -2 0.4 -1 0.4 -1 0.8 -1.5 1.8 -0.5 0.4 -0.5 0.1 -2-1.1 -1-0.2 -1.5 0.2 -1-0.2 -2.5-2.1 -1-0.4 -2.5-0.3 -1.5-1.1 -1-0.4 -2-0.1 -1-0.2 -1.9-1.2 -0.4-0.5 0-0.5 1.1-1.5 0.2-1 -1.1-2.5 -0.1-0.5 0.2-1 0.9-2 0-0.5 -1.2-2 -0.6-2 0.9-3 0.5-0.9 1.5-0.9 2-1.6 1.5-1 2-2.1 3.5-1.6 2.6-0.4 3.4-1.2 2.5-0.2 2-0.6 2.5 0.8 1 0.1zM803 756l0-0.2 0.5-0.1 1 0.2 0.5 0.5 0.4 1.1 0.3 2 -0.1 2.5 0.2 3 -0.3 2.6 -0.5 1.4 -1 1.2 -0.5 0.4 -0.5 0 -0.1-7.6zM852.2 741l0.8-0.4 3.5 0.4 2.5-0.3 1 0.2 0.5 0.6 -0.9 1.5 0 0.5 1.4 3.8 0.5 0.2 -0.5 1 0 1 0.4 1.5 0.8 2 -0.1 0.5 -0.8 1.5 -0.8 2.1 -0.5 0.5 -2 0.6 -0.8 0.8 -0.4 1 0.1 2 -0.3 1 -2.6 2.6 -0.5 0.2 -1.9 0.2 -0.6 0.5 -0.9 3 -0.6 0.6 -1.5-0.1 -1.6-0.5 -0.7-0.5 -0.7-1 -1-0.7 -2-0.5 -2 0.6 -1-0.1 -3.5-1.9 -0.5-0.4 -0.3-1 0.1-1 0.6-1.5 0-0.5 -0.4-0.7 -1.5-0.7 -0.3-0.6 0.2-0.5 0.7-1 0.3-1 -0.3-1 -1.1-1 -0.8-1 -0.1-1.5 0.4-0.9 0.6-0.6 2.1-1.5 0.8-2 1.8-1.5 1.7-1.8 1-0.7 1.5-0.6 4.5-1 5 0.9 0.5-0.2zM803 757.5l0.5-0.2 0.5 0.1 0.5 0.3 0.5 1.1 0.2 1.2 -0.1 2.5 0.3 2.5 -0.4 2.1 -0.5 1.1 -0.5 0.5 -1 0.3zM854.5 743l1-0.4 1 0.1 1 0.5 0.5 0.7 0.5 1.1 0.2 1 -0.7 2.5 0 1 0.2 0.5 1.3 1 0.5 1 0 0.5 -1.7 3 -2.6 3.5 -0.8 3 -1.7 1.5 -3 1 -1.7 2 -0.5 0.3 -0.5-0.1 -3-1.2 -2-1.1 -1 0.1 -2 1.1 -1-0.2 -0.5-0.5 -0.3-0.9 0.2-1.5 -0.2-1 -1.5-2.5 -0.4-1 0.1-1 0.4-1.5 -0.1-1 -2.2-1.1 -0.2-0.9 0.2-0.5 0.5-0.2 1.5-0.2 0.5-0.3 0.9-1.3 0.4-2 0.5-1 1.2-1.4 1.5-1 1-0.2 0.6 0.1 1.9 2 0.5-0.1 0.5-0.8 0.5-1.4 0.5-0.4 2.5-0.3 1 0.2 1.5 0.8 1 0zM803 759.5l0-0.3 0.5 0.1 0.5 0.3 0.1 0.4 0.2 2.5 0.5 2 -0.3 1.6 -0.5 0.7 -0.5 0.1 -0.5-0.2zM854.8 744.5l0.7-0.4 1 0.2 0.7 0.7 0.3 1 -0.4 1 -1.1 1.4 -0.6 1.6 -1.3 2.5 0 0.5 0.4 1 1.6 1.5 0 0.5 -0.4 1 -0.7 0.7 -0.5 0.2 -1 0 -1.5-0.5 -1 0.2 -0.5 0.5 -0.2 0.9 0.4 2 -0.1 1 -0.6 0.5 -2 0.6 -1.5 1 -1 0 -2-1.1 -2.3-1 -0.4-0.5 -1.3-2.8 -0.9-0.7 -0.2-0.5 0.3-5.5 0.4-1.5 0.3-2.5 0.5-1 1.1-0.8 1 0.1 0.9 1.2 0.6 1.5 0.5 0.6 0.5 0.1 0.5-0.1 0.5-0.6 1.5-3.1 1-1.1 0.5-0.2 1 0 2.5 1.2 1 0.1 0.5-0.1zM848.5 746l0.5-0.2 1 0.2 2.5 1.5 1 1 0.4 1 -0.2 0.5 -1 1.5 -0.2 1 1 3 -0.5 0.3 -2 0.4 -1.5 0.6 -0.6 0.7 -0.9 2.4 -0.4 0.6 -2.1 1 -1 0.1 -1.5-0.7 -1.3-1.4 -1.9-4 0.1-2.5 1.1-3.5 0.5-0.4 1.5 1.4 1 0.4 1-0.1 1-0.7 2-3.5zM848.9 748l0.6-0.2 0.5 0 1 0.5 0.6 0.7 0.1 1 -0.4 2 0.1 2.5 -0.6 0.5 -0.8 0.3 -2 0 -1 0.3 -0.6 0.4 -0.9 1.6 -0.5 0.2 -1 0 -1-0.3 -1.5-1.5 -0.6-1 0-1.5 0.5-1 0.6-0.6 0.5-0.2 2.5 0.1 0.8-0.3 0.5-0.5 1.2-1.7zM848.7 749.5l0.8-0.1 0.3 0.1 0.4 0.5 0.1 0.5 -0.2 2.5 -0.1 0.5 -0.5 0.4 -2.5 0.3 -2 0.9 -1 0.2 -0.8-0.3 -0.6-0.5 -0.2-0.5 0.1-0.5 0.5-0.5 0.5-0.2 2-0.1 1-0.4 1.5-2.3z" fill="none" stroke="#000" stroke-width="1.4" stroke-linejoin="round"/>
<rect x="799.5" y="639.5" width="269" height="267" fill="none" stroke="#404040" stroke-width="1.15"/>
<rect x="870.5" y="710.5" width="138" height="83" fill="none" stroke="#404040" stroke-width="1.15"/>
<path d="M799.5 906.5v7.5M819.5 906.5v2.8M831.5 906.5v2.8M839.5 906.5v2.8M846.5 906.5v5M851.5 906.5v2.8M856.5 906.5v2.8M860.5 906.5v2.8M863.5 906.5v2.8M799.5 906.5h-7.3M799.5 886.5h-2.8M799.5 874.5h-2.8M799.5 866.5h-2.8M799.5 859.5h-4.8M799.5 854.5h-2.8M799.5 850.5h-2.8M799.5 846.5h-2.8M799.5 842.5h-2.8M866.5 906.5v7.5M886.5 906.5v2.8M898.5 906.5v2.8M907.5 906.5v2.8M913.5 906.5v5M919.5 906.5v2.8M923.5 906.5v2.8M927.5 906.5v2.8M930.5 906.5v2.8M799.5 839.5h-7.3M799.5 819.5h-2.8M799.5 807.5h-2.8M799.5 799.5h-2.8M799.5 793.5h-4.8M799.5 787.5h-2.8M799.5 783.5h-2.8M799.5 779.5h-2.8M799.5 776.5h-2.8M934.5 906.5v7.5M954.5 906.5v2.8M966.5 906.5v2.8M974.5 906.5v2.8M981.5 906.5v5M986.5 906.5v2.8M990.5 906.5v2.8M994.5 906.5v2.8M998.5 906.5v2.8M799.5 773.5h-7.3M799.5 752.5h-2.8M799.5 741.5h-2.8M799.5 732.5h-2.8M799.5 726.5h-4.8M799.5 721.5h-2.8M799.5 716.5h-2.8M799.5 712.5h-2.8M799.5 709.5h-2.8M1001.5 906.5v7.5M1021.5 906.5v2.8M1033.5 906.5v2.8M1041.5 906.5v2.8M1048.5 906.5v5M1053.5 906.5v2.8M1058.5 906.5v2.8M1061.5 906.5v2.8M1065.5 906.5v2.8M799.5 706.5h-7.3M799.5 686.5h-2.8M799.5 674.5h-2.8M799.5 666.5h-2.8M799.5 659.5h-4.8M799.5 654.5h-2.8M799.5 649.5h-2.8M799.5 645.5h-2.8M799.5 642.5h-2.8M1068.5 906.5v7.5M799.5 639.5h-7.3" stroke="#404040" stroke-width="1.15" fill="none"/>
<text x="969.1" y="747" font-size="26" font-weight="normal" text-anchor="middle" fill="#111" stroke="#fff" stroke-width="0.3" letter-spacing="0.4">7.05</text>
<path d="M262 994l3.5-0.2 3 0.3 5.5 0.2 3.5-0.3 1 0.4 1.5 1.5 2.3 1.1 0.5 0.5 0.7 1.5 0.8 1 1.2 1.1 2.9 1.9 1.6 2 0.5 2.5 1.5 3 -0.4 3 0.1 1 0.2 1 1.1 2.5 -0.1 1.5 -1.6 3 -0.6 3.5 -1 1.5 -0.9 2.5 -1.6 2 -0.8 2 -0.4 0.5 -2.3 1.5 -1.7 2.5 -3.5 2 -3.3 4 -2.3 2 -2 2.5 -5.9 5.6 -5 3.3 -3.1 1.1 -2.4 1.1 -1.5 0.4 -1.5 0.2 -1.5-0.2 -8-1.6 -2.5-1.3 -3.5-2.7 -3.6-2.4 -6.9-7 -2.5-3.1 -2.5-1.8 -1.2-1.1 -5.7-6 -1.4-2 -2.5-4.5 -0.2-1.5 0.3-5.5 0.4-1 1.7-2.5 1.3-1.5 5.3-3.8 5.5-3.4 8-3.4 2.5-0.9 7-3.9 6.5-2.7 4-0.9 3.5-1.1 4-0.4zM260.9 998.5l1.6-0.1 2.5 0.3 3 0 5.5 0.8 1.3 0.5 2.2 1.5 2 1.1 4.2 4.4 1.7 3 0.5 1.5 0.1 2.5 1 3 0.1 1 -0.1 1.1 -1.6 2.9 -0.4 2 -0.4 1 -2.6 3 -2.3 4 -0.9 1 -3.3 2.9 -2 3.6 -1.5 1.8 -2.5 2.4 -4.4 5.3 -2.1 1.2 -1.5 1.3 -4 2.6 -3 1.1 -1.5 0.2 -3.5 0.1 -6-1.4 -5.8-3.1 -1.5-1 -3.2-3.6 -4-3.3 -4-4.9 -3.5-2.8 -2.6-2.9 -1.4-2.1 -1.4-1.4 -0.8-1.5 -0.4-3 0.2-1.5 0.8-3.5 0.6-1.1 3.5-3.7 2.5-1.5 3.1-2.7 1.4-0.7 5-1.8 3.5-1.5 3.5-1.7 4-2.6 7.5-2.5 6-0.8zM259.8 1001.5l2.2-0.2 6.5 1.4 4 0 1 0.5 1.2 1.3 2.3 1.6 2.3 2.9 1.7 3 0.1 1.5 -0.4 4 0.1 3 -0.5 3.5 -0.3 0.8 -0.5 0.7 -2 1.8 -2.3 4.2 -1.7 2.1 -2 1.9 -1.1 2 -2.1 2 -2.1 2.5 -1.7 1.4 -1.8 2.1 -2.7 2.5 -2 1.4 -3.5 1.8 -3 0.6 -2.5 0.8 -1.5 0 -3-1.2 -2.5-1.3 -2.5-0.6 -1.5-0.9 -2.3-2.6 -2.7-2.3 -2-2.3 -2-1.6 -3.3-3.8 -4.7-4.2 -1-1.3 -1.3-3 -0.5-4 0.1-2 1.5-3.5 1.1-1.5 2.1-1.5 2.1-2 3.4-2.1 8-2.7 4.3-2.2 2.7-1.7 1.5-0.6 4.5-1.2 3.5-0.3 3.5-0.6zM255.9 1003.5l3.1-0.3 2.5 0.1 4 1 3 1 2 0.4 1 0.3 0.6 0.5 1.4 1.9 1.6 1.1 2.3 4 0.2 1 0.2 5 -0.2 1 -1.6 3.5 -1.7 5 -0.8 1.5 -1.5 1.7 -2.5 1.4 -1 0.9 -2.7 3.5 -1 2 -0.4 0.5 -1.9 1.5 -1.9 3 -1.1 1 -4 2.5 -2.5 0.6 -4 0.6 -2.5-1 -5.5-1.1 -1-0.3 -1-0.8 -2.5-2.7 -2.5-1.7 -2.5-3 -2.9-3.1 -2.4-2 -1.9-2.5 -2.1-2 -1.2-2.7 -0.6-3.3 -0.1-1.5 0.7-2.3 1-1.8 3.7-3.4 3.8-2.3 5-2.1 3-0.7 2.5-1.6 5-2.4 4.5-1.2zM251.8 1005l1.7-0.3 3 0.1 3-0.2 3 1.2 3 0.6 4 1.6 1.7 2 2.3 1.7 1 1.3 0.4 1 -0.1 2.5 0.3 1.5 -0.7 5.5 -1.6 5 -0.5 1 -1 1 -2.9 2 -1.1 1 -6 7.5 -1.8 2.6 -1 0.8 -1.5 0.8 -1.5 1.4 -1 0.5 -1 0.2 -3-0.2 -3-0.6 -3.5 0 -2.5-0.8 -1.5-0.9 -2.5-2.7 -2-0.9 -1-0.7 -4.5-5.6 -2.7-2.4 -4-5.5 -0.5-1 -0.1-1 0.4-2 1-2 1.1-3 3.8-3.6 3-1.4 2.5-1.7 4-1 2-1.5 1-0.5 5.5-1.9zM251.9 1006l2.1-0.3 2.5 0.6 2.5-0.4 1 0.3 2 1.1 3.5 0.7 1.8 1 2.7 2.5 2.2 1.5 0.4 0.5 0.3 1 -0.3 3.5 -0.6 2 0.2 2.5 -0.1 1 -0.6 2 -1.2 2 -1 2.5 -0.9 1 -2.7 2 -1.6 2.5 -5.1 6.4 -1 0.8 -2.5 1.1 -2 1.7 -1.5 0.2 -2-0.2 -2.5-0.5 -3-0.2 -1.5-0.4 -1.9-0.9 -1.4-1.5 -1.2-0.9 -2.8-1.6 -3.2-3.6 -1.8-2.4 -3.1-3 -0.4-1 -0.5-2 -1.2-1.2 -0.3-0.8 0.6-1.5 0.3-2.5 0.4-1.5 0.6-1 2.3-3 0.6-0.6 3-1.4 2.5-1.7 3.5-1 2.5-1.7 3.5-0.7zM252.4 1007l1.6-0.2 2.5 0.8 2.5-0.4 2.5 1.1 3.9 1.2 1.2 1 2.2 3.5 1.7 1.5 0.3 1 -1.6 5.5 0.1 3 -1.1 2.5 -0.7 2.3 -1 0.6 -1.5 0.3 -0.5 0.4 -0.6 0.9 -0.9 3 -2 2 -1.5 2.4 -1.5 1.6 -1 0.8 -2.5 1 -1.8 1.2 -1.2 0.3 -1.4-0.3 -2.1-1.3 -1-0.4 -1 0.1 -1.5 0.5 -1-0.1 -0.5-0.3 -1.3-1.5 -3.2-1.5 -1.3-1 -1.3-1.5 -2.4-2 -0.6-1 -0.9-2.5 -0.5-0.7 -0.5-0.4 -1.5-0.7 -0.5-0.7 -0.3-2.5 -1-2 -0.3-1.5 0.1-1 1.5-2 1.1-3 1-1 3.3-1.5 2.1-1.3 2.5-0.8 3-1.6 3-0.8zM252.4 1008.5l1.1-0.3 3 0.5 2.5-0.2 5 1.8 1.3 1.2 1.4 2.5 1.8 2 0.3 1 -0.8 3.5 -1.8 2 -0.2 0.5 0.1 0.5 1.2 1.5 0 1 -0.8 1.1 -0.5 0.1 -2 0 -0.5 0.5 -0.6 2.3 -1.1 2 0 2 -0.1 0.5 -0.4 0.5 -1.8 1.3 -1.3 2.2 -1.7 2.1 -1 0.6 -3.5 1 -0.9-0.2 -1.6-1 -1-0.3 -4.5-0.5 -3.3-1.2 -1.5-1 -1.7-1.9 -2.5-1.4 -0.8-1.2 -0.5-2.5 -4.2-5.9 -0.7-1.6 0.1-1 1.8-2.5 0.8-2.5 1-1 2.5-1 2.4-1.5 2.1-0.6 7-3.1zM253.6 1010l1.4-0.2 4 0 3.5 1.3 0.7 0.4 0.7 1 1.2 3.5 -0.7 1.5 0.7 2.5 -0.3 1 -1.5 2 -1.1 6.5 -0.6 1 -1.3 1.5 -0.5 2 -1.4 1.5 -1.2 2 -1.2 0.9 -1 0.1 -1.3-0.5 -1.2-0.1 -3.5 1 -2 0.3 -2.5 0 -1.5-0.3 -1.5-0.7 -0.9-0.7 -0.7-1 -0.9-1.7 -0.5-0.3 -2-0.4 -0.7-0.6 -0.7-2.5 -1.8-2.5 -0.5-1 -0.3-2.1 -1.1-2.4 0.4-2 1-2.5 0.7-0.8 2-0.9 2-1.5 2-0.6 2-1.1 2-0.7 2.3-1.4 1.2-0.5 3-0.7 2.5-0.1zM256.3 1011l1.2-0.1 1 0.3 3.5 2 0.8 1.3 0 3 0.8 2.5 -0.3 1 -0.8 1.3 -0.2 0.7 -0.6 5.5 -0.3 1 -0.8 1 -1.7 1.5 -2.2 3.5 -0.7 0.8 -1 0.3 -8 1.4 -2.5 0.2 -1.5-0.5 -1.4-1.2 -1.2-2.5 -0.9-1.3 -0.5-0.3 -1.5-0.4 -3.3-4 -0.5-1 -0.8-4.5 0.1-1.3 0.5-1.2 0.7-1 1.8-1.1 1.7-1.4 1.8-0.7 2-1.1 3-1.1 2.5-1.6 3-0.8 4 0.5zM248.5 1012.5l1.5-0.4 1 0 3 1.1 1-0.2 2-0.8 1 0.1 0.5 0.2 2.5 1.8 0.6 0.7 0.3 2.5 0.8 2.5 -1 2.5 -0.5 3.5 -0.1 2.5 -0.6 1.2 -2.8 2.3 -1.9 2.5 -0.8 0.7 -3 1 -4.5 0.7 -1.7-0.4 -2.8-1.3 -1-1 -1.5-2.7 -1.5-1.7 -1-0.6 -1.5-0.3 -1.2-0.9 -0.6-1 -0.3-1 -0.3-4 0.2-1 0.6-1 3.1-2.5 2-0.8 2-1.2 4.1-1.5zM249.1 1013.5l1.4-0.5 3 1.1 1-0.1 2.5-0.7 1 0.1 0.5 0.3 2 1.8 0.5 2 0.9 2.5 -0.8 2.5 -0.5 3.5 -0.1 2.5 -0.5 0.9 -3.4 2.6 -1.6 1.9 -0.8 0.6 -1.7 0.6 -4.5 0.8 -1.1-0.4 -1.4-1.6 -0.5-0.2 -2-0.4 -0.5-0.3 -1.5-2.5 -1.8-2 -0.7-0.3 -1.5-0.4 -1-0.5 -0.7-1.3 0-3.5 0.1-1 0.5-1 2.1-1.8 2.5-1.1 1.3-1.1 1.2-0.6 2-0.6 2.5-0.4zM250.2 1014.5l0.8-0.1 2 0.5 3.5-0.7 1 0.1 0.5 0.2 1 1 0.7 2 1.3 1.9 0.1 1.1 -1.3 5.5 0 2 -0.4 1 -3.5 2.5 -2 2 -0.9 0.4 -2.5 0.3 -2 0.6 -1-0.3 -1.5-1.7 -2-0.4 -1-0.5 -2-2.8 -1-1.1 -1-0.5 -1.6-0.5 -0.7-0.5 -0.4-1 0-3.5 0.4-1 0.8-0.8 3.5-1.7 2.4-2 1.6-0.5 3 0zM254.1 1015.5l1.9-0.4 0.5 0.1 0.7 0.3 0.2 0.5 0.2 1.5 0.3 0.5 2 1.5 0.3 1 -0.5 3 -0.7 1.2 -1 0.4 -2-0.4 -1 0.1 -0.7 0.7 -0.3 0.9 0 1.5 0.5 0.4 1.5 0.1 1.5-0.2 0.5 0.3 -0.9 1 -2.9 1.5 -1.7 1.4 -1.5 0.4 -2 0.2 -0.5-0.2 -0.8-0.8 -0.7-0.4 -2 0 -1-0.3 -1-0.8 -2.4-3 -2.6-1.4 -0.5-0.6 -0.4-3 0.4-1.2 1-0.7 3.7-1.6 1.8-2 1.5-0.4 2.5 0.4 1-0.3 1.5-0.9zM252.2 1016.5l2.3-0.3 1 0.1 0.3 0.2 0.3 1.5 0.4 0.8 1.8 1.2 0.3 0.5 -0.1 0.6 -0.8 1.9 -0.7 0.2 -2-0.1 -1 0.5 -0.8 0.9 -0.5 1 -0.6 4 -0.4 1 -0.7 0.7 -1 0.1 -3-1 -2 0.1 -0.5-0.2 -1.5-1.2 -2-2.2 -2.2-1.8 -0.7-2 0-1 0.4-0.5 2.5-1.2 2.3-0.3 0.7-1.9 0.5-0.6 1-0.3 2 0.6 1 0.1zM252.4 1017.5l1.1-0.3 1 0.2 0.3 0.6 0.4 2 -0.4 1 -1.3 1.3 -1.7 2.7 -0.3 3.5 -0.5 1 -0.5 0.5 -0.5 0.1 -1-0.1 -5-1.5 -1.3-1 -2.7-3 -0.7-1 -0.2-1 0.2-0.5 0.7-0.5 1.5-0.5 2 0.3 0.8-0.3 0.3-0.5 0.3-2 0.6-0.4 1.5 0.6 1 0.1 3-0.3zM248.8 1019.5l1.2 0 2.5 0.7 0.3 0.3 -0.5 2 -1.4 2.5 -0.1 1 0.1 1.5 -0.3 1 -0.4 0.5 -0.7 0.3 -1.5-0.3 -4-1.6 -1-0.9 -1-1.5 -1.5-1.5 -0.2-0.5 0-0.5 0.7-0.6 1-0.1 1.5 0.4 1-0.2 1.2-0.5 1.6-1.5zM248.2 1020.5l0.8-0.3 1 0.2 1 0.6 0.5 1 -0.2 1 -1.3 2.5 0 2.1 -0.5 0.7 -0.5 0.2 -1.5-0.4 -1.5-1 -1.5-0.7 -0.9-0.9 -0.6-1.5 0.1-0.5 0.4-0.2 3-1.2zM248.1 1021.5l0.9-0.5 0.5 0 0.7 0.5 0.4 1 -0.3 1 -1.2 2 -0.2 1.5 -0.4 0.4 -1-0.4 -1-1.3 -1.2-0.7 -0.4-0.5 0.3-0.5 1.3-0.5zM248.4 1022l0.6-0.3 0.5 0.1 0.5 0.7 -0.4 1 -0.6 0.8 -0.5 0.4 -0.5 0 -0.4-0.7 0.1-0.5 0.3-1z" fill="none" stroke="#000" stroke-width="1.25" stroke-linejoin="round"/>
<rect x="181.5" y="929.5" width="267" height="265" fill="none" stroke="#404040" stroke-width="1.15"/>
<rect x="271.5" y="986.5" width="136" height="77" fill="none" stroke="#404040" stroke-width="1.15"/>
<path d="M181.5 1194.5v7.5M201.5 1194.5v2.8M213.5 1194.5v2.8M221.5 1194.5v2.8M228.5 1194.5v5M233.5 1194.5v2.8M237.5 1194.5v2.8M241.5 1194.5v2.8M245.5 1194.5v2.8M181.5 1194.5h-7.3M181.5 1174.5h-2.8M181.5 1162.5h-2.8M181.5 1154.5h-2.8M181.5 1148.5h-4.8M181.5 1142.5h-2.8M181.5 1138.5h-2.8M181.5 1134.5h-2.8M181.5 1131.5h-2.8M248.5 1194.5v7.5M268.5 1194.5v2.8M280.5 1194.5v2.8M288.5 1194.5v2.8M294.5 1194.5v5M300.5 1194.5v2.8M304.5 1194.5v2.8M308.5 1194.5v2.8M311.5 1194.5v2.8M181.5 1128.5h-7.3M181.5 1108.5h-2.8M181.5 1096.5h-2.8M181.5 1088.5h-2.8M181.5 1081.5h-4.8M181.5 1076.5h-2.8M181.5 1072.5h-2.8M181.5 1068.5h-2.8M181.5 1065.5h-2.8M315.5 1194.5v7.5M335.5 1194.5v2.8M346.5 1194.5v2.8M355.5 1194.5v2.8M361.5 1194.5v5M366.5 1194.5v2.8M371.5 1194.5v2.8M375.5 1194.5v2.8M378.5 1194.5v2.8M181.5 1062.5h-7.3M181.5 1042.5h-2.8M181.5 1030.5h-2.8M181.5 1022.5h-2.8M181.5 1015.5h-4.8M181.5 1010.5h-2.8M181.5 1006.5h-2.8M181.5 1002.5h-2.8M181.5 998.5h-2.8M381.5 1194.5v7.5M401.5 1194.5v2.8M413.5 1194.5v2.8M421.5 1194.5v2.8M428.5 1194.5v5M433.5 1194.5v2.8M438.5 1194.5v2.8M442.5 1194.5v2.8M445.5 1194.5v2.8M181.5 995.5h-7.3M181.5 975.5h-2.8M181.5 964.5h-2.8M181.5 955.5h-2.8M181.5 949.5h-4.8M181.5 944.5h-2.8M181.5 939.5h-2.8M181.5 935.5h-2.8M181.5 932.5h-2.8M448.5 1194.5v7.5M181.5 929.5h-7.3" stroke="#404040" stroke-width="1.15" fill="none"/>
<text x="369.1" y="1023.6" font-size="26" font-weight="normal" text-anchor="middle" fill="#111" stroke="#fff" stroke-width="0.3" letter-spacing="0.4">6.42</text>
<path d="M567 1008l1.5-0.1 3 0.2 2.5-0.1 4 0.3 3.5-0.1 9.5 0.9 7 2.2 1.4 0.7 4.1 2.9 2.1 2.1 0.9 1.2 2.4 4.3 0.5 2.5 1.6 3.5 1 4.5 0.1 1.5 -0.3 2.5 0.6 3.5 -0.4 3 0.4 2 0.1 1 -2.2 6 -3.3 6.5 -4 4 -1.5 1.1 -5.5 3 -3 0.8 -3 1.2 -4.5 0.7 -9 0.3 -5-0.3 -4-0.7 -4.5 0.4 -6.5-0.2 -4-1.4 -3.5-1.6 -1.3-0.8 -1.7-1.6 -5.2-2.9 -4-3.5 -3.8-3.9 -3.8-5.6 -0.7-1.5 -0.6-2.5 -1.2-2.5 -0.6-3 -0.9-2.5 -0.1-1 0.7-2.5 0.1-2.5 0.4-1.5 0.8-1.5 1.7-2.5 1-2 0.8-1 1.9-1.5 1.6-2 1.4-1.1 3-1.7 8.5-3.6 5.4-1.6 3.6-0.7 3-0.8zM562.7 1012l4.8-0.3 3 0.1 4-0.3 7.5 1 3 0 3 0.2 3.1 1.3 3.4 1 4.2 2 1.3 1 2.8 3 1.6 3 0.2 1 0.1 2.5 1.3 4.5 0.3 3 0.6 3 -0.2 4.5 -0.9 2.5 -0.9 4 -0.2 3 -0.4 1.5 -0.7 1 -2.9 3 -4.7 4.2 -2 1.1 -4 1.8 -3 0.2 -3.5 0.8 -3-0.1 -3.5 0.5 -3-0.1 -2.5 0.1 -6-1.1 -3.5 0.5 -4.5-0.5 -3-0.8 -3-1.5 -4.5-2.6 -2.5-2.1 -2.2-1.4 -1.3-1.3 -3.5-5 -2-2.1 -2.5-5.1 -0.7-3.5 -1.8-2.8 -0.4-1.2 0.1-1 0.9-2.5 0.5-2.5 2.5-4.5 3.9-4 3.5-3 1-0.5 8.5-2.7 4.5-1.7zM563.7 1014l3.3-0.3 3 0.5 2.5-0.4 5.5 0 4.5 1 5 0.6 5.5 1.8 3.1 1.8 1.2 1 3 3.5 1 2 1.8 6.5 0.1 4 0.3 2.5 -0.2 4 -1.1 4.5 -0.2 3.5 -0.2 1 -0.8 0.9 -1.9 1.6 -3.2 4 -1.4 1.3 -2.5 1.4 -2 0.9 -6.5 1.3 -2.5 0 -4 0.6 -3-0.4 -2 0 -2-0.2 -2.5 0.1 -3-0.5 -2.5 0.5 -2 0 -4.5-1.3 -4-2.4 -2-0.9 -5.3-3.9 -2.7-2.8 -1.5-2.7 -1.8-2.5 -0.6-1 -0.8-2.5 -1.2-2.5 -0.4-3 -0.8-2 -0.1-1 0.2-1.5 1.8-5.5 0.5-1 1.7-2 4.5-4.5 1-0.6 3-1.1 4.5-1.1 3.5-1.7 1.5-0.6 4.5-0.4zM572 1015.5l6-0.1 10.5 2.3 3.5 1.2 1.5 1.1 2.6 3 1.9 1.7 0.6 0.8 1 2 0.3 1.5 0 2.5 1.1 5.5 -0.5 3 0.3 3 -1.4 3.5 -0.2 3.5 -6.2 7.3 -2.5 1.7 -1 0.5 -4.5 0.8 -4 0 -3 1.1 -1 0.2 -2-0.3 -2.5 0.2 -5-0.3 -3.5-1 -2 0.6 -1.5 0.1 -4-1 -2-0.9 -2.5-2.1 -2-1 -4-2.9 -3-3.1 -1.5-3.4 -1.5-1.4 -0.7-1.1 -1.4-5 -0.2-2.5 0-3.5 1.1-2.5 0.3-1.5 0.4-1 3.9-5 1.1-1 2.5-1.7 4-0.9 5-2.5 1-0.4 3.5 0 4-1 2 0 3 0.3zM573.4 1017l3.1 0 2.5 0.5 3 0.1 6.5 1.7 3 1.7 1.2 2 3 3.5 1.8 3.8 1 5.7 -0.1 1 -0.6 2 0.2 3 -0.9 2.5 -0.1 3 -0.3 1.5 -0.7 0.9 -2.5 2.3 -1.4 2.8 -0.8 1 -2.1 1.5 -1.5 0.5 -2.7 0.5 -3-0.1 -3.5 0.9 -2.5 0.2 -3 0.6 -1-0.1 -3.5-0.7 -2.1-0.8 -1.4-0.3 -2-0.1 -2.5 0.6 -1 0.1 -2.9-0.8 -1.6-0.9 -2-2 -3-1.3 -2-1.6 -3.2-3.7 -1.4-3 -2.4-2.5 -0.9-2 -0.8-3.5 0.1-1.5 0.6-3 1.5-2.5 1.7-3.5 2.3-2 1.7-2.5 0.8-0.6 3-0.6 2-1.2 2-0.6 2-1 3 0.2 3.5-1.2 3.5 0zM569.4 1018.5l5.6-0.3 1.5 0.2 2.5 0.8 3-0.3 3 1.3 2 0.2 1 0.3 1.2 0.8 0.9 1 1.4 2.4 2 2.5 0.8 2.1 1.4 2 0.5 1.5 0 2.5 -1.2 2.3 -0.1 0.7 0.7 3 -0.5 3 0 2.5 -0.2 0.5 -0.4 0.4 -2 0 -0.5 0.3 -0.3 0.8 -0.7 4.5 -0.5 1 -1 0.9 -1.5 0.6 -2.5 0.7 -3.5 0.3 -3 0.8 -3.5 0 -2.5 0.8 -1-0.1 -5.5-1.8 -2 0 -2.5-0.3 -2 0.6 -1.5 0 -1.7-1 -2.8-2.6 -3-1.1 -2-1.5 -2.8-3.3 -1.4-3 -2.3-2 -0.8-1 -0.4-1.5 -0.1-2.5 0.7-4 1.3-3.5 0.8-1.5 0.5-0.5 2-1.1 2-3.3 1-0.5 2.5-0.5 2-1.1 2-0.1 3.5-0.6 4-1.9 1.5-0.2zM572.2 1019.5l3.3-0.1 3.5 1.2 3-0.1 1 0.7 0.8 1.8 0.7 0.8 0.5 0.1 2.5 0 1.5 0.9 1 1 1.3 1.7 0.4 1 -0.1 1 -0.9 1.5 0.1 0.5 0.7 0.6 1.9 0.9 0.6 1 0.1 1 -0.1 1 -1 2.5 0.1 1 0.8 1.5 0.2 1 -0.5 2 -0.6 1.1 -2 1.5 -0.5 0.8 -0.3 1.1 -0.2 2.9 -0.7 1.6 -0.8 0.7 -3.5 1.4 -3 0.5 -2.5 0.6 -5.5 0.1 -2.5-0.3 -2.5 0.1 -2-0.7 -2.5-0.2 -2.5-1 -1 0.2 -1.5 0.8 -1-0.2 -0.7-0.5 -1.8-2 -0.8-0.5 -1.2-0.5 -2.5-0.7 -1.5-1 -2.8-3.3 -0.3-1 -0.1-2 -0.3-0.5 -2.1-1 -0.9-1 -0.2-1 0.6-3 1.7-3 0.3-1 0-0.5 -1.2-1.5 0.1-1 0.7-0.6 1.5-0.4 0.7-0.5 1.3-3 0.5-0.6 0.7-0.4 2.3-0.3 2-0.8 2 0 1-0.2 7-3.4 1.5-0.2zM564.4 1021l1.6-0.4 2.5 0.1 3.5-0.2 5 0.7 3.5 1.1 1.7 2.2 1.8 1.3 1.5 0.5 2.5 0.1 1 0.6 0.4 0.5 0.4 1 -0.7 2 0 1 0.6 1 2.6 2 0.4 1 -0.1 1 -1 1.5 -0.2 1 0.1 0.6 1 1.6 0.2 0.8 -0.2 1 -2.5 2.4 -1.3 4.1 -0.7 0.8 -3.4 1.2 -2.2 1.5 -1.4 0.6 -2.5 0.4 -2 0.9 -1.5 0 -3.5-0.6 -2 0.1 -2-0.3 -2-0.1 -4-1.7 -2.5 0.1 -4.5-2.3 -3-0.9 -1.3-1.2 -1.1-1.5 -0.5-1 -0.2-2.5 -1.7-3 -0.7-3.5 0.3-1.5 1.4-2 0.6-2 1.3-2 0.7-2 0.3-0.5 0.9-0.5 1.5-0.2 2-0.9 2.5-0.4 2-1.1 3-1.1zM566 1022l2.5-0.1 3.5-0.4 2.5 0.6 2 0 1.5 0.4 1.5 0.9 2 2.1 4.5 2.5 1.1 1 1.2 3.5 0.7 0.8 1.6 1.2 0.6 1 0 0.5 -1.1 1.5 -0.2 0.5 0 1.5 0.4 2 -0.1 0.5 -1.8 2 -0.2 1 0 1.5 -0.2 1 -0.5 0.9 -0.5 0.5 -1 0.4 -2.5 0.6 -1-0.1 -1.5-0.5 -0.5 0.1 -0.5 0.6 -0.3 1.5 -0.6 0.5 -1.6 0.7 -1.5 0.9 -1.5 0.2 -2.5-0.5 -2.5-1.3 -3 0.9 -1.5-0.1 -3.5-1.8 -2.5-0.3 -2-0.7 -3-1.6 -2-0.8 -0.5-0.5 -1.7-5.1 -1.6-2.5 -0.7-1.7 -0.3-1.3 0.3-1.2 2.1-2.3 2.5-4.5 0.8-1 2.1-1.4 2.5-0.7 2.5-1.3 3.5-0.7zM569.7 1023l2.3-0.2 2 0.6 2.5 0 1 0.3 2.9 2.3 3.6 1.9 1 0.8 0.7 0.8 1.2 2 0.9 2.5 -0.3 2.3 0.9 2.2 0 1 -0.5 2 -1 3 -0.2 2 -0.2 0.7 -1 0.7 -2 0.4 -2.5-0.4 -1 0.1 -3.5 2.5 -1.2 1.5 -0.9 0.5 -0.9 0.1 -1-0.3 -0.5-0.3 -1.2-1.5 -0.8-0.3 -1 0.2 -2 1.2 -1.5 0.3 -1.5-0.6 -2.5-1.6 -3-0.3 -2-0.9 -1.8-1.5 -0.3-0.5 -0.4-2 -1.5-1.1 -0.7-0.9 -0.7-3 -2.1-1.9 -0.4-1.1 0.4-1 1.5-1.6 2-4 2.8-2.9 5.2-2.2 2-0.1 3.2 0.3 2.3-1.5zM568.7 1024.5l1.3-0.2 1.5 0.2 2.5 1 3 0.2 1.5 0.8 3.6 1.5 1.5 1 1.9 1.8 1.1 1.7 0.2 1.5 -0.4 2.5 0.7 2.5 -0.4 1 -0.7 0.9 -3 2.1 -0.5 1 -0.3 2 -0.5 0.5 -2.2 0.7 -2 1.3 -3.5 1.9 -0.5 0 -0.5-0.3 -1.5-1.3 -1-0.2 -1.5 0.5 -2.1 1.4 -1.4 0.3 -1.5-0.7 -2-1.8 -0.5-0.2 -2.5 0.2 -1.5-0.8 -0.6-1 0.2-2 -0.3-1 -2.6-3.5 -2.8-2.5 -0.6-1 -0.1-0.5 1.4-4 0.6-1 3.3-3.4 4.5-2 2-0.2 2.5 0.6 1-0.1zM567.9 1026l0.6-0.3 1-0.1 2 0.3 2.5 0.7 2.5 0.3 4.5 1.9 2 1.6 1.5 0.7 1 0.9 0.7 1.5 -0.6 3 0.2 2 -0.9 1.5 -2.8 3 -1.1 2.3 -3 1.8 -2 0.9 -1.5 0.4 -1-0.2 -2-0.8 -1 0.1 -2 0.7 -2 1.2 -1 0.1 -1-0.5 -0.6-0.5 -0.9-2.5 -1-0.4 -2-0.4 -0.5-0.3 -3-3.4 -1.5-2.3 -2.7-2.2 -0.3-0.5 -0.1-1 0.5-2.5 0.6-1.3 1-1.2 2.5-2.1 3.5-1.8 1-0.4 1.5-0.1 3 0.7 1-0.1zM560.9 1027l1.6-0.2 3 0.7 3.5-0.7 2.5 0 2.5 0.7 2.5 0.4 3 1.2 1.1 0.9 0.9 1.3 0.5 0.4 2 0.1 1 0.6 0.4 0.6 0.1 1 -0.6 2 -0.2 2 -0.4 1 -1.3 2 -1.5 1.6 -1.5 2.4 -2 1.3 -1.5 0.3 -5.5-0.3 -1.5 0.4 -3 1.2 -1 0.1 -0.6-0.5 -0.4-2 -0.5-0.5 -3-0.7 -1-0.5 -2.5-2.3 -2-3 -2-1.6 -0.6-0.9 -0.2-1 0.2-1.5 0.4-1 0.7-1 2.5-1.7 1.5-0.8 2-1.5zM560.7 1028l1.3-0.5 3.5 0.7 4-0.6 2 0 3 1 2 0.9 2.5 0.6 0.6 0.4 1.3 2 0.6 0.5 1 0.2 1.5-0.3 0.7 0.6 -0.1 1 -0.7 3 -1.1 2.5 -0.7 1 -1.5 1.5 -1.2 2 -0.9 0.7 -1 0.4 -1 0.1 -2-0.5 -3-0.3 -2.5-0.7 -1 0.2 -1 0.8 -0.5 0 -1.5-1 -3-0.3 -1-0.4 -3.5-3 -2-3.4 -1.5-1.7 -0.3-1.4 0.2-1 0.6-0.7 3-1.6zM561.3 1028.5l1.2-0.2 2.5 0.6 5-0.6 1.5 0 2.5 1 2 1.7 2 0.2 1 0.4 2 2 1.8 1.4 0.2 0.5 0.1 1 -0.2 1 -1 2.5 -2 2 -1.1 2 -1.3 0.8 -1 0.1 -2-0.6 -2-0.3 -2.5-0.9 -1.5-0.3 -2.5 0 -3 0.6 -1.5-0.3 -3.5-3.1 -1.3-2.5 -0.2-1 0.2-1 1.3-2 0.4-2 1.6-2zM569.4 1029l1.6 0 1 0.3 1.4 0.7 1.6 1.6 3.5 0.6 2.1 1.8 1.2 1.5 0.3 1.5 -0.6 1.6 -0.5 0.9 -1.5 1.6 -1.5 2.4 -0.5 0.4 -1 0.1 -4-0.9 -4-1.3 -1.5-0.7 -0.5 0 -1 0.4 -1.5 1 -1.5 0.3 -1.4-0.8 -2.1-2 -0.5-0.7 -0.7-1.8 -0.2-1 0.4-1 1.1-1.5 0.4-2.5 1-1.5 0.6-0.5 0.9-0.4 3 0.6zM561.9 1030l0.6-0.1 2.5 0.5 3-0.7 2 0.1 0.7 0.2 0.6 0.5 0.1 1.5 0.3 0.5 0.8 0.6 1 0.1 1.5-0.6 1-0.1 2 0.2 1.3 0.8 1.4 1.5 0.5 1 0 1 -0.7 1 -1.4 1 -0.8 2.5 -0.8 1.1 -0.5 0.4 -1 0 -4-0.7 -3-1.3 -1-1.1 -0.5-0.3 -0.5-0.1 -1.5 0.6 -2 1.9 -1 0.1 -1-0.6 -1.9-2 -0.4-1 -0.3-1.5 0.3-1 1.3-1.5 0.1-0.5 -0.1-2 0.2-1 0.4-0.5zM567.1 1030.5l1.4-0.1 1 0.4 1.5 2.2 2 1.3 1 0.1 1.5-1.2 1.5-0.3 1.5 0.5 1.2 1.1 0.6 1 0 1 -0.3 0.5 -0.5 0.2 -1.5 0.4 -0.7 0.4 -0.1 0.5 0.4 2 -0.1 0.5 -0.5 0.8 -0.5 0.3 -1 0 -3.5-0.6 -2.2-1 -1.4-1.5 -0.9-0.5 -1 0.1 -1.5 0.5 -0.5 0.4 -1 1.5 -0.5 0.3 -1-0.3 -0.6-0.5 -1-1.5 -0.1-1 0.2-1.1 1.5-2.4 -0.3-3 0.3-0.5 0.5-0.2 2.5 0.3zM566.2 1031.5l1.3-0.4 1 0.2 0.5 0.3 1.5 1.9 2 1.5 0.4 0.5 0.1 0.5 -0.2 1.5 0.2 0.7 0.5 0.5 2 0.2 0.5 0.4 0.4 0.7 0 0.5 -0.3 0.5 -1.1 0.2 -2.5-0.4 -2.5-1.3 -1.5-1.4 -1-0.3 -3.6 0.2 -0.5 0.5 -0.4 1.1 -0.5 0.4 -0.5-0.4 -0.3-0.6 0-0.5 1.4-4 -0.1-2 0.5-0.5 1.5-0.2zM576.4 1033.5l1.1 0 1 0.5 0.5 0.5 0.6 1 -0.1 0.5 -0.4 0.5 -1.1 0.3 -1 0.1 -0.5-0.2 -0.8-0.7 -0.5-1 0.1-0.5 0.3-0.5zM566.3 1032l1.2-0.3 1 0.3 1.7 2 1.9 1.5 0.2 1 -0.5 2 -0.3 0.4 -1-0.1 -2-1.4 -1-0.2 -2 0.2 -1.2-0.4 -0.6-0.5 0-1 0.5-2.5 0.7-0.5zM576.4 1034l1.1-0.1 1 0.6 0.5 1 -0.2 0.5 -0.8 0.4 -0.5 0 -1-0.4 -0.6-1 0-0.5z" fill="none" stroke="#000" stroke-width="1.25" stroke-linejoin="round"/>
<rect x="489.5" y="929.5" width="266" height="265" fill="none" stroke="#404040" stroke-width="1.15"/>
<rect x="579.5" y="999.5" width="137" height="80" fill="none" stroke="#404040" stroke-width="1.15"/>
<path d="M489.5 1194.5v7.5M509.5 1194.5v2.8M521.5 1194.5v2.8M529.5 1194.5v2.8M535.5 1194.5v5M541.5 1194.5v2.8M545.5 1194.5v2.8M549.5 1194.5v2.8M552.5 1194.5v2.8M489.5 1194.5h-7.3M489.5 1174.5h-2.8M489.5 1162.5h-2.8M489.5 1154.5h-2.8M489.5 1148.5h-4.8M489.5 1142.5h-2.8M489.5 1138.5h-2.8M489.5 1134.5h-2.8M489.5 1131.5h-2.8M556.5 1194.5v7.5M576.5 1194.5v2.8M587.5 1194.5v2.8M596.5 1194.5v2.8M602.5 1194.5v5M607.5 1194.5v2.8M612.5 1194.5v2.8M616.5 1194.5v2.8M619.5 1194.5v2.8M489.5 1128.5h-7.3M489.5 1108.5h-2.8M489.5 1096.5h-2.8M489.5 1088.5h-2.8M489.5 1081.5h-4.8M489.5 1076.5h-2.8M489.5 1072.5h-2.8M489.5 1068.5h-2.8M489.5 1065.5h-2.8M622.5 1194.5v7.5M642.5 1194.5v2.8M654.5 1194.5v2.8M662.5 1194.5v2.8M668.5 1194.5v5M674.5 1194.5v2.8M678.5 1194.5v2.8M682.5 1194.5v2.8M685.5 1194.5v2.8M489.5 1062.5h-7.3M489.5 1042.5h-2.8M489.5 1030.5h-2.8M489.5 1022.5h-2.8M489.5 1015.5h-4.8M489.5 1010.5h-2.8M489.5 1006.5h-2.8M489.5 1002.5h-2.8M489.5 998.5h-2.8M689.5 1194.5v7.5M709.5 1194.5v2.8M720.5 1194.5v2.8M729.5 1194.5v2.8M735.5 1194.5v5M740.5 1194.5v2.8M745.5 1194.5v2.8M749.5 1194.5v2.8M752.5 1194.5v2.8M489.5 995.5h-7.3M489.5 975.5h-2.8M489.5 964.5h-2.8M489.5 955.5h-2.8M489.5 949.5h-4.8M489.5 944.5h-2.8M489.5 939.5h-2.8M489.5 935.5h-2.8M489.5 932.5h-2.8M755.5 1194.5v7.5M489.5 929.5h-7.3" stroke="#404040" stroke-width="1.15" fill="none"/>
<text x="676.3" y="1037" font-size="26" font-weight="normal" text-anchor="middle" fill="#111" stroke="#fff" stroke-width="0.3" letter-spacing="0.4">30.7</text>
<path d="M900.8 1001.5l2.2-0.4 1.5 0 6 1.4 1 0.5 3 2.4 1.4 1.6 0.6 1 0.9 6 0.6 2.5 0.1 2 -0.6 5 -2.4 10 -1.6 3.5 -0.6 3 -1.1 2.5 -1.3 3.6 -2.1 3.4 -1.9 3.5 -0.8 1 -1.7 1.5 -2 1.3 -1.3 1.2 -0.8 0.5 -3.4 1.3 -3 1.6 -1 0.2 -1.5-0.1 -1 0.5 -1.1 1 -4.1 6.5 -1.8 2.1 -3 2.6 -4.5 2.1 -5 0.8 -2-0.2 -4-1 -1.5-0.6 -4.5-3.2 -2.5-3 -2.5-1.9 -1.5-1.5 -3.4-4.7 -3.7-4.5 -2.4-1.9 -1.5-1.6 -2.9-2.5 -2.6-3 -3-2.5 -1.9-2 -2.5-2 -3-3 -3.7-5.5 -0.5-2 0.2-3 0.6-2.5 0.9-1.5 2-2.5 1.7-1.5 3.3-2 4.9-2.5 5-1.9 4.5-1.4 9.5-2.6 7.5-1 12.5-1.1 4 0.2 7.5 0 3.5-0.4 2.4-0.8 5.1-3.2zM805 1021l2.5 1.6 1 1 1 2.4 0.3 3 -0.4 2.5 -0.4 1 -0.5 0.8 -1.1 0.7 -2.4 0.6 -0.1-6.6zM901.9 1005.5l1.6-0.1 1.5 0.2 4.5 1.9 1.2 1 0.8 1.5 0.7 2 1 5 -0.3 2.5 0.1 3.5 -0.5 2 -0.4 2.5 -0.6 1.7 -1 1.8 -2 2.5 -0.9 3 -2.6 5.8 -0.5 0.6 -1 0.2 -1.5-0.7 -0.5-0.1 -0.5 0.4 -0.5 1.8 -0.5 0.6 -1 0.5 -2.5 0.4 -1 0.5 -0.6 0.5 -2.1 3 -5 5.5 -1.6 4.5 -1.1 1.5 -1.8 2 -1.8 1.6 -2.5 1.4 -2 2.2 -1 0.4 -2 0 -1 0.3 -1.8 1.6 -0.7 0.3 -1.5 0 -3-1.5 -3.5-0.5 -1.2-0.8 -3.2-3.5 -2.6-1.9 -0.9-1.1 -1.4-3 -0.7-1.1 -3-2.4 -3-3 -3-4 -2-1.4 -2-2.1 -3-2.6 -6.4-7.9 -0.5-1 -0.4-1.5 -1.3-2.5 -0.3-1.5 0.2-1.5 1-2 1.2-1.5 2.5-2.1 5-3.4 4.5-2.1 11.5-3.3 11.5-1.8 9.5-0.3 5 0 3 0.2 8-0.7 2-0.4 3.5-1.7 2-0.3 2.5-1.3zM901.9 1009l1.1-0.1 0.9 0.6 1.6 2.2 2 1.9 0.5 0.9 0.1 1 -0.1 3.5 -0.8 2.5 -0.1 2.5 -0.6 1.5 0 1.5 -1.7 2.5 -2 1.5 -1.3 3 -0.7 1 -2.3 2.4 -2 1.6 -2 2.3 -2 0.9 -0.5 0.5 -2.4 3.8 -2.1 1.6 -0.8 0.9 -0.6 1 -2.4 6 -1.6 3 -1.1 1.5 -1.5 1.6 -1.3 0.9 -3.2 1.5 -3 1 -4 0.9 -1.5-0.2 -2-1.2 -4-3.2 -1.4-1.3 -2.1-1 -0.5-0.4 -1.6-2.6 -2.4-2 -1.5-1.7 -2.5-1.9 -1.3-1.9 -1.1-2.5 -0.7-1 -2-1.5 -1.9-1.8 -2.5-2 -1.5-1.7 -1-1.6 -2.3-1.9 -0.5-1 -0.9-2.5 -1.1-2.5 -0.1-1 0.4-1.5 1.2-2.5 1-1 3.3-2.1 2-1.8 1.5-0.9 2-0.9 7-2.5 4-0.9 7.5-1.3 7.5-0.7 3.5 0.1 3-0.2 7 0.5 4-0.1 3 0.3 3.5-0.2 1.5-0.3 3-0.9zM866.6 1013.5l2.9-0.5 3 0.3 7 0.1 7 1.3 5 1.9 0.5-0.1 1.8-1 1.2-0.2 1.5 0.2 1-0.1 2.5-0.9 1.5 0 0.5 0.2 0.4 0.3 0.1 0.5 -1.2 2.5 0.1 2 -0.3 1 -1.6 1.6 -0.5 0.9 -0.2 1 0.4 3 -0.2 1.3 -0.5 0.6 -0.5 0.2 -1.5 0.2 -0.5 0.1 -0.5 0.6 -1.5 2.3 -2 2.2 -0.9 2 -1 1.5 -1.6 2.1 -2 1.9 -0.5 1 -0.7 3 -2.8 4 -1.1 4 -2.1 4 -1.3 1.6 -1 0.7 -1.8 0.7 -1.8 1 -2.4 0.4 -3.5-0.2 -2-0.8 -5-3.6 -0.8-0.8 -1.2-1.9 -2.5-1.1 -1.5-1 -1.5-2.5 -2.7-2 -0.8-0.9 -1.8-3.1 -0.7-0.8 -2.4-1.7 -1.6-2.1 -2.5-2.1 -1.3-2.8 -2.2-2.5 -1.3-3 -0.7-2.5 0.2-1.5 0.4-1 0.4-0.5 0.7-0.5 2.3-0.9 2-2.3 1-0.8 6-3 2-0.7 4.5-1.1 8-1.5zM867.7 1014.5l2.3-0.4 5.5 0.6 4 0 2.5 0.6 2.5 1.2 3 0.7 1.5 1.3 3 3.5 0.1 0.5 -0.1 2 1 4.5 -0.1 1 -0.3 0.5 -1.9 1.5 -0.7 0.9 -0.8 3.1 -0.7 1.5 -1 1.2 -2 1.5 -0.7 0.8 -1.8 5 -0.8 1.5 -1.7 2.5 -1 3.4 -1.5 1.6 -1.1 2 -0.9 0.6 -3 0.2 -5 1.6 -1 0.1 -2.5-0.8 -1.9-1.2 -2.9-3.5 -3.2-2.3 -1.6-1.7 -1.9-1.6 -3.5-3.4 -1.5-2 -1.4-1.5 -1.1-2.6 -2.5-2.1 -1.5-1.8 -0.5-1 -0.7-3 -0.9-2.5 -0.3-1.5 0.3-1.5 1.1-1.4 3.6-3.1 3.9-2.6 5.5-1.6 8.5-1.9 1.5-0.2 2.5 0.1zM870.3 1015l5.7 0.8 3 0.1 2 0.2 1.5 0.7 2.4 1.7 0.6 0.5 0.2 0.5 0.1 2 0.7 1.6 0.5 0.5 1.5 0.8 0.5 0.7 1.1 3.4 0.1 1 -2.7 5.9 -1 1.3 -3 2.8 -0.5 1 -0.5 2.5 -1.9 4 -1.4 2 -1.1 2 -1.9 1.5 -0.7 2 -0.5 0.5 -2 0.5 -2.5 1.1 -1 0 -1.5-0.6 -0.5 0 -1.5 0.6 -1 0.1 -0.7-0.2 -0.8-0.5 -3.3-3.5 -0.6-1 -0.6-2 -0.5-0.5 -5-2.8 -2.7-2.2 -1.1-1.5 -0.8-1.5 -0.3-2.5 -0.3-0.5 -0.5-0.5 -3.8-2.4 -1-0.9 -0.5-1.2 0.1-3 -0.6-2.5 0.5-0.8 1.4-0.7 0.4-0.5 0.2-0.5 0.1-2 0.5-1 1.4-1.3 1.5-0.9 4.5-1.4 9-2.4 1.5-0.2 3.5 0zM869.4 1016l2.1-0.1 4.5 0.8 5 0.8 1.1 0.5 1.1 1.5 1.2 4 0.5 1 1.5 1.5 0.6 0.9 0.8 3.1 0.1 1 -0.4 1.5 -0.5 0.9 -2.5 2.1 -0.8 1.5 -1.4 2 -1.1 2.5 -1.1 2 -0.7 2.5 -2.9 4 -3.5 2.2 -5 0.9 -0.9 0.4 -1.6 1.2 -0.5 0 -0.5-0.2 -2.7-2.5 -0.5-1 -0.5-2 -0.8-1 -3-2 -2.1-1 -1.2-1 -1.2-2 -1.5-2 -0.1-1 0.3-2 -0.2-0.3 -2.5-0.8 -3.8-2.4 -0.5-0.5 -0.3-1 0.3-1 1-2 1-3 0.1-3 0.7-0.9 2-0.7 3.5-2 3-0.5 5.5-1.9 1-0.2 5-0.2zM869 1017l1.5-0.4 2 0.2 5.5 1.5 1.9 1.2 2.6 3 1.5 3 1.1 1.5 0.3 2.5 0.5 1.5 0 0.5 -0.2 0.5 -0.5 0.5 -1.7 0.8 -0.6 0.7 -0.5 1 -0.6 2.5 -1.5 3 -1.2 2 -0.8 2.5 -0.4 0.5 -1.4 1 -1 1.9 -0.5 0.6 -5.5 2.5 -4 0.2 -0.7-0.2 -0.8-0.5 -1.4-2.5 -3.2-2.5 -0.9-1 -0.2-0.5 0.1-0.5 0.7-1.5 0-0.5 -0.4-0.5 -1.2-0.3 -2.5 0.1 -1-0.5 -0.7-0.8 -0.2-0.5 -0.1-1 0.6-3 -0.1-1 -0.5-0.4 -0.5-0.1 -3 0.3 -1-0.6 -1.9-1.7 0.2-0.5 0.7-0.6 0.5-0.9 -0.5-3 0.9-2.5 2.5-3 1.1-0.9 1-0.4 2.5-0.3 6-2.1 2.5 0.1 3.5-0.5zM870 1017.5l1-0.2 1.5 0.2 1.3 0.5 2.2 1.3 1.5 0.3 0.5 0.3 1.5 1.7 1.8 1.4 0.7 0.7 1.6 3.8 0.1 1.5 -0.3 1.5 -1.4 1.9 -0.5 1 -1.8 6.1 -1.5 2.5 -0.8 2 -0.4 0.5 -1 0.4 -2 0.2 -1.5-0.3 -1 0.4 -2.4 1.8 -0.3 1 0.2 1 -0.2 0.5 -0.8 0.2 -1.5-0.5 -1.7-1.7 -2.8-1.2 -1-0.8 -0.5-1 0.6-2.5 -0.4-1 -0.7-0.7 -1-0.5 -2.5 0.4 -1-0.1 -1-0.6 -0.2-0.5 -0.2-1 0.7-2.5 -0.1-1 -0.2-0.5 -1-0.9 -2.5-0.4 -0.6-0.2 -0.4-0.4 -0.2-0.6 0.1-2 -0.8-2.5 0.3-1 2-3.5 0.6-0.6 1-0.7 2.5-0.5 2.5-0.9 3-0.8 1-0.1 2 0.2 3.5-0.6zM869.8 1018.5l1.2-0.3 1.5 0.2 1 0.6 2 1.8 2 0.7 3.5 3.5 1.3 2.5 0.3 1.5 -0.4 1 -1.5 2 -0.5 1 -0.5 2.5 -1.1 2 0 1.5 -0.3 1 -1.8 2.1 -0.5 0.4 -0.5 0.2 -2 0.1 -1.5 0.3 -2.5 1.7 -1.5 0.8 -1.5 0.5 -1-0.1 -2-0.6 -1-0.7 -0.3-0.7 0.1-2.5 -0.7-1 -1.6-1.5 -1-0.3 -0.5 0 -2 0.5 -0.5-0.1 -0.5-0.3 -0.3-1.3 0.5-2 -0.1-1 -1.1-1.6 -2.3-1.4 -0.5-0.5 -1-3.5 -0.1-1 0.9-1.9 1-1.5 1.8-1.1 3.7-1.5 2-0.4 1.3-0.1 2.2 0.4 4-0.6zM870.7 1019.5l0.8 0 1 0.3 2 1.7 2.8 1.5 3.5 4.5 0.5 1 0 0.5 -0.8 1.1 -2.2 1.4 -0.3 0.5 -0.2 2.5 -0.3 0.5 -2 1.4 -0.4 0.6 0 1 0.6 1.5 -0.6 1 -1.1 0.8 -2.5 0.9 -3 1.7 -2 0.7 -1.5 0.1 -1-0.5 -0.5-0.7 0.1-2 -0.7-1 -2.9-2.5 -1-0.5 -1.5-0.1 -0.5-0.3 -0.1-1.6 -0.4-1 -1.5-2 -2-2 -0.8-3 0-1 1.2-2 0.8-1 1.3-1 2-1.1 2.5-0.5 3 0.5 4.5-0.3 1-0.3zM859.2 1022l4.3 0.4 9-0.8 1 0.4 2.8 1.5 1.1 1 1.4 2.5 0.4 1.5 -0.2 0.5 -1.5 1.2 -0.6 0.8 -0.4 1 -0.3 2 -2.3 3 -0.1 2 -0.1 0.5 -0.4 0.5 -0.8 0.3 -1.5-0.3 -1.5 1.6 -1 0.3 -0.5 0 -2.5-2 -2-0.3 -1-0.6 -1.5-1.4 -2.5-2 -3.9-4.6 -0.5-1 0-0.5 0.3-0.5 1.9-1 0.6-0.5 0.1-0.5 0-1.5 -0.7-1.5 0.1-0.5 0.3-0.5 0.7-0.5zM865.8 1023l1.7-0.1 3.5 0.3 1.5-0.1 1 0.2 3 1.6 0.8 1.1 0.5 1.5 -0.2 1 -1.7 2.5 -0.5 2.5 -0.5 1 -2.4 2.5 -0.5 0.2 -2-0.1 -0.5 0.5 -1 1.9 -0.5 0.2 -1-0.4 -1.5-1 -2-0.4 -0.5-0.3 -3-2.8 -2-1.1 -1-0.8 -1.1-1.4 -0.5-1 0-0.5 0.4-0.5 2.4-1 0.3-0.5 0-2.5 0.5-1 0.5-0.5 1.5-0.6 1 0 1.5 0.3zM860.5 1030.5l-0.2 1 0.2 1.2 0.5 0.7 0.5 0 1.2-0.9 0.2-1 -0.4-0.8 -0.5-0.4 -1-0.2zM865.5 1024l1-0.3 1 0 4.5 0.8 1.5 0.7 2 0.5 0.5 0.3 0.5 0.6 0.3 0.9 -0.2 1 -1.6 2.5 -0.5 2.5 -0.7 1 -0.8 0.7 -1 0.4 -0.5 0 -1.5-0.7 -1.5 0.1 -0.6 0.5 -0.4 1.6 -0.5 0.3 -2.5-1.3 -0.7-0.6 -0.3-0.5 0.1-0.5 1.3-2 0-1 -1.9-2.2 -2.2-0.8 -0.6-0.5 -0.4-0.5 -0.2-1 0.4-1 0.5-0.4 1-0.2 1.5 0.5 0.5 0zM856.9 1030.5l0.6-0.4 0.5 0 0.7 0.4 0.3 1 0 0.5 -0.5 0.5 -0.5-0.1 -0.6-0.4 -0.6-1zM866.5 1024.5l1.5 0 2.8 0.5 1 0.5 1.2 1.2 2 0.4 0.4 0.4 0 1 -1.2 2 -0.4 1 -0.3 1.5 -0.5 0.7 -1 0.4 -4-0.2 -1-0.1 -0.2-0.3 -0.7-3.5 -1.4-2 -0.3-1 0.8-1.5 0.4-0.5zM867 1025.5l1.5-0.2 1.5 0.2 1 0.4 0.5 0.6 0.8 1.5 0.3 1.5 -0.3 2.5 -0.3 0.5 -0.5 0.4 -1 0.3 -1.5 0 -0.8-0.2 -0.6-0.5 -0.3-1 -0.3-2.1 -0.8-2.4 0.2-1zM867.8 1026.5l0.7-0.3 1-0.1 1 0.4 0.4 0.5 0.2 1 -0.1 1.5 0.3 1.5 -0.3 0.9 -0.5 0.4 -0.5 0.2 -1 0 -0.5-0.3 -0.5-0.7 -0.6-4 0.1-0.5z" fill="none" stroke="#000" stroke-width="1.25" stroke-linejoin="round"/>
<rect x="801.5" y="929.5" width="266" height="268" fill="none" stroke="#404040" stroke-width="1.15"/>
<rect x="890.5" y="993.5" width="137" height="86" fill="none" stroke="#404040" stroke-width="1.15"/>
<path d="M801.5 1197.5v7.5M821.5 1197.5v2.8M833.5 1197.5v2.8M841.5 1197.5v2.8M847.5 1197.5v5M853.5 1197.5v2.8M857.5 1197.5v2.8M861.5 1197.5v2.8M864.5 1197.5v2.8M801.5 1197.5h-7.3M801.5 1177.5h-2.8M801.5 1165.5h-2.8M801.5 1157.5h-2.8M801.5 1150.5h-4.8M801.5 1145.5h-2.8M801.5 1140.5h-2.8M801.5 1136.5h-2.8M801.5 1133.5h-2.8M868.5 1197.5v7.5M888.5 1197.5v2.8M899.5 1197.5v2.8M908.5 1197.5v2.8M914.5 1197.5v5M919.5 1197.5v2.8M924.5 1197.5v2.8M928.5 1197.5v2.8M931.5 1197.5v2.8M801.5 1130.5h-7.3M801.5 1110.5h-2.8M801.5 1098.5h-2.8M801.5 1090.5h-2.8M801.5 1083.5h-4.8M801.5 1078.5h-2.8M801.5 1073.5h-2.8M801.5 1069.5h-2.8M801.5 1066.5h-2.8M934.5 1197.5v7.5M954.5 1197.5v2.8M966.5 1197.5v2.8M974.5 1197.5v2.8M980.5 1197.5v5M986.5 1197.5v2.8M990.5 1197.5v2.8M994.5 1197.5v2.8M997.5 1197.5v2.8M801.5 1063.5h-7.3M801.5 1043.5h-2.8M801.5 1031.5h-2.8M801.5 1023.5h-2.8M801.5 1016.5h-4.8M801.5 1011.5h-2.8M801.5 1006.5h-2.8M801.5 1002.5h-2.8M801.5 999.5h-2.8M1001.5 1197.5v7.5M1021.5 1197.5v2.8M1032.5 1197.5v2.8M1041.5 1197.5v2.8M1047.5 1197.5v5M1052.5 1197.5v2.8M1057.5 1197.5v2.8M1061.5 1197.5v2.8M1064.5 1197.5v2.8M801.5 996.5h-7.3M801.5 976.5h-2.8M801.5 964.5h-2.8M801.5 956.5h-2.8M801.5 949.5h-4.8M801.5 944.5h-2.8M801.5 939.5h-2.8M801.5 935.5h-2.8M801.5 932.5h-2.8M1067.5 1197.5v7.5M801.5 929.5h-7.3" stroke="#404040" stroke-width="1.15" fill="none"/>
<text x="986.6" y="1029.4" font-size="26" font-weight="normal" text-anchor="middle" fill="#111" stroke="#fff" stroke-width="0.3" letter-spacing="0.4">10.1</text>
<text transform="translate(248.1 42.9) scale(1.0 1.07)" font-size="45.5" font-weight="normal">CD4</text>
<text x="340.3" y="21.4" font-size="34" font-weight="normal" text-anchor="start" >+</text>
<text transform="translate(551.7 45.1) scale(1.0 1.07)" font-size="45.5" font-weight="normal">CD8</text>
<text x="643.6" y="23.8" font-size="34" font-weight="normal" text-anchor="start" >+</text>
<text transform="translate(890.7 43.2) scale(1.05 1.06)" font-size="45.5" font-weight="normal">DP</text>
<text x="9.3" y="39" font-size="33" font-weight="bold" text-anchor="start" >A</text>
<text x="9.6" y="1355" font-size="33" font-weight="bold" text-anchor="start" >B</text>
<text transform="translate(87.4 196.7) scale(1.055 1.05)" font-size="45.5" font-weight="normal">CP</text>
<text transform="translate(85.9 503.8) scale(1.055 1.01)" font-size="45.5" font-weight="normal">LP</text>
<text transform="translate(79 782) scale(1.055 1.01)" font-size="45.5" font-weight="normal">CPi</text>
<text transform="translate(78.6 1065.2) scale(1.045 1.02)" font-size="45.5" font-weight="normal">LPi</text>
<text x="173" y="1262.3" font-size="45.5" font-weight="normal" text-anchor="start" >Ki67</text>
<line x1="288" y1="1250.4" x2="388" y2="1250.4" stroke="#000" stroke-width="3.6"/>
<path d="M385.8 1240.2L407.6 1250.5L385.8 1260.8z" fill="#000"/>
<path d="M184.9 1208.2q2.4 -4.2 4.8 0" fill="none" stroke="#222" stroke-width="1.1"/>
<path d="M253.6 1208.2l1.2 -3" fill="none" stroke="#222" stroke-width="1.2"/>
<path d="M319.1 1208.2q2.4 -4.2 4.8 0" fill="none" stroke="#222" stroke-width="1.1"/>
<path d="M385.9 1208.2q2.4 -4.2 4.8 0" fill="none" stroke="#222" stroke-width="1.1"/>
<path d="M455.5 1208.2l1.2 -3" fill="none" stroke="#222" stroke-width="1.2"/>
<rect x="806.5" y="1207" width="1.6" height="1.4" fill="#777"/>
<rect x="873.4" y="1207" width="1.6" height="1.4" fill="#777"/>
<rect x="940.7" y="1207" width="1.6" height="1.4" fill="#777"/>
<rect x="1007.5" y="1207" width="1.6" height="1.4" fill="#777"/>
<rect x="1074.1" y="1207" width="1.6" height="1.4" fill="#777"/>
<rect x="804.1" y="336.2" width="1.4" height="1.2" fill="#99a"/>
<rect x="872.2" y="336.2" width="1.4" height="1.2" fill="#99a"/>
<rect x="938.3" y="336.2" width="1.4" height="1.2" fill="#99a"/>
<rect x="1004.3" y="336.2" width="1.4" height="1.2" fill="#99a"/>
<rect x="1070.3" y="336.2" width="1.4" height="1.2" fill="#99a"/>
<path d="M707.3 424.4q2.6 -1.4 2 1.2l-1 1.6M708.3 429.3v1.2" fill="none" stroke="#112" stroke-width="1.4"/>
<line x1="112.4" y1="1421.8" x2="112.4" y2="1752.2" stroke="#000" stroke-width="3.3"/>
<line x1="110.8" y1="1750.5" x2="605" y2="1750.5" stroke="#000" stroke-width="3.3"/>
<line x1="102.9" y1="1423.4" x2="112.4" y2="1423.4" stroke="#000" stroke-width="3.3"/>
<text x="99.4" y="1430.9" font-size="25" font-weight="bold" text-anchor="end" >25</text>
<line x1="102.9" y1="1488.9" x2="112.4" y2="1488.9" stroke="#000" stroke-width="3.3"/>
<text x="99.4" y="1496.4" font-size="25" font-weight="bold" text-anchor="end" >20</text>
<line x1="102.9" y1="1554.2" x2="112.4" y2="1554.2" stroke="#000" stroke-width="3.3"/>
<text x="99.4" y="1561.7" font-size="25" font-weight="bold" text-anchor="end" >15</text>
<line x1="102.9" y1="1619.6" x2="112.4" y2="1619.6" stroke="#000" stroke-width="3.3"/>
<text x="99.4" y="1627.1" font-size="25" font-weight="bold" text-anchor="end" >10</text>
<line x1="102.9" y1="1685.1" x2="112.4" y2="1685.1" stroke="#000" stroke-width="3.3"/>
<text x="99.4" y="1692.6" font-size="25" font-weight="bold" text-anchor="end" >5</text>
<line x1="102.9" y1="1750.5" x2="112.4" y2="1750.5" stroke="#000" stroke-width="3.3"/>
<text x="99.4" y="1758" font-size="25" font-weight="bold" text-anchor="end" >0</text>
<line x1="186.4" y1="1750.5" x2="186.4" y2="1760" stroke="#000" stroke-width="3.3"/>
<text x="186" y="1785.6" font-size="24.5" font-weight="bold" text-anchor="middle" >CP</text>
<line x1="284.6" y1="1750.5" x2="284.6" y2="1760" stroke="#000" stroke-width="3.3"/>
<text x="284.2" y="1785.6" font-size="24.5" font-weight="bold" text-anchor="middle" >LP</text>
<line x1="431.8" y1="1750.5" x2="431.8" y2="1760" stroke="#000" stroke-width="3.3"/>
<text x="431.4" y="1785.6" font-size="24.5" font-weight="bold" text-anchor="middle" >CPi</text>
<line x1="529.7" y1="1750.5" x2="529.7" y2="1760" stroke="#000" stroke-width="3.3"/>
<text x="529.3" y="1785.6" font-size="24.5" font-weight="bold" text-anchor="middle" >LPi</text>
<line x1="256.6" y1="1402" x2="323.9" y2="1402" stroke="#000" stroke-width="5"/>
<text x="288.2" y="1393.7" font-size="32" font-weight="normal" text-anchor="middle" >a</text>
<line x1="514" y1="1402" x2="581" y2="1402" stroke="#000" stroke-width="5"/>
<text x="549.5" y="1393.7" font-size="32" font-weight="normal" text-anchor="middle" >c</text>
<g fill="#000">
<circle cx="186.2" cy="1488" r="6.6"/>
<circle cx="186.2" cy="1524.5" r="6.6"/>
<circle cx="195.8" cy="1531.3" r="6.6"/>
<circle cx="176.6" cy="1546.8" r="6.6"/>
<circle cx="166.8" cy="1576.7" r="6.6"/>
<circle cx="186.2" cy="1572.6" r="6.6"/>
<circle cx="215.9" cy="1587.1" r="6.6"/>
<circle cx="186.2" cy="1594" r="6.6"/>
<circle cx="166.8" cy="1605.9" r="6.6"/>
<circle cx="205.9" cy="1604.4" r="6.6"/>
<circle cx="186.2" cy="1616.1" r="6.6"/>
<circle cx="186.2" cy="1648.8" r="6.6"/>
<rect x="277.7" y="1445.6" width="13.4" height="13.4"/>
<rect x="288.3" y="1584.8" width="13.4" height="13.4"/>
<rect x="267.9" y="1590.2" width="13.4" height="13.4"/>
<rect x="277.7" y="1617.5" width="13.4" height="13.4"/>
<rect x="258.4" y="1641.6" width="13.4" height="13.4"/>
<rect x="248.2" y="1647" width="13.4" height="13.4"/>
<rect x="288.3" y="1640.2" width="13.4" height="13.4"/>
<rect x="317.1" y="1647.7" width="13.4" height="13.4"/>
<rect x="267.9" y="1657.3" width="13.4" height="13.4"/>
<rect x="297.7" y="1664.1" width="13.4" height="13.4"/>
<rect x="288.3" y="1679.5" width="13.4" height="13.4"/>
<rect x="267.9" y="1684.9" width="13.4" height="13.4"/>
<path d="M422 1454.8L429 1468.7L415 1468.7z"/>
<path d="M441.8 1453.3L448.8 1467.4L434.8 1467.4z"/>
<path d="M451.4 1488.9L458.4 1502.6L444.4 1502.6z"/>
<path d="M402.3 1495.2L409.3 1509.1L395.3 1509.1z"/>
<path d="M431.8 1496.6L438.8 1510.3L424.8 1510.3z"/>
<path d="M412 1508.7L419 1523.2L405 1523.2z"/>
<path d="M451.4 1508.7L458.4 1523.2L444.4 1523.2z"/>
<path d="M431.8 1527L438.8 1541.1L424.8 1541.1z"/>
<path d="M451.4 1547.6L458.4 1561.7L444.4 1561.7z"/>
<path d="M412 1558.2L419 1571.9L405 1571.9z"/>
<path d="M431.8 1560.7L438.8 1574.7L424.8 1574.7z"/>
<path d="M431.8 1589.9L438.8 1603.6L424.8 1603.6z"/>
<path d="M559.6 1648.3L566.6 1634.2L552.6 1634.2z"/>
<path d="M490.9 1660.4L497.9 1646.9L483.9 1646.9z"/>
<path d="M539.9 1661.4L546.9 1647.7L532.9 1647.7z"/>
<path d="M510.5 1664.3L517.5 1650.6L503.5 1650.6z"/>
<path d="M569.4 1670.4L576.4 1656.5L562.4 1656.5z"/>
<path d="M520.3 1672L527.3 1658.3L513.3 1658.3z"/>
<path d="M500.5 1686L507.5 1671.7L493.5 1671.7z"/>
<path d="M529.7 1687.4L536.7 1672.9L522.7 1672.9z"/>
<path d="M549.6 1685.4L556.6 1671.7L542.6 1671.7z"/>
<path d="M510.5 1696.6L517.5 1682.9L503.5 1682.9z"/>
<path d="M549.6 1706.2L556.6 1692.5L542.6 1692.5z"/>
<path d="M529.7 1708.1L536.7 1694.5L522.7 1694.5z"/>
</g>
<line x1="137.1" y1="1574.7" x2="235.2" y2="1574.7" stroke="#000" stroke-width="3.6"/>
<line x1="162" y1="1561.3" x2="210.9" y2="1561.3" stroke="#000" stroke-width="1.5"/>
<line x1="162" y1="1587.6" x2="210.9" y2="1587.6" stroke="#000" stroke-width="1.5"/>
<line x1="186.2" y1="1561.3" x2="186.2" y2="1587.6" stroke="#000" stroke-width="1.5"/>
<line x1="235.2" y1="1631.5" x2="333.4" y2="1631.5" stroke="#000" stroke-width="3.6"/>
<line x1="260.1" y1="1613.2" x2="309" y2="1613.2" stroke="#000" stroke-width="1.5"/>
<line x1="260.1" y1="1650.2" x2="309" y2="1650.2" stroke="#000" stroke-width="1.5"/>
<line x1="284.4" y1="1613.2" x2="284.4" y2="1650.2" stroke="#000" stroke-width="1.5"/>
<line x1="382.5" y1="1523.2" x2="480.9" y2="1523.2" stroke="#000" stroke-width="3.6"/>
<line x1="407.5" y1="1510.1" x2="456.2" y2="1510.1" stroke="#000" stroke-width="1.5"/>
<line x1="407.5" y1="1534.7" x2="456.2" y2="1534.7" stroke="#000" stroke-width="1.5"/>
<line x1="431.8" y1="1510.1" x2="431.8" y2="1534.7" stroke="#000" stroke-width="1.5"/>
<line x1="480.9" y1="1671.7" x2="579" y2="1671.7" stroke="#000" stroke-width="3.6"/>
<line x1="505.7" y1="1666" x2="554.8" y2="1666" stroke="#000" stroke-width="1.5"/>
<line x1="505.7" y1="1676.6" x2="554.8" y2="1676.6" stroke="#000" stroke-width="1.5"/>
<line x1="529.7" y1="1666" x2="529.7" y2="1676.6" stroke="#000" stroke-width="1.5"/>
<text xml:space="preserve" transform="translate(28.8 1759.5) rotate(-90) scale(1.045 1)" font-size="26.5" font-weight="bold" text-anchor="start" stroke="#fff" stroke-width="0.45" textLength="333.5" lengthAdjust="spacing"><tspan>CD4</tspan><tspan dy="-12.5" font-size="21">+</tspan><tspan dy="12.5"> Ki67</tspan><tspan dy="-12.5" font-size="21">+</tspan><tspan dy="12.5">/ CD4</tspan><tspan dy="-12.5" font-size="21">+</tspan><tspan dy="12.5"> T cell (%)</tspan></text>
<line x1="803.4" y1="1421.8" x2="803.4" y2="1752.5" stroke="#000" stroke-width="3.3"/>
<line x1="801.8" y1="1750.8" x2="1297" y2="1750.8" stroke="#000" stroke-width="3.3"/>
<line x1="793.9" y1="1423.4" x2="803.4" y2="1423.4" stroke="#000" stroke-width="3.3"/>
<text x="790.4" y="1430.9" font-size="25" font-weight="bold" text-anchor="end" >80</text>
<line x1="793.9" y1="1505.3" x2="803.4" y2="1505.3" stroke="#000" stroke-width="3.3"/>
<text x="790.4" y="1512.8" font-size="25" font-weight="bold" text-anchor="end" >60</text>
<line x1="793.9" y1="1587.1" x2="803.4" y2="1587.1" stroke="#000" stroke-width="3.3"/>
<text x="790.4" y="1594.6" font-size="25" font-weight="bold" text-anchor="end" >40</text>
<line x1="793.9" y1="1668.9" x2="803.4" y2="1668.9" stroke="#000" stroke-width="3.3"/>
<text x="790.4" y="1676.4" font-size="25" font-weight="bold" text-anchor="end" >20</text>
<line x1="793.9" y1="1750.8" x2="803.4" y2="1750.8" stroke="#000" stroke-width="3.3"/>
<text x="790.4" y="1758.3" font-size="25" font-weight="bold" text-anchor="end" >0</text>
<line x1="876.8" y1="1750.8" x2="876.8" y2="1760.3" stroke="#000" stroke-width="3.3"/>
<text x="876.4" y="1785.9" font-size="24.5" font-weight="bold" text-anchor="middle" >CP</text>
<line x1="975" y1="1750.8" x2="975" y2="1760.3" stroke="#000" stroke-width="3.3"/>
<text x="974.6" y="1785.9" font-size="24.5" font-weight="bold" text-anchor="middle" >LP</text>
<line x1="1122.3" y1="1750.8" x2="1122.3" y2="1760.3" stroke="#000" stroke-width="3.3"/>
<text x="1121.9" y="1785.9" font-size="24.5" font-weight="bold" text-anchor="middle" >CPi</text>
<line x1="1220.5" y1="1750.8" x2="1220.5" y2="1760.3" stroke="#000" stroke-width="3.3"/>
<text x="1220.1" y="1785.9" font-size="24.5" font-weight="bold" text-anchor="middle" >LPi</text>
<line x1="944.5" y1="1402" x2="1011.5" y2="1402" stroke="#000" stroke-width="5"/>
<text x="976" y="1393.7" font-size="32" font-weight="normal" text-anchor="middle" >a</text>
<line x1="1196.2" y1="1402" x2="1263" y2="1402" stroke="#000" stroke-width="5"/>
<text x="1229.5" y="1393.7" font-size="32" font-weight="normal" text-anchor="middle" >c</text>
<g fill="#000">
<circle cx="867" cy="1470.2" r="6.6"/>
<circle cx="886.6" cy="1478.9" r="6.6"/>
<circle cx="837.5" cy="1510.7" r="6.6"/>
<circle cx="857.4" cy="1516.4" r="6.6"/>
<circle cx="916.1" cy="1514.9" r="6.6"/>
<circle cx="896.8" cy="1526.6" r="6.6"/>
<circle cx="877" cy="1529.5" r="6.6"/>
<circle cx="847.4" cy="1535.7" r="6.6"/>
<circle cx="906.4" cy="1543.8" r="6.6"/>
<circle cx="867" cy="1547.8" r="6.6"/>
<circle cx="886.6" cy="1553.4" r="6.6"/>
<circle cx="877" cy="1573.8" r="6.6"/>
<rect x="948.4" y="1489" width="13.4" height="13.4"/>
<rect x="968.4" y="1507.8" width="13.4" height="13.4"/>
<rect x="988.1" y="1505.5" width="13.4" height="13.4"/>
<rect x="938.8" y="1539.6" width="13.4" height="13.4"/>
<rect x="1008.1" y="1546.3" width="13.4" height="13.4"/>
<rect x="958.8" y="1551.1" width="13.4" height="13.4"/>
<rect x="988.1" y="1554.6" width="13.4" height="13.4"/>
<rect x="978.3" y="1569.8" width="13.4" height="13.4"/>
<rect x="958.8" y="1577.1" width="13.4" height="13.4"/>
<rect x="958.8" y="1600.6" width="13.4" height="13.4"/>
<rect x="978.3" y="1606.5" width="13.4" height="13.4"/>
<rect x="968.4" y="1639.6" width="13.4" height="13.4"/>
<path d="M1102.9 1444.2L1109.9 1458.1L1095.9 1458.1z"/>
<path d="M1132.1 1443.7L1139.1 1457.7L1125.1 1457.7z"/>
<path d="M1112.5 1452.7L1119.5 1466.8L1105.5 1466.8z"/>
<path d="M1142.3 1465.2L1149.3 1479.3L1135.3 1479.3z"/>
<path d="M1112.5 1478.3L1119.5 1492.4L1105.5 1492.4z"/>
<path d="M1132.1 1477.7L1139.1 1491.8L1125.1 1491.8z"/>
<path d="M1091 1481.8L1098 1495.8L1084 1495.8z"/>
<path d="M1153.9 1481.2L1160.9 1495.3L1146.9 1495.3z"/>
<path d="M1141.4 1487L1148.4 1500.7L1134.4 1500.7z"/>
<path d="M1103.5 1491.2L1110.5 1504.9L1096.5 1504.9z"/>
<path d="M1128.9 1494.1L1135.9 1507.8L1121.9 1507.8z"/>
<path d="M1116 1495.6L1123 1509.7L1109 1509.7z"/>
<path d="M1220.7 1570L1227.7 1556.3L1213.7 1556.3z"/>
<path d="M1211 1585L1218 1571.3L1204 1571.3z"/>
<path d="M1240.5 1599.4L1247.5 1585.7L1233.5 1585.7z"/>
<path d="M1250.1 1613.8L1257.1 1600.2L1243.1 1600.2z"/>
<path d="M1181.4 1618.3L1188.4 1604.6L1174.4 1604.6z"/>
<path d="M1201 1619.2L1208 1605.5L1194 1605.5z"/>
<path d="M1230.5 1618.7L1237.5 1605L1223.5 1605z"/>
<path d="M1211 1631.2L1218 1617.5L1204 1617.5z"/>
<path d="M1230.5 1642.1L1237.5 1628.1L1223.5 1628.1z"/>
<path d="M1201 1664.5L1208 1650.8L1194 1650.8z"/>
<path d="M1240.5 1670.2L1247.5 1656.5L1233.5 1656.5z"/>
<path d="M1220.7 1673.9L1227.7 1659.8L1213.7 1659.8z"/>
</g>
<line x1="827.9" y1="1525.3" x2="926.1" y2="1525.3" stroke="#000" stroke-width="3.6"/>
<line x1="852.5" y1="1516.6" x2="901.2" y2="1516.6" stroke="#000" stroke-width="1.5"/>
<line x1="852.5" y1="1533.6" x2="901.2" y2="1533.6" stroke="#000" stroke-width="1.5"/>
<line x1="877" y1="1516.6" x2="877" y2="1533.6" stroke="#000" stroke-width="1.5"/>
<line x1="926.1" y1="1564" x2="1024.4" y2="1564" stroke="#000" stroke-width="3.6"/>
<line x1="950.7" y1="1551.3" x2="999.4" y2="1551.3" stroke="#000" stroke-width="1.5"/>
<line x1="950.7" y1="1576.5" x2="999.4" y2="1576.5" stroke="#000" stroke-width="1.5"/>
<line x1="975.1" y1="1551.3" x2="975.1" y2="1576.5" stroke="#000" stroke-width="1.5"/>
<line x1="1073.4" y1="1481.8" x2="1171.8" y2="1481.8" stroke="#000" stroke-width="3.6"/>
<line x1="1098.1" y1="1476" x2="1147.2" y2="1476" stroke="#000" stroke-width="1.5"/>
<line x1="1098.1" y1="1487" x2="1147.2" y2="1487" stroke="#000" stroke-width="1.5"/>
<line x1="1122.7" y1="1476" x2="1122.7" y2="1487" stroke="#000" stroke-width="1.5"/>
<line x1="1171.8" y1="1618.4" x2="1269.9" y2="1618.4" stroke="#000" stroke-width="3.6"/>
<line x1="1196.2" y1="1608.8" x2="1244.9" y2="1608.8" stroke="#000" stroke-width="1.5"/>
<line x1="1196.2" y1="1628.1" x2="1244.9" y2="1628.1" stroke="#000" stroke-width="1.5"/>
<line x1="1220.7" y1="1608.8" x2="1220.7" y2="1628.1" stroke="#000" stroke-width="1.5"/>
<text xml:space="preserve" transform="translate(719 1760.3) rotate(-90) scale(1.045 1)" font-size="26.5" font-weight="bold" text-anchor="start" stroke="#fff" stroke-width="0.45" textLength="334.5" lengthAdjust="spacing"><tspan>CD8</tspan><tspan dy="-12.5" font-size="21">+</tspan><tspan dy="12.5"> Ki67</tspan><tspan dy="-12.5" font-size="21">+</tspan><tspan dy="12.5"> / CD8</tspan><tspan dy="-12.5" font-size="21">+</tspan><tspan dy="12.5"> T cell (%)</tspan></text>
<line x1="117" y1="1889.9" x2="117" y2="2220.6" stroke="#000" stroke-width="3.3"/>
<line x1="115.3" y1="2218.9" x2="608" y2="2218.9" stroke="#000" stroke-width="3.3"/>
<line x1="107.5" y1="1891.6" x2="117" y2="1891.6" stroke="#000" stroke-width="3.3"/>
<text x="104" y="1899.1" font-size="25" font-weight="bold" text-anchor="end" >40</text>
<line x1="107.5" y1="1973.6" x2="117" y2="1973.6" stroke="#000" stroke-width="3.3"/>
<text x="104" y="1981.1" font-size="25" font-weight="bold" text-anchor="end" >30</text>
<line x1="107.5" y1="2055.5" x2="117" y2="2055.5" stroke="#000" stroke-width="3.3"/>
<text x="104" y="2063" font-size="25" font-weight="bold" text-anchor="end" >20</text>
<line x1="107.5" y1="2137.3" x2="117" y2="2137.3" stroke="#000" stroke-width="3.3"/>
<text x="104" y="2144.8" font-size="25" font-weight="bold" text-anchor="end" >10</text>
<line x1="107.5" y1="2218.9" x2="117" y2="2218.9" stroke="#000" stroke-width="3.3"/>
<text x="104" y="2226.4" font-size="25" font-weight="bold" text-anchor="end" >0</text>
<line x1="189.8" y1="2218.9" x2="189.8" y2="2228.4" stroke="#000" stroke-width="3.3"/>
<text x="189.4" y="2254" font-size="24.5" font-weight="bold" text-anchor="middle" >CP</text>
<line x1="288.1" y1="2218.9" x2="288.1" y2="2228.4" stroke="#000" stroke-width="3.3"/>
<text x="287.7" y="2254" font-size="24.5" font-weight="bold" text-anchor="middle" >LP</text>
<line x1="435.4" y1="2218.9" x2="435.4" y2="2228.4" stroke="#000" stroke-width="3.3"/>
<text x="435" y="2254" font-size="24.5" font-weight="bold" text-anchor="middle" >CPi</text>
<line x1="533.2" y1="2218.9" x2="533.2" y2="2228.4" stroke="#000" stroke-width="3.3"/>
<text x="532.8" y="2254" font-size="24.5" font-weight="bold" text-anchor="middle" >LPi</text>
<line x1="256.9" y1="1891.6" x2="323.6" y2="1891.6" stroke="#000" stroke-width="5"/>
<text x="288.2" y="1883.3" font-size="32" font-weight="normal" text-anchor="middle" >a</text>
<line x1="407.5" y1="1891.6" x2="474.5" y2="1891.6" stroke="#000" stroke-width="5"/>
<text x="441" y="1883.3" font-size="32" font-weight="normal" text-anchor="middle" >b</text>
<line x1="509.2" y1="1891.6" x2="575.9" y2="1891.6" stroke="#000" stroke-width="5"/>
<text x="542.5" y="1883.3" font-size="32" font-weight="normal" text-anchor="middle" >c</text>
<g fill="#000">
<circle cx="189.9" cy="1939.3" r="6.6"/>
<circle cx="150.4" cy="1970.5" r="6.6"/>
<circle cx="170.2" cy="1975.5" r="6.6"/>
<circle cx="209.7" cy="1971.6" r="6.6"/>
<circle cx="229.3" cy="1969.1" r="6.6"/>
<circle cx="189.9" cy="1983.9" r="6.6"/>
<circle cx="189.9" cy="2006.6" r="6.6"/>
<circle cx="170.2" cy="2032.6" r="6.6"/>
<circle cx="189.9" cy="2033.6" r="6.6"/>
<circle cx="209.7" cy="2028.2" r="6.6"/>
<circle cx="179.9" cy="2062.1" r="6.6"/>
<circle cx="199.7" cy="2061.1" r="6.6"/>
<rect x="281.3" y="1999.9" width="13.4" height="13.4"/>
<rect x="281.3" y="2022.7" width="13.4" height="13.4"/>
<rect x="261.7" y="2095.2" width="13.4" height="13.4"/>
<rect x="301.2" y="2106.4" width="13.4" height="13.4"/>
<rect x="281.3" y="2113.1" width="13.4" height="13.4"/>
<rect x="252.1" y="2129.9" width="13.4" height="13.4"/>
<rect x="310.8" y="2131.2" width="13.4" height="13.4"/>
<rect x="271.3" y="2137.6" width="13.4" height="13.4"/>
<rect x="261.7" y="2141.4" width="13.4" height="13.4"/>
<rect x="291.1" y="2138.9" width="13.4" height="13.4"/>
<rect x="301.2" y="2156.4" width="13.4" height="13.4"/>
<rect x="281.3" y="2159.7" width="13.4" height="13.4"/>
<path d="M445.1 2125.8L452.1 2139.4L438.1 2139.4z"/>
<path d="M415.8 2130.6L422.8 2144.2L408.8 2144.2z"/>
<path d="M425.4 2136.3L432.4 2150.4L418.4 2150.4z"/>
<path d="M474.5 2136L481.5 2149.6L467.5 2149.6z"/>
<path d="M454.9 2139.4L461.9 2153.1L447.9 2153.1z"/>
<path d="M406.2 2144.2L413.2 2157.9L399.2 2157.9z"/>
<path d="M435.4 2150.8L442.4 2164.5L428.4 2164.5z"/>
<path d="M396 2156.2L403 2169.8L389 2169.8z"/>
<path d="M415.8 2161.9L422.8 2175.6L408.8 2175.6z"/>
<path d="M474.5 2161L481.5 2174.7L467.5 2174.7z"/>
<path d="M435.4 2171.9L442.4 2185.6L428.4 2185.6z"/>
<path d="M454.9 2171.2L461.9 2184.9L447.9 2184.9z"/>
<path d="M533.2 2109.2L540.2 2095.6L526.2 2095.6z"/>
<path d="M492.8 2115.2L499.8 2101.5L485.8 2101.5z"/>
<path d="M574.6 2114.6L581.6 2100.9L567.6 2100.9z"/>
<path d="M558.2 2117.1L565.2 2103.4L551.2 2103.4z"/>
<path d="M508.8 2123.9L515.8 2110.2L501.8 2110.2z"/>
<path d="M541.9 2129.6L548.9 2116L534.9 2116z"/>
<path d="M525.5 2133.3L532.5 2119.6L518.5 2119.6z"/>
<path d="M553.4 2147.9L560.4 2134.2L546.4 2134.2z"/>
<path d="M514 2151.6L521 2137.9L507 2137.9z"/>
<path d="M533.2 2166L540.2 2151.9L526.2 2151.9z"/>
<path d="M542.8 2170.4L549.8 2156.8L535.8 2156.8z"/>
<path d="M523.6 2186.2L530.6 2172.2L516.6 2172.2z"/>
</g>
<line x1="140.4" y1="2002.4" x2="239" y2="2002.4" stroke="#000" stroke-width="3.6"/>
<line x1="165.4" y1="1991.2" x2="214.5" y2="1991.2" stroke="#000" stroke-width="1.5"/>
<line x1="165.4" y1="2014" x2="214.5" y2="2014" stroke="#000" stroke-width="1.5"/>
<line x1="189.9" y1="1991.2" x2="189.9" y2="2014" stroke="#000" stroke-width="1.5"/>
<line x1="239" y1="2117.7" x2="337.1" y2="2117.7" stroke="#000" stroke-width="3.6"/>
<line x1="263.6" y1="2103.4" x2="312.7" y2="2103.4" stroke="#000" stroke-width="1.5"/>
<line x1="263.6" y1="2132.1" x2="312.7" y2="2132.1" stroke="#000" stroke-width="1.5"/>
<line x1="288" y1="2103.4" x2="288" y2="2132.1" stroke="#000" stroke-width="1.5"/>
<line x1="386" y1="2155.4" x2="484.1" y2="2155.4" stroke="#000" stroke-width="3.6"/>
<line x1="411" y1="2152" x2="460.1" y2="2152" stroke="#000" stroke-width="1.5"/>
<line x1="411" y1="2159.6" x2="460.1" y2="2159.6" stroke="#000" stroke-width="1.5"/>
<line x1="435.4" y1="2152" x2="435.4" y2="2159.6" stroke="#000" stroke-width="1.5"/>
<line x1="484.1" y1="2131.2" x2="582.7" y2="2131.2" stroke="#000" stroke-width="3.6"/>
<line x1="509.2" y1="2124.4" x2="558.2" y2="2124.4" stroke="#000" stroke-width="1.5"/>
<line x1="509.2" y1="2138.9" x2="558.2" y2="2138.9" stroke="#000" stroke-width="1.5"/>
<line x1="533.2" y1="2124.4" x2="533.2" y2="2138.9" stroke="#000" stroke-width="1.5"/>
<text xml:space="preserve" transform="translate(33.2 2216) rotate(-90) scale(1.05 1)" font-size="26.5" font-weight="bold" text-anchor="start" stroke="#fff" stroke-width="0.45"><tspan>DP Ki67</tspan><tspan dy="-12.5" font-size="21">+</tspan><tspan dy="12.5"> / DP T cells (%)</tspan></text>
</svg>
</body></html>
